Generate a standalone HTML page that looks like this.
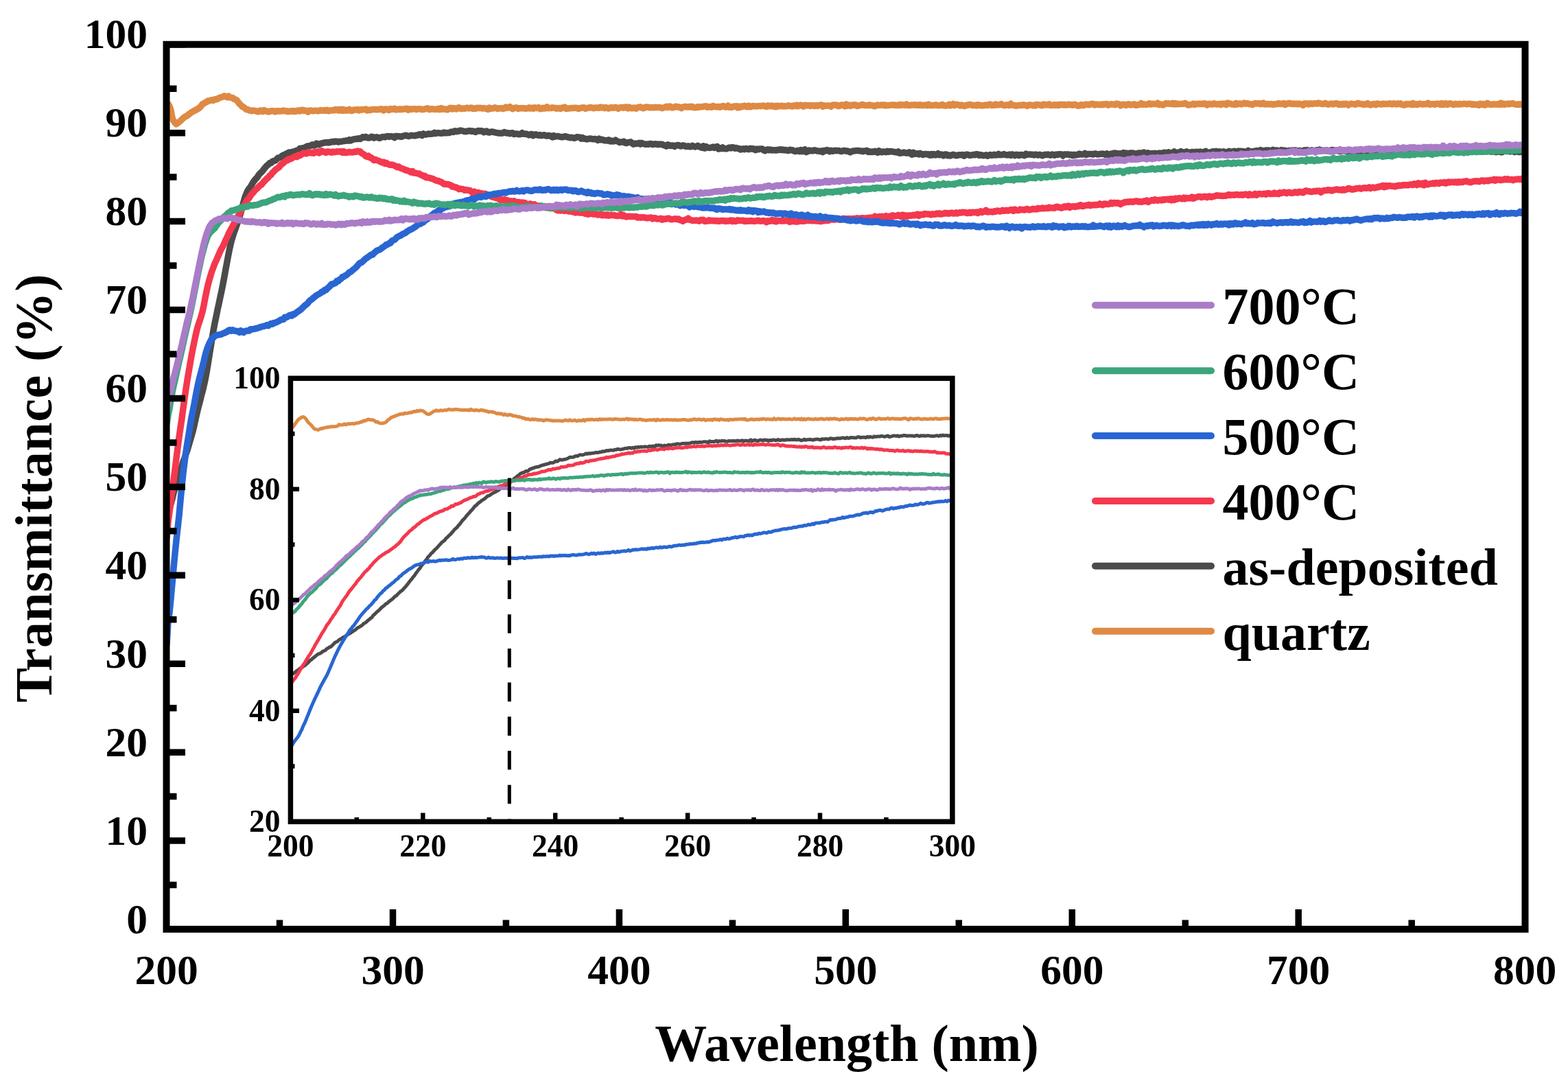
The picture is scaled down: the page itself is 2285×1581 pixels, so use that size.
<!DOCTYPE html>
<html><head><meta charset="utf-8"><title>Transmittance</title><style>html,body{margin:0;padding:0;background:#fff;}svg{display:block;}</style></head><body>
<svg width="2285" height="1581" viewBox="0 0 2285 1581">
<rect x="0" y="0" width="2285" height="1581" fill="#ffffff"/>
<defs><clipPath id="cm"><rect x="242.5" y="64.75" width="1980" height="1289.25"/></clipPath><clipPath id="ci"><rect x="423.4" y="551.3" width="964.5" height="646"/></clipPath></defs>
<g clip-path="url(#cm)" fill="none" stroke-width="9.5" stroke-linejoin="round" stroke-linecap="round">
<path d="M243.0 150.0 L245.0 151.5 L247.0 154.8 L249.0 160.5 L251.0 171.6 L253.0 176.1 L255.0 178.8 L257.0 180.8 L259.0 179.3 L261.0 177.7 L263.0 176.2 L265.0 174.0 L267.0 172.3 L269.0 170.4 L271.0 169.6 L273.0 168.6 L275.0 166.3 L277.0 165.5 L279.0 163.5 L281.0 162.7 L283.0 161.2 L285.0 160.9 L287.0 159.0 L289.0 158.4 L291.0 156.6 L293.0 154.6 L295.0 151.6 L297.0 150.8 L299.0 149.5 L301.0 148.6 L303.0 146.9 L305.0 146.9 L307.0 146.1 L309.0 145.7 L311.0 146.4 L313.0 144.8 L315.0 144.7 L317.0 144.4 L319.0 142.7 L321.0 142.1 L323.0 141.5 L325.0 140.9 L327.0 139.8 L329.0 140.7 L331.0 141.7 L333.0 140.2 L335.0 142.1 L337.0 142.2 L339.0 142.4 L341.0 144.5 L343.0 145.0 L345.0 145.9 L347.0 148.7 L349.0 151.2 L351.0 153.1 L353.0 155.3 L355.0 156.2 L357.0 157.9 L359.0 159.5 L361.0 159.4 L363.0 160.8 L365.0 161.0 L367.0 161.7 L369.0 160.9 L371.0 161.3 L373.0 161.7 L375.0 162.5 L377.0 162.7 L379.0 161.0 L381.0 161.4 L383.0 162.4 L385.0 160.6 L387.0 161.7 L389.0 161.9 L391.0 162.9 L393.0 162.5 L395.0 161.8 L397.0 161.7 L399.0 161.8 L401.0 163.0 L403.0 161.7 L405.0 161.7 L407.0 162.2 L409.0 161.8 L411.0 161.8 L413.0 161.1 L415.0 161.9 L417.0 161.5 L419.0 162.6 L421.0 162.3 L423.0 161.8 L425.0 162.2 L427.0 161.5 L429.0 162.5 L431.0 161.7 L433.0 162.1 L435.0 160.8 L437.0 161.9 L439.0 160.4 L441.0 160.2 L443.0 161.4 L445.0 160.9 L447.0 161.6 L449.0 163.1 L451.0 160.9 L453.0 161.0 L455.0 161.6 L457.0 161.7 L459.0 161.2 L461.0 161.2 L463.0 161.8 L465.0 161.6 L467.0 160.5 L469.0 161.1 L471.0 161.2 L473.0 160.4 L475.0 161.3 L477.0 160.4 L479.0 161.7 L481.0 161.1 L483.0 161.0 L485.0 160.5 L487.0 160.8 L489.0 159.4 L491.0 160.0 L493.0 161.0 L495.0 159.2 L497.0 161.3 L499.0 159.4 L501.0 161.1 L503.0 160.0 L505.0 161.1 L507.0 160.6 L509.0 159.4 L511.0 161.3 L513.0 161.4 L515.0 160.3 L517.0 160.1 L519.0 160.1 L521.0 159.5 L523.0 161.0 L525.0 159.8 L527.0 160.1 L529.0 159.5 L531.0 159.6 L533.0 159.1 L535.0 160.9 L537.0 159.9 L539.0 160.6 L541.0 159.9 L543.0 159.4 L545.0 159.6 L547.0 159.4 L549.0 159.8 L551.0 159.5 L553.0 159.5 L555.0 158.8 L557.0 159.1 L559.0 160.8 L561.0 159.2 L563.0 158.9 L565.0 159.8 L567.0 160.5 L569.0 158.5 L571.0 159.3 L573.0 159.0 L575.0 158.2 L577.0 159.9 L579.0 159.4 L581.0 159.4 L583.0 158.8 L585.0 159.6 L587.0 158.9 L589.0 159.1 L591.0 158.4 L593.0 158.3 L595.0 160.1 L597.0 158.8 L599.0 159.3 L601.0 159.0 L603.0 158.7 L605.0 158.7 L607.0 159.4 L609.0 158.8 L611.0 158.8 L613.0 158.9 L615.0 159.7 L617.0 159.3 L619.0 159.1 L621.0 158.4 L623.0 157.8 L625.0 159.4 L627.0 159.4 L629.0 158.6 L631.0 159.1 L633.0 159.2 L635.0 159.2 L637.0 159.3 L639.0 158.3 L641.0 159.6 L643.0 157.7 L645.0 159.1 L647.0 158.8 L649.0 159.1 L651.0 159.8 L653.0 159.5 L655.0 157.6 L657.0 157.2 L659.0 158.9 L661.0 157.6 L663.0 158.3 L665.0 158.9 L667.0 157.1 L669.0 156.8 L671.0 158.4 L673.0 158.3 L675.0 158.0 L677.0 158.2 L679.0 157.6 L681.0 157.1 L683.0 158.0 L685.0 157.4 L687.0 157.0 L689.0 158.4 L691.0 158.0 L693.0 158.3 L695.0 157.3 L697.0 157.6 L699.0 157.3 L701.0 157.4 L703.0 158.1 L705.0 157.4 L707.0 158.2 L709.0 158.2 L711.0 159.3 L713.0 156.9 L715.0 158.5 L717.0 157.8 L719.0 157.9 L721.0 156.8 L723.0 157.5 L725.0 158.4 L727.0 157.8 L729.0 157.9 L731.0 157.6 L733.0 158.6 L735.0 157.8 L737.0 156.2 L739.0 157.3 L741.0 156.4 L743.0 155.5 L745.0 157.4 L747.0 158.7 L749.0 157.7 L751.0 156.9 L753.0 157.0 L755.0 158.5 L757.0 157.8 L759.0 157.7 L761.0 157.6 L763.0 157.7 L765.0 158.2 L767.0 158.0 L769.0 157.8 L771.0 156.9 L773.0 158.0 L775.0 157.1 L777.0 158.3 L779.0 156.7 L781.0 157.5 L783.0 157.6 L785.0 156.6 L787.0 158.7 L789.0 158.6 L791.0 157.2 L793.0 158.1 L795.0 157.8 L797.0 155.7 L799.0 157.7 L801.0 157.4 L803.0 157.5 L805.0 156.7 L807.0 157.3 L809.0 157.3 L811.0 158.3 L813.0 157.7 L815.0 157.4 L817.0 158.5 L819.0 157.0 L821.0 157.1 L823.0 156.1 L825.0 158.5 L827.0 158.1 L829.0 158.0 L831.0 157.8 L833.0 157.4 L835.0 157.5 L837.0 157.2 L839.0 157.2 L841.0 157.4 L843.0 158.4 L845.0 157.7 L847.0 157.2 L849.0 156.9 L851.0 156.8 L853.0 158.4 L855.0 157.6 L857.0 157.3 L859.0 157.0 L861.0 156.4 L863.0 157.2 L865.0 157.8 L867.0 156.9 L869.0 157.0 L871.0 157.0 L873.0 157.2 L875.0 156.0 L877.0 157.0 L879.0 156.5 L881.0 157.7 L883.0 156.6 L885.0 157.5 L887.0 158.1 L889.0 156.9 L891.0 156.6 L893.0 157.2 L895.0 157.0 L897.0 156.3 L899.0 157.3 L901.0 158.4 L903.0 156.8 L905.0 156.8 L907.0 156.2 L909.0 157.2 L911.0 156.1 L913.0 156.1 L915.0 157.8 L917.0 156.2 L919.0 157.6 L921.0 157.9 L923.0 157.0 L925.0 157.2 L927.0 158.2 L929.0 156.6 L931.0 156.3 L933.0 155.8 L935.0 156.8 L937.0 157.7 L939.0 157.4 L941.0 156.0 L943.0 156.1 L945.0 156.3 L947.0 156.8 L949.0 156.5 L951.0 156.7 L953.0 156.8 L955.0 156.3 L957.0 156.5 L959.0 156.6 L961.0 156.4 L963.0 156.8 L965.0 157.7 L967.0 156.8 L969.0 156.4 L971.0 155.2 L973.0 156.6 L975.0 155.0 L977.0 155.3 L979.0 156.9 L981.0 156.8 L983.0 156.1 L985.0 155.0 L987.0 155.9 L989.0 155.7 L991.0 156.6 L993.0 157.7 L995.0 156.3 L997.0 155.6 L999.0 155.3 L1001.0 156.0 L1003.0 155.9 L1005.0 155.2 L1007.0 156.1 L1009.0 155.2 L1011.0 156.7 L1013.0 156.7 L1015.0 156.6 L1017.0 155.5 L1019.0 156.2 L1021.0 155.7 L1023.0 155.5 L1025.0 155.5 L1027.0 154.9 L1029.0 154.7 L1031.0 156.3 L1033.0 155.6 L1035.0 155.8 L1037.0 156.3 L1039.0 154.4 L1041.0 155.1 L1043.0 155.7 L1045.0 155.8 L1047.0 155.3 L1049.0 156.2 L1051.0 155.6 L1053.0 154.6 L1055.0 154.8 L1057.0 156.0 L1059.0 155.7 L1061.0 154.1 L1063.0 156.3 L1065.0 155.8 L1067.0 156.3 L1069.0 155.0 L1071.0 155.1 L1073.0 154.5 L1075.0 157.0 L1077.0 155.1 L1079.0 156.3 L1081.0 154.7 L1083.0 155.3 L1085.0 154.0 L1087.0 154.9 L1089.0 155.8 L1091.0 154.2 L1093.0 155.8 L1095.0 155.3 L1097.0 154.3 L1099.0 154.7 L1101.0 154.7 L1103.0 154.9 L1105.0 154.6 L1107.0 154.4 L1109.0 154.7 L1111.0 154.2 L1113.0 154.0 L1115.0 154.8 L1117.0 155.5 L1119.0 153.8 L1121.0 154.8 L1123.0 154.3 L1125.0 154.1 L1127.0 155.3 L1129.0 154.4 L1131.0 155.7 L1133.0 154.1 L1135.0 154.9 L1137.0 154.5 L1139.0 154.1 L1141.0 155.0 L1143.0 154.5 L1145.0 155.0 L1147.0 154.5 L1149.0 153.8 L1151.0 154.4 L1153.0 154.5 L1155.0 155.1 L1157.0 153.8 L1159.0 154.4 L1161.0 153.2 L1163.0 154.8 L1165.0 153.6 L1167.0 153.1 L1169.0 154.3 L1171.0 155.1 L1173.0 153.2 L1175.0 153.5 L1177.0 153.7 L1179.0 153.4 L1181.0 154.5 L1183.0 153.6 L1185.0 153.7 L1187.0 154.6 L1189.0 153.6 L1191.0 154.4 L1193.0 153.4 L1195.0 153.2 L1197.0 152.8 L1199.0 155.3 L1201.0 153.8 L1203.0 154.2 L1205.0 154.0 L1207.0 154.1 L1209.0 154.0 L1211.0 155.3 L1213.0 153.2 L1215.0 152.8 L1217.0 153.2 L1219.0 152.9 L1221.0 154.4 L1223.0 154.4 L1225.0 153.2 L1227.0 152.8 L1229.0 153.5 L1231.0 154.7 L1233.0 151.8 L1235.0 154.1 L1237.0 153.0 L1239.0 154.4 L1241.0 153.0 L1243.0 153.5 L1245.0 152.6 L1247.0 153.0 L1249.0 154.6 L1251.0 154.2 L1253.0 153.4 L1255.0 153.0 L1257.0 152.3 L1259.0 153.3 L1261.0 153.6 L1263.0 153.5 L1265.0 153.5 L1267.0 152.8 L1269.0 153.5 L1271.0 153.5 L1273.0 154.4 L1275.0 154.8 L1277.0 153.4 L1279.0 153.0 L1281.0 153.5 L1283.0 153.1 L1285.0 153.0 L1287.0 153.4 L1289.0 152.7 L1291.0 153.9 L1293.0 153.4 L1295.0 153.6 L1297.0 153.3 L1299.0 152.9 L1301.0 152.8 L1303.0 153.3 L1305.0 153.0 L1307.0 153.6 L1309.0 153.4 L1311.0 152.4 L1313.0 153.4 L1315.0 152.5 L1317.0 153.0 L1319.0 153.2 L1321.0 151.9 L1323.0 153.4 L1325.0 153.5 L1327.0 153.3 L1329.0 153.1 L1331.0 153.1 L1333.0 152.7 L1335.0 153.2 L1337.0 153.0 L1339.0 153.4 L1341.0 152.5 L1343.0 153.5 L1345.0 153.4 L1347.0 153.2 L1349.0 153.0 L1351.0 153.7 L1353.0 152.1 L1355.0 153.6 L1357.0 153.5 L1359.0 153.5 L1361.0 153.6 L1363.0 152.8 L1365.0 153.1 L1367.0 153.7 L1369.0 153.6 L1371.0 153.4 L1373.0 152.2 L1375.0 153.6 L1377.0 154.1 L1379.0 154.0 L1381.0 153.4 L1383.0 152.2 L1385.0 153.9 L1387.0 153.1 L1389.0 151.5 L1391.0 153.5 L1393.0 152.2 L1395.0 152.3 L1397.0 152.8 L1399.0 154.1 L1401.0 153.0 L1403.0 153.4 L1405.0 154.4 L1407.0 154.3 L1409.0 153.1 L1411.0 153.0 L1413.0 152.3 L1415.0 152.7 L1417.0 153.5 L1419.0 153.5 L1421.0 153.3 L1423.0 153.9 L1425.0 152.6 L1427.0 153.1 L1429.0 153.7 L1431.0 153.6 L1433.0 153.9 L1435.0 153.4 L1437.0 152.9 L1439.0 153.4 L1441.0 152.4 L1443.0 152.0 L1445.0 153.5 L1447.0 153.1 L1449.0 153.3 L1451.0 151.9 L1453.0 152.9 L1455.0 152.7 L1457.0 152.5 L1459.0 151.5 L1461.0 152.9 L1463.0 153.7 L1465.0 153.4 L1467.0 152.7 L1469.0 153.1 L1471.0 153.6 L1473.0 151.1 L1475.0 153.0 L1477.0 153.4 L1479.0 153.5 L1481.0 154.2 L1483.0 153.8 L1485.0 153.3 L1487.0 153.3 L1489.0 153.6 L1491.0 152.7 L1493.0 153.0 L1495.0 153.6 L1497.0 154.4 L1499.0 152.9 L1501.0 153.0 L1503.0 153.1 L1505.0 153.9 L1507.0 153.0 L1509.0 154.0 L1511.0 152.3 L1513.0 152.8 L1515.0 152.8 L1517.0 153.5 L1519.0 153.7 L1521.0 151.9 L1523.0 152.3 L1525.0 153.1 L1527.0 152.4 L1529.0 151.8 L1531.0 153.6 L1533.0 153.2 L1535.0 153.2 L1537.0 152.5 L1539.0 153.5 L1541.0 152.6 L1543.0 153.6 L1545.0 152.2 L1547.0 152.2 L1549.0 152.9 L1551.0 152.3 L1553.0 153.2 L1555.0 152.9 L1557.0 152.1 L1559.0 152.8 L1561.0 152.4 L1563.0 153.3 L1565.0 152.2 L1567.0 152.3 L1569.0 153.5 L1571.0 154.2 L1573.0 154.0 L1575.0 152.6 L1577.0 152.7 L1579.0 153.6 L1581.0 152.5 L1583.0 151.9 L1585.0 152.6 L1587.0 152.8 L1589.0 151.9 L1591.0 151.3 L1593.0 151.5 L1595.0 152.9 L1597.0 151.9 L1599.0 152.3 L1601.0 152.5 L1603.0 152.8 L1605.0 152.1 L1607.0 152.7 L1609.0 151.7 L1611.0 152.1 L1613.0 151.6 L1615.0 153.1 L1617.0 152.3 L1619.0 151.7 L1621.0 152.0 L1623.0 152.1 L1625.0 152.7 L1627.0 151.1 L1629.0 151.5 L1631.0 151.9 L1633.0 153.9 L1635.0 152.8 L1637.0 152.0 L1639.0 152.6 L1641.0 153.5 L1643.0 151.9 L1645.0 151.8 L1647.0 152.9 L1649.0 152.4 L1651.0 152.5 L1653.0 151.7 L1655.0 153.3 L1657.0 153.2 L1659.0 152.4 L1661.0 152.4 L1663.0 150.5 L1665.0 152.4 L1667.0 151.8 L1669.0 152.2 L1671.0 152.4 L1673.0 151.6 L1675.0 150.7 L1677.0 152.1 L1679.0 151.3 L1681.0 151.6 L1683.0 151.4 L1685.0 151.6 L1687.0 150.2 L1689.0 152.6 L1691.0 151.9 L1693.0 152.5 L1695.0 153.1 L1697.0 151.7 L1699.0 150.5 L1701.0 151.1 L1703.0 150.8 L1705.0 151.3 L1707.0 151.7 L1709.0 150.3 L1711.0 151.9 L1713.0 150.6 L1715.0 151.8 L1717.0 151.5 L1719.0 151.4 L1721.0 151.6 L1723.0 151.2 L1725.0 151.2 L1727.0 150.4 L1729.0 151.6 L1731.0 152.9 L1733.0 152.9 L1735.0 152.5 L1737.0 152.0 L1739.0 151.1 L1741.0 152.5 L1743.0 151.5 L1745.0 151.5 L1747.0 151.3 L1749.0 151.6 L1751.0 151.2 L1753.0 151.5 L1755.0 150.8 L1757.0 151.2 L1759.0 153.1 L1761.0 151.5 L1763.0 151.3 L1765.0 151.9 L1767.0 152.0 L1769.0 150.7 L1771.0 151.4 L1773.0 152.1 L1775.0 151.7 L1777.0 151.6 L1779.0 152.6 L1781.0 151.0 L1783.0 151.6 L1785.0 151.1 L1787.0 152.5 L1789.0 150.1 L1791.0 151.0 L1793.0 151.1 L1795.0 152.0 L1797.0 151.9 L1799.0 152.5 L1801.0 150.4 L1803.0 152.0 L1805.0 151.3 L1807.0 151.0 L1809.0 151.9 L1811.0 150.9 L1813.0 150.0 L1815.0 151.2 L1817.0 150.5 L1819.0 151.0 L1821.0 151.8 L1823.0 151.7 L1825.0 152.6 L1827.0 151.4 L1829.0 150.4 L1831.0 151.0 L1833.0 150.9 L1835.0 150.6 L1837.0 151.8 L1839.0 151.0 L1841.0 150.1 L1843.0 152.0 L1845.0 151.4 L1847.0 151.7 L1849.0 151.6 L1851.0 151.9 L1853.0 151.5 L1855.0 152.4 L1857.0 151.8 L1859.0 151.8 L1861.0 151.8 L1863.0 150.5 L1865.0 151.4 L1867.0 151.3 L1869.0 151.6 L1871.0 150.5 L1873.0 152.6 L1875.0 151.6 L1877.0 150.7 L1879.0 150.3 L1881.0 151.3 L1883.0 151.4 L1885.0 151.0 L1887.0 151.6 L1889.0 151.1 L1891.0 151.9 L1893.0 151.0 L1895.0 151.5 L1897.0 152.2 L1899.0 153.3 L1901.0 150.8 L1903.0 151.2 L1905.0 150.9 L1907.0 152.0 L1909.0 150.7 L1911.0 151.2 L1913.0 151.5 L1915.0 150.8 L1917.0 150.8 L1919.0 151.2 L1921.0 150.0 L1923.0 150.5 L1925.0 151.2 L1927.0 151.6 L1929.0 151.4 L1931.0 150.3 L1933.0 151.2 L1935.0 152.1 L1937.0 151.9 L1939.0 151.4 L1941.0 150.9 L1943.0 151.9 L1945.0 151.1 L1947.0 150.7 L1949.0 150.9 L1951.0 152.5 L1953.0 151.7 L1955.0 152.3 L1957.0 151.2 L1959.0 152.2 L1961.0 151.1 L1963.0 151.4 L1965.0 153.2 L1967.0 152.0 L1969.0 151.1 L1971.0 151.4 L1973.0 151.7 L1975.0 152.3 L1977.0 151.2 L1979.0 150.3 L1981.0 151.3 L1983.0 151.5 L1985.0 151.6 L1987.0 152.4 L1989.0 151.7 L1991.0 152.1 L1993.0 150.7 L1995.0 152.1 L1997.0 153.0 L1999.0 152.0 L2001.0 151.7 L2003.0 151.6 L2005.0 152.8 L2007.0 150.9 L2009.0 151.4 L2011.0 151.8 L2013.0 152.0 L2015.0 151.2 L2017.0 151.7 L2019.0 151.3 L2021.0 151.6 L2023.0 151.4 L2025.0 150.7 L2027.0 151.5 L2029.0 152.1 L2031.0 150.8 L2033.0 151.3 L2035.0 152.0 L2037.0 150.8 L2039.0 151.6 L2041.0 150.8 L2043.0 152.3 L2045.0 153.1 L2047.0 152.9 L2049.0 151.4 L2051.0 152.0 L2053.0 151.6 L2055.0 151.6 L2057.0 152.6 L2059.0 150.6 L2061.0 152.3 L2063.0 151.5 L2065.0 152.5 L2067.0 151.7 L2069.0 151.1 L2071.0 151.7 L2073.0 152.1 L2075.0 151.6 L2077.0 151.9 L2079.0 151.2 L2081.0 150.1 L2083.0 152.2 L2085.0 152.0 L2087.0 151.7 L2089.0 151.6 L2091.0 152.3 L2093.0 151.2 L2095.0 151.1 L2097.0 151.4 L2099.0 152.4 L2101.0 150.6 L2103.0 152.4 L2105.0 151.1 L2107.0 150.8 L2109.0 152.5 L2111.0 151.5 L2113.0 150.7 L2115.0 151.3 L2117.0 152.3 L2119.0 152.4 L2121.0 151.3 L2123.0 151.9 L2125.0 152.1 L2127.0 151.2 L2129.0 151.9 L2131.0 151.6 L2133.0 151.3 L2135.0 151.3 L2137.0 151.7 L2139.0 151.7 L2141.0 151.2 L2143.0 151.3 L2145.0 152.4 L2147.0 151.8 L2149.0 152.3 L2151.0 152.5 L2153.0 152.1 L2155.0 153.3 L2157.0 151.1 L2159.0 152.2 L2161.0 151.5 L2163.0 153.0 L2165.0 152.9 L2167.0 150.3 L2169.0 151.0 L2171.0 152.2 L2173.0 152.3 L2175.0 152.2 L2177.0 151.7 L2179.0 152.0 L2181.0 152.2 L2183.0 151.7 L2185.0 152.4 L2187.0 150.1 L2189.0 152.2 L2191.0 151.0 L2193.0 152.4 L2195.0 151.6 L2197.0 151.1 L2199.0 152.0 L2201.0 151.1 L2203.0 151.1 L2205.0 150.7 L2207.0 151.8 L2209.0 152.1 L2211.0 152.5 L2213.0 151.7 L2215.0 152.5 L2217.0 151.8 L2219.0 151.7 L2221.0 152.2" stroke="#de8a44"/>
<path d="M243.0 760.0 L245.0 747.2 L247.0 740.6 L249.0 734.0 L251.0 726.8 L253.0 718.2 L255.0 711.2 L257.0 704.7 L259.0 699.2 L261.0 693.3 L263.0 687.1 L265.0 679.3 L267.0 672.5 L269.0 667.6 L271.0 661.4 L273.0 655.8 L275.0 649.2 L277.0 642.3 L279.0 635.5 L281.0 628.5 L283.0 620.1 L285.0 610.8 L287.0 601.9 L289.0 593.6 L291.0 586.4 L293.0 578.1 L295.0 570.8 L297.0 562.5 L299.0 553.4 L301.0 542.9 L303.0 531.0 L305.0 518.4 L307.0 505.9 L309.0 493.4 L311.0 481.3 L313.0 470.9 L315.0 461.4 L317.0 451.3 L319.0 442.4 L321.0 432.7 L323.0 423.5 L325.0 413.5 L327.0 402.8 L329.0 391.9 L331.0 381.1 L333.0 370.3 L335.0 360.6 L337.0 351.9 L339.0 345.3 L341.0 338.9 L343.0 333.5 L345.0 327.8 L347.0 322.8 L349.0 315.8 L351.0 309.5 L353.0 302.1 L355.0 294.2 L357.0 287.3 L359.0 282.3 L361.0 277.8 L363.0 274.7 L365.0 272.3 L367.0 268.9 L369.0 265.2 L371.0 262.7 L373.0 260.3 L375.0 258.3 L377.0 255.0 L379.0 252.6 L381.0 250.9 L383.0 248.6 L385.0 245.9 L387.0 243.5 L389.0 241.3 L391.0 239.9 L393.0 237.5 L395.0 237.5 L397.0 235.3 L399.0 234.6 L401.0 234.0 L403.0 232.4 L405.0 230.0 L407.0 230.0 L409.0 229.1 L411.0 227.1 L413.0 226.0 L415.0 225.7 L417.0 224.0 L419.0 225.0 L421.0 222.0 L423.0 222.0 L425.0 221.8 L427.0 221.1 L429.0 220.6 L431.0 220.0 L433.0 219.0 L435.0 219.0 L437.0 216.3 L439.0 216.8 L441.0 215.7 L443.0 215.4 L445.0 214.7 L447.0 213.3 L449.0 212.8 L451.0 213.0 L453.0 212.1 L455.0 210.9 L457.0 212.1 L459.0 211.8 L461.0 209.0 L463.0 209.7 L465.0 210.9 L467.0 209.5 L469.0 208.8 L471.0 208.3 L473.0 207.8 L475.0 207.8 L477.0 207.4 L479.0 208.0 L481.0 207.1 L483.0 206.9 L485.0 206.2 L487.0 206.8 L489.0 206.0 L491.0 206.3 L493.0 207.0 L495.0 206.3 L497.0 206.2 L499.0 205.9 L501.0 205.5 L503.0 205.2 L505.0 204.8 L507.0 205.2 L509.0 203.7 L511.0 205.0 L513.0 203.8 L515.0 202.9 L517.0 202.7 L519.0 202.3 L521.0 202.5 L523.0 201.5 L525.0 202.4 L527.0 200.9 L529.0 199.6 L531.0 200.4 L533.0 199.3 L535.0 200.5 L537.0 201.1 L539.0 200.7 L541.0 199.2 L543.0 199.5 L545.0 201.1 L547.0 200.1 L549.0 199.8 L551.0 200.4 L553.0 201.3 L555.0 200.4 L557.0 199.6 L559.0 199.6 L561.0 199.8 L563.0 198.9 L565.0 198.5 L567.0 199.2 L569.0 198.5 L571.0 199.0 L573.0 199.1 L575.0 200.5 L577.0 198.3 L579.0 198.7 L581.0 198.6 L583.0 199.0 L585.0 199.3 L587.0 198.2 L589.0 197.9 L591.0 197.2 L593.0 197.6 L595.0 198.5 L597.0 198.1 L599.0 197.3 L601.0 197.6 L603.0 197.7 L605.0 197.8 L607.0 196.9 L609.0 197.0 L611.0 195.7 L613.0 196.0 L615.0 197.6 L617.0 194.9 L619.0 195.9 L621.0 196.0 L623.0 195.4 L625.0 194.9 L627.0 195.2 L629.0 195.1 L631.0 194.8 L633.0 193.4 L635.0 194.4 L637.0 193.7 L639.0 193.8 L641.0 194.1 L643.0 194.2 L645.0 194.1 L647.0 193.0 L649.0 193.7 L651.0 193.7 L653.0 193.4 L655.0 193.4 L657.0 192.2 L659.0 192.0 L661.0 192.5 L663.0 190.8 L665.0 191.7 L667.0 191.1 L669.0 191.1 L671.0 190.0 L673.0 190.5 L675.0 191.0 L677.0 191.6 L679.0 191.7 L681.0 191.0 L683.0 190.9 L685.0 190.5 L687.0 191.4 L689.0 191.0 L691.0 191.6 L693.0 192.5 L695.0 191.3 L697.0 190.4 L699.0 191.0 L701.0 190.6 L703.0 190.9 L705.0 192.7 L707.0 192.1 L709.0 191.0 L711.0 192.6 L713.0 193.1 L715.0 192.2 L717.0 192.0 L719.0 192.4 L721.0 192.9 L723.0 193.3 L725.0 193.7 L727.0 193.9 L729.0 194.0 L731.0 194.2 L733.0 193.8 L735.0 192.5 L737.0 193.6 L739.0 194.0 L741.0 193.7 L743.0 194.7 L745.0 194.0 L747.0 193.7 L749.0 195.5 L751.0 195.1 L753.0 194.9 L755.0 195.5 L757.0 195.8 L759.0 195.4 L761.0 193.7 L763.0 195.0 L765.0 195.3 L767.0 195.1 L769.0 196.0 L771.0 196.9 L773.0 195.8 L775.0 195.5 L777.0 197.8 L779.0 196.2 L781.0 195.8 L783.0 196.9 L785.0 197.2 L787.0 196.5 L789.0 197.7 L791.0 196.9 L793.0 196.7 L795.0 197.6 L797.0 198.1 L799.0 197.3 L801.0 198.0 L803.0 197.9 L805.0 200.0 L807.0 197.7 L809.0 199.2 L811.0 198.4 L813.0 198.4 L815.0 199.1 L817.0 199.4 L819.0 199.8 L821.0 199.3 L823.0 198.8 L825.0 199.0 L827.0 199.8 L829.0 200.0 L831.0 200.7 L833.0 200.2 L835.0 200.8 L837.0 201.3 L839.0 200.5 L841.0 199.6 L843.0 199.9 L845.0 199.9 L847.0 202.1 L849.0 200.7 L851.0 202.2 L853.0 202.0 L855.0 202.9 L857.0 202.6 L859.0 202.0 L861.0 202.1 L863.0 202.5 L865.0 202.7 L867.0 202.4 L869.0 203.0 L871.0 204.3 L873.0 202.2 L875.0 203.8 L877.0 203.2 L879.0 204.1 L881.0 204.8 L883.0 204.4 L885.0 205.1 L887.0 203.8 L889.0 205.8 L891.0 204.9 L893.0 205.9 L895.0 205.8 L897.0 204.2 L899.0 205.6 L901.0 206.4 L903.0 207.5 L905.0 206.9 L907.0 207.0 L909.0 206.1 L911.0 208.2 L913.0 208.6 L915.0 207.6 L917.0 207.6 L919.0 206.9 L921.0 208.7 L923.0 210.1 L925.0 208.9 L927.0 209.5 L929.0 209.1 L931.0 208.3 L933.0 210.0 L935.0 208.4 L937.0 209.3 L939.0 209.8 L941.0 210.3 L943.0 210.1 L945.0 210.3 L947.0 209.6 L949.0 209.4 L951.0 210.5 L953.0 210.1 L955.0 209.8 L957.0 210.0 L959.0 210.7 L961.0 209.9 L963.0 210.3 L965.0 210.2 L967.0 211.6 L969.0 211.9 L971.0 213.1 L973.0 210.8 L975.0 211.4 L977.0 212.6 L979.0 211.9 L981.0 211.9 L983.0 213.4 L985.0 212.1 L987.0 211.6 L989.0 211.6 L991.0 212.8 L993.0 212.9 L995.0 211.8 L997.0 212.2 L999.0 213.3 L1001.0 213.4 L1003.0 212.7 L1005.0 213.7 L1007.0 213.7 L1009.0 212.2 L1011.0 213.3 L1013.0 213.9 L1015.0 213.3 L1017.0 212.3 L1019.0 213.7 L1021.0 214.5 L1023.0 215.2 L1025.0 212.7 L1027.0 216.1 L1029.0 213.6 L1031.0 215.1 L1033.0 215.4 L1035.0 215.3 L1037.0 214.9 L1039.0 214.0 L1041.0 215.4 L1043.0 214.5 L1045.0 213.4 L1047.0 217.1 L1049.0 215.8 L1051.0 216.6 L1053.0 214.9 L1055.0 216.6 L1057.0 216.7 L1059.0 216.8 L1061.0 215.8 L1063.0 215.1 L1065.0 215.9 L1067.0 214.6 L1069.0 215.0 L1071.0 216.3 L1073.0 215.6 L1075.0 216.3 L1077.0 216.4 L1079.0 217.9 L1081.0 217.5 L1083.0 216.7 L1085.0 217.6 L1087.0 216.4 L1089.0 216.8 L1091.0 217.7 L1093.0 216.3 L1095.0 217.0 L1097.0 216.4 L1099.0 217.5 L1101.0 218.6 L1103.0 217.1 L1105.0 217.8 L1107.0 217.1 L1109.0 217.0 L1111.0 217.0 L1113.0 219.0 L1115.0 219.7 L1117.0 218.5 L1119.0 217.7 L1121.0 218.8 L1123.0 218.1 L1125.0 219.0 L1127.0 218.7 L1129.0 218.8 L1131.0 219.1 L1133.0 218.3 L1135.0 218.5 L1137.0 217.7 L1139.0 218.6 L1141.0 218.0 L1143.0 218.9 L1145.0 218.4 L1147.0 219.2 L1149.0 219.5 L1151.0 218.2 L1153.0 218.7 L1155.0 218.7 L1157.0 219.9 L1159.0 220.6 L1161.0 220.0 L1163.0 219.2 L1165.0 220.5 L1167.0 218.5 L1169.0 220.6 L1171.0 219.1 L1173.0 217.7 L1175.0 221.5 L1177.0 220.7 L1179.0 219.0 L1181.0 219.8 L1183.0 219.6 L1185.0 219.8 L1187.0 218.7 L1189.0 219.3 L1191.0 220.1 L1193.0 220.0 L1195.0 220.6 L1197.0 219.9 L1199.0 221.5 L1201.0 219.4 L1203.0 220.0 L1205.0 218.5 L1207.0 219.0 L1209.0 220.8 L1211.0 219.3 L1213.0 220.3 L1215.0 219.9 L1217.0 219.2 L1219.0 219.7 L1221.0 219.6 L1223.0 219.6 L1225.0 220.5 L1227.0 220.5 L1229.0 219.6 L1231.0 219.4 L1233.0 220.2 L1235.0 220.0 L1237.0 220.8 L1239.0 221.9 L1241.0 220.7 L1243.0 220.1 L1245.0 220.0 L1247.0 219.5 L1249.0 219.5 L1251.0 219.5 L1253.0 219.9 L1255.0 219.9 L1257.0 220.7 L1259.0 220.0 L1261.0 220.1 L1263.0 219.4 L1265.0 221.4 L1267.0 220.7 L1269.0 221.6 L1271.0 220.9 L1273.0 221.4 L1275.0 220.3 L1277.0 221.0 L1279.0 222.4 L1281.0 219.7 L1283.0 221.4 L1285.0 221.8 L1287.0 221.0 L1289.0 221.3 L1291.0 221.7 L1293.0 220.4 L1295.0 221.3 L1297.0 220.5 L1299.0 220.7 L1301.0 220.9 L1303.0 221.3 L1305.0 221.7 L1307.0 222.0 L1309.0 220.8 L1311.0 223.3 L1313.0 222.9 L1315.0 222.7 L1317.0 222.1 L1319.0 222.5 L1321.0 223.1 L1323.0 223.1 L1325.0 221.8 L1327.0 223.7 L1329.0 225.3 L1331.0 222.2 L1333.0 224.3 L1335.0 224.0 L1337.0 223.8 L1339.0 225.0 L1341.0 223.4 L1343.0 224.4 L1345.0 225.5 L1347.0 224.5 L1349.0 224.4 L1351.0 224.9 L1353.0 224.7 L1355.0 226.2 L1357.0 224.6 L1359.0 225.9 L1361.0 224.5 L1363.0 225.9 L1365.0 225.5 L1367.0 223.8 L1369.0 225.7 L1371.0 225.0 L1373.0 225.4 L1375.0 226.9 L1377.0 225.0 L1379.0 225.0 L1381.0 226.8 L1383.0 225.9 L1385.0 226.9 L1387.0 226.0 L1389.0 225.2 L1391.0 225.8 L1393.0 226.7 L1395.0 226.5 L1397.0 225.8 L1399.0 225.8 L1401.0 225.7 L1403.0 225.4 L1405.0 227.2 L1407.0 225.8 L1409.0 225.0 L1411.0 225.5 L1413.0 226.3 L1415.0 226.3 L1417.0 225.7 L1419.0 225.3 L1421.0 225.8 L1423.0 224.6 L1425.0 224.9 L1427.0 226.4 L1429.0 225.5 L1431.0 226.1 L1433.0 226.7 L1435.0 226.3 L1437.0 225.8 L1439.0 227.3 L1441.0 226.3 L1443.0 225.5 L1445.0 226.3 L1447.0 226.1 L1449.0 225.2 L1451.0 225.9 L1453.0 225.7 L1455.0 224.4 L1457.0 225.7 L1459.0 225.6 L1461.0 225.5 L1463.0 224.6 L1465.0 225.5 L1467.0 225.8 L1469.0 225.9 L1471.0 225.0 L1473.0 226.3 L1475.0 224.9 L1477.0 225.6 L1479.0 226.7 L1481.0 225.3 L1483.0 225.4 L1485.0 226.6 L1487.0 225.5 L1489.0 225.6 L1491.0 226.0 L1493.0 226.6 L1495.0 224.2 L1497.0 225.2 L1499.0 225.1 L1501.0 225.0 L1503.0 225.2 L1505.0 225.2 L1507.0 226.0 L1509.0 225.1 L1511.0 225.8 L1513.0 226.0 L1515.0 225.2 L1517.0 225.8 L1519.0 226.8 L1521.0 225.9 L1523.0 225.2 L1525.0 225.6 L1527.0 225.0 L1529.0 225.8 L1531.0 226.2 L1533.0 225.0 L1535.0 225.4 L1537.0 226.3 L1539.0 225.1 L1541.0 225.6 L1543.0 224.7 L1545.0 224.8 L1547.0 225.0 L1549.0 226.9 L1551.0 225.0 L1553.0 224.9 L1555.0 224.9 L1557.0 225.1 L1559.0 225.7 L1561.0 225.3 L1563.0 226.6 L1565.0 225.3 L1567.0 226.1 L1569.0 225.3 L1571.0 225.5 L1573.0 224.0 L1575.0 224.9 L1577.0 224.9 L1579.0 224.8 L1581.0 223.4 L1583.0 225.5 L1585.0 224.6 L1587.0 224.5 L1589.0 224.6 L1591.0 224.6 L1593.0 225.0 L1595.0 223.9 L1597.0 224.1 L1599.0 224.9 L1601.0 224.8 L1603.0 224.4 L1605.0 224.2 L1607.0 224.0 L1609.0 224.5 L1611.0 225.3 L1613.0 223.8 L1615.0 225.5 L1617.0 225.0 L1619.0 224.1 L1621.0 224.9 L1623.0 223.3 L1625.0 223.1 L1627.0 223.4 L1629.0 223.9 L1631.0 224.0 L1633.0 223.8 L1635.0 224.2 L1637.0 222.6 L1639.0 224.4 L1641.0 223.0 L1643.0 223.5 L1645.0 223.6 L1647.0 223.1 L1649.0 222.9 L1651.0 223.1 L1653.0 223.8 L1655.0 224.1 L1657.0 224.1 L1659.0 223.0 L1661.0 223.1 L1663.0 222.9 L1665.0 223.8 L1667.0 222.1 L1669.0 224.3 L1671.0 223.1 L1673.0 222.8 L1675.0 223.6 L1677.0 224.0 L1679.0 223.5 L1681.0 223.9 L1683.0 223.2 L1685.0 224.0 L1687.0 223.9 L1689.0 223.0 L1691.0 224.0 L1693.0 223.0 L1695.0 223.0 L1697.0 222.2 L1699.0 222.6 L1701.0 223.3 L1703.0 221.8 L1705.0 223.1 L1707.0 222.9 L1709.0 222.8 L1711.0 221.0 L1713.0 222.4 L1715.0 222.9 L1717.0 221.9 L1719.0 222.4 L1721.0 220.7 L1723.0 222.8 L1725.0 221.8 L1727.0 222.8 L1729.0 220.9 L1731.0 222.6 L1733.0 221.9 L1735.0 222.6 L1737.0 221.4 L1739.0 221.5 L1741.0 223.5 L1743.0 221.3 L1745.0 221.4 L1747.0 221.6 L1749.0 221.1 L1751.0 222.6 L1753.0 222.9 L1755.0 221.2 L1757.0 220.4 L1759.0 222.4 L1761.0 222.3 L1763.0 222.1 L1765.0 222.3 L1767.0 220.8 L1769.0 221.3 L1771.0 220.4 L1773.0 220.4 L1775.0 222.0 L1777.0 220.8 L1779.0 222.8 L1781.0 221.3 L1783.0 220.7 L1785.0 221.7 L1787.0 222.3 L1789.0 221.4 L1791.0 220.2 L1793.0 221.2 L1795.0 221.9 L1797.0 220.6 L1799.0 220.3 L1801.0 221.5 L1803.0 220.9 L1805.0 220.0 L1807.0 220.5 L1809.0 220.2 L1811.0 220.8 L1813.0 220.7 L1815.0 221.4 L1817.0 221.0 L1819.0 219.4 L1821.0 220.7 L1823.0 221.0 L1825.0 220.7 L1827.0 221.0 L1829.0 219.9 L1831.0 219.6 L1833.0 220.9 L1835.0 219.4 L1837.0 218.6 L1839.0 220.8 L1841.0 219.6 L1843.0 219.8 L1845.0 219.0 L1847.0 219.1 L1849.0 219.1 L1851.0 219.7 L1853.0 220.1 L1855.0 218.3 L1857.0 220.4 L1859.0 219.0 L1861.0 219.0 L1863.0 220.2 L1865.0 219.7 L1867.0 218.6 L1869.0 221.0 L1871.0 219.1 L1873.0 219.8 L1875.0 219.8 L1877.0 220.6 L1879.0 219.3 L1881.0 220.3 L1883.0 219.0 L1885.0 220.3 L1887.0 219.0 L1889.0 219.3 L1891.0 220.8 L1893.0 219.7 L1895.0 219.6 L1897.0 221.1 L1899.0 219.8 L1901.0 218.9 L1903.0 220.0 L1905.0 218.7 L1907.0 220.3 L1909.0 220.3 L1911.0 219.1 L1913.0 219.1 L1915.0 219.6 L1917.0 219.5 L1919.0 218.8 L1921.0 219.9 L1923.0 218.1 L1925.0 219.2 L1927.0 219.2 L1929.0 219.3 L1931.0 219.7 L1933.0 218.7 L1935.0 220.0 L1937.0 219.4 L1939.0 219.1 L1941.0 218.6 L1943.0 218.7 L1945.0 219.8 L1947.0 218.9 L1949.0 219.6 L1951.0 220.3 L1953.0 220.3 L1955.0 220.7 L1957.0 219.4 L1959.0 218.9 L1961.0 220.3 L1963.0 219.8 L1965.0 220.4 L1967.0 219.6 L1969.0 220.5 L1971.0 220.2 L1973.0 220.2 L1975.0 220.0 L1977.0 220.0 L1979.0 219.8 L1981.0 219.9 L1983.0 220.4 L1985.0 219.4 L1987.0 220.9 L1989.0 219.7 L1991.0 220.4 L1993.0 219.7 L1995.0 219.6 L1997.0 221.2 L1999.0 219.6 L2001.0 218.9 L2003.0 219.3 L2005.0 219.6 L2007.0 221.3 L2009.0 220.0 L2011.0 220.5 L2013.0 219.1 L2015.0 220.1 L2017.0 220.3 L2019.0 221.1 L2021.0 219.4 L2023.0 220.3 L2025.0 220.1 L2027.0 219.2 L2029.0 219.9 L2031.0 219.7 L2033.0 218.3 L2035.0 220.4 L2037.0 220.3 L2039.0 219.6 L2041.0 219.0 L2043.0 221.0 L2045.0 220.2 L2047.0 220.7 L2049.0 221.0 L2051.0 219.6 L2053.0 220.6 L2055.0 219.9 L2057.0 220.0 L2059.0 220.0 L2061.0 220.0 L2063.0 220.8 L2065.0 220.2 L2067.0 220.0 L2069.0 219.9 L2071.0 220.3 L2073.0 219.5 L2075.0 219.8 L2077.0 220.1 L2079.0 219.7 L2081.0 220.1 L2083.0 219.7 L2085.0 221.6 L2087.0 221.1 L2089.0 220.5 L2091.0 220.2 L2093.0 221.7 L2095.0 220.4 L2097.0 220.2 L2099.0 220.4 L2101.0 220.5 L2103.0 221.2 L2105.0 220.2 L2107.0 221.7 L2109.0 219.7 L2111.0 220.8 L2113.0 219.6 L2115.0 221.6 L2117.0 220.1 L2119.0 220.3 L2121.0 221.0 L2123.0 221.2 L2125.0 219.6 L2127.0 220.1 L2129.0 219.4 L2131.0 220.5 L2133.0 220.3 L2135.0 220.2 L2137.0 220.0 L2139.0 220.2 L2141.0 219.9 L2143.0 220.8 L2145.0 221.5 L2147.0 219.2 L2149.0 220.4 L2151.0 220.2 L2153.0 220.9 L2155.0 219.9 L2157.0 220.5 L2159.0 219.9 L2161.0 221.1 L2163.0 220.7 L2165.0 220.5 L2167.0 220.9 L2169.0 220.5 L2171.0 219.6 L2173.0 221.1 L2175.0 220.9 L2177.0 220.6 L2179.0 221.4 L2181.0 221.6 L2183.0 220.0 L2185.0 220.2 L2187.0 221.8 L2189.0 221.8 L2191.0 220.3 L2193.0 220.0 L2195.0 220.4 L2197.0 220.5 L2199.0 219.7 L2201.0 220.9 L2203.0 220.0 L2205.0 220.0 L2207.0 221.5 L2209.0 220.4 L2211.0 220.9 L2213.0 221.4 L2215.0 221.5 L2217.0 220.7 L2219.0 221.0 L2221.0 220.4" stroke="#4b4b4b"/>
<path d="M243.0 784.2 L245.0 760.3 L247.0 745.8 L249.0 730.1 L251.0 715.4 L253.0 699.8 L255.0 683.9 L257.0 668.0 L259.0 651.9 L261.0 636.9 L263.0 623.0 L265.0 609.9 L267.0 594.8 L269.0 580.2 L271.0 566.4 L273.0 553.5 L275.0 541.7 L277.0 530.2 L279.0 518.8 L281.0 508.4 L283.0 498.3 L285.0 488.9 L287.0 480.4 L289.0 473.3 L291.0 467.7 L293.0 461.3 L295.0 454.3 L297.0 444.9 L299.0 434.3 L301.0 424.5 L303.0 415.4 L305.0 408.0 L307.0 401.2 L309.0 394.7 L311.0 389.3 L313.0 383.8 L315.0 379.8 L317.0 375.2 L319.0 370.7 L321.0 365.9 L323.0 362.0 L325.0 358.5 L327.0 354.4 L329.0 349.6 L331.0 345.7 L333.0 340.8 L335.0 336.9 L337.0 333.2 L339.0 329.8 L341.0 325.8 L343.0 323.4 L345.0 319.9 L347.0 315.2 L349.0 311.2 L351.0 308.0 L353.0 304.0 L355.0 299.7 L357.0 297.2 L359.0 293.6 L361.0 290.2 L363.0 288.6 L365.0 285.2 L367.0 282.5 L369.0 280.6 L371.0 278.0 L373.0 276.0 L375.0 274.5 L377.0 272.1 L379.0 270.1 L381.0 269.0 L383.0 266.5 L385.0 264.4 L387.0 262.2 L389.0 260.1 L391.0 258.6 L393.0 255.9 L395.0 254.8 L397.0 251.6 L399.0 250.0 L401.0 247.6 L403.0 246.2 L405.0 244.7 L407.0 243.3 L409.0 240.4 L411.0 239.0 L413.0 237.3 L415.0 235.6 L417.0 234.2 L419.0 233.7 L421.0 231.7 L423.0 231.7 L425.0 230.8 L427.0 229.5 L429.0 228.5 L431.0 227.5 L433.0 228.5 L435.0 225.8 L437.0 226.7 L439.0 225.3 L441.0 224.0 L443.0 222.9 L445.0 223.7 L447.0 223.8 L449.0 221.8 L451.0 222.1 L453.0 222.9 L455.0 222.3 L457.0 223.3 L459.0 221.5 L461.0 222.1 L463.0 220.8 L465.0 223.0 L467.0 221.0 L469.0 219.9 L471.0 221.2 L473.0 221.2 L475.0 222.5 L477.0 220.9 L479.0 221.1 L481.0 221.5 L483.0 222.2 L485.0 221.0 L487.0 221.7 L489.0 221.4 L491.0 220.8 L493.0 221.1 L495.0 221.1 L497.0 220.6 L499.0 222.2 L501.0 220.6 L503.0 222.5 L505.0 222.5 L507.0 221.9 L509.0 221.5 L511.0 221.8 L513.0 222.0 L515.0 221.8 L517.0 221.1 L519.0 221.3 L521.0 220.1 L523.0 221.0 L525.0 220.8 L527.0 223.2 L529.0 224.3 L531.0 225.4 L533.0 227.6 L535.0 228.4 L537.0 227.2 L539.0 229.7 L541.0 229.6 L543.0 231.9 L545.0 233.5 L547.0 232.4 L549.0 233.5 L551.0 234.0 L553.0 235.0 L555.0 235.8 L557.0 236.9 L559.0 236.1 L561.0 238.3 L563.0 237.4 L565.0 238.8 L567.0 239.9 L569.0 240.3 L571.0 239.9 L573.0 240.6 L575.0 241.4 L577.0 242.3 L579.0 243.7 L581.0 242.9 L583.0 244.6 L585.0 245.4 L587.0 246.0 L589.0 246.7 L591.0 248.0 L593.0 248.1 L595.0 249.0 L597.0 249.6 L599.0 251.0 L601.0 249.5 L603.0 252.1 L605.0 251.9 L607.0 252.6 L609.0 252.9 L611.0 253.1 L613.0 254.7 L615.0 255.3 L617.0 256.7 L619.0 256.2 L621.0 258.7 L623.0 258.7 L625.0 259.1 L627.0 259.5 L629.0 260.2 L631.0 260.7 L633.0 261.8 L635.0 262.8 L637.0 263.4 L639.0 263.4 L641.0 264.8 L643.0 265.2 L645.0 266.5 L647.0 268.3 L649.0 268.3 L651.0 268.5 L653.0 268.5 L655.0 269.3 L657.0 269.8 L659.0 272.0 L661.0 271.8 L663.0 272.9 L665.0 273.1 L667.0 274.2 L669.0 275.6 L671.0 274.9 L673.0 275.6 L675.0 275.8 L677.0 277.3 L679.0 276.6 L681.0 277.0 L683.0 277.3 L685.0 277.7 L687.0 279.3 L689.0 281.1 L691.0 279.2 L693.0 280.9 L695.0 280.9 L697.0 280.4 L699.0 281.4 L701.0 281.9 L703.0 282.1 L705.0 284.2 L707.0 282.3 L709.0 284.3 L711.0 284.8 L713.0 284.8 L715.0 285.8 L717.0 286.9 L719.0 287.0 L721.0 287.8 L723.0 288.6 L725.0 287.5 L727.0 290.2 L729.0 291.3 L731.0 291.0 L733.0 291.5 L735.0 290.5 L737.0 291.8 L739.0 291.8 L741.0 292.3 L743.0 293.7 L745.0 292.9 L747.0 293.6 L749.0 292.8 L751.0 294.2 L753.0 294.7 L755.0 294.4 L757.0 294.7 L759.0 296.7 L761.0 294.9 L763.0 295.3 L765.0 295.7 L767.0 297.3 L769.0 298.2 L771.0 297.4 L773.0 297.0 L775.0 297.5 L777.0 298.8 L779.0 297.9 L781.0 299.8 L783.0 300.2 L785.0 299.8 L787.0 300.5 L789.0 301.0 L791.0 302.0 L793.0 300.7 L795.0 302.6 L797.0 302.0 L799.0 302.2 L801.0 303.2 L803.0 303.4 L805.0 303.4 L807.0 303.4 L809.0 304.2 L811.0 306.1 L813.0 306.8 L815.0 306.3 L817.0 307.0 L819.0 306.2 L821.0 306.8 L823.0 307.3 L825.0 306.7 L827.0 307.0 L829.0 308.0 L831.0 308.0 L833.0 307.8 L835.0 309.0 L837.0 308.9 L839.0 310.0 L841.0 309.5 L843.0 309.6 L845.0 310.1 L847.0 310.1 L849.0 310.0 L851.0 310.4 L853.0 311.4 L855.0 311.5 L857.0 312.1 L859.0 310.3 L861.0 311.4 L863.0 311.6 L865.0 312.1 L867.0 311.9 L869.0 312.0 L871.0 313.0 L873.0 312.7 L875.0 312.0 L877.0 313.8 L879.0 313.7 L881.0 312.8 L883.0 313.9 L885.0 312.9 L887.0 314.3 L889.0 313.5 L891.0 313.3 L893.0 313.7 L895.0 313.5 L897.0 314.3 L899.0 314.4 L901.0 314.4 L903.0 314.2 L905.0 312.2 L907.0 314.9 L909.0 313.6 L911.0 315.2 L913.0 315.9 L915.0 315.5 L917.0 315.2 L919.0 315.4 L921.0 315.6 L923.0 315.5 L925.0 315.6 L927.0 315.5 L929.0 317.1 L931.0 316.4 L933.0 317.2 L935.0 316.5 L937.0 316.9 L939.0 316.8 L941.0 317.4 L943.0 317.8 L945.0 317.5 L947.0 317.0 L949.0 317.1 L951.0 318.9 L953.0 317.7 L955.0 317.8 L957.0 319.1 L959.0 319.0 L961.0 318.8 L963.0 318.3 L965.0 320.2 L967.0 319.0 L969.0 319.3 L971.0 318.9 L973.0 318.2 L975.0 318.3 L977.0 319.6 L979.0 319.7 L981.0 319.4 L983.0 318.9 L985.0 318.8 L987.0 319.7 L989.0 319.0 L991.0 320.7 L993.0 321.0 L995.0 322.3 L997.0 321.0 L999.0 320.1 L1001.0 319.9 L1003.0 318.2 L1005.0 320.3 L1007.0 320.6 L1009.0 321.5 L1011.0 321.3 L1013.0 321.3 L1015.0 321.1 L1017.0 321.5 L1019.0 322.1 L1021.0 320.4 L1023.0 320.9 L1025.0 320.3 L1027.0 322.4 L1029.0 322.3 L1031.0 322.0 L1033.0 320.7 L1035.0 321.7 L1037.0 321.4 L1039.0 321.7 L1041.0 321.5 L1043.0 322.1 L1045.0 321.5 L1047.0 322.4 L1049.0 322.0 L1051.0 321.6 L1053.0 321.8 L1055.0 321.6 L1057.0 322.5 L1059.0 321.8 L1061.0 322.2 L1063.0 321.7 L1065.0 321.0 L1067.0 322.6 L1069.0 321.3 L1071.0 322.5 L1073.0 322.3 L1075.0 320.8 L1077.0 321.3 L1079.0 321.6 L1081.0 321.4 L1083.0 321.2 L1085.0 322.5 L1087.0 321.8 L1089.0 322.3 L1091.0 321.7 L1093.0 322.2 L1095.0 321.5 L1097.0 322.0 L1099.0 322.4 L1101.0 322.0 L1103.0 321.7 L1105.0 321.2 L1107.0 322.1 L1109.0 322.2 L1111.0 321.8 L1113.0 321.5 L1115.0 322.4 L1117.0 323.7 L1119.0 321.8 L1121.0 322.2 L1123.0 322.3 L1125.0 320.2 L1127.0 322.1 L1129.0 321.5 L1131.0 323.0 L1133.0 321.8 L1135.0 321.5 L1137.0 321.8 L1139.0 322.1 L1141.0 321.6 L1143.0 322.0 L1145.0 321.1 L1147.0 321.8 L1149.0 322.5 L1151.0 323.4 L1153.0 322.5 L1155.0 322.2 L1157.0 322.8 L1159.0 322.7 L1161.0 323.2 L1163.0 322.8 L1165.0 321.9 L1167.0 322.2 L1169.0 322.1 L1171.0 322.2 L1173.0 322.1 L1175.0 321.4 L1177.0 320.4 L1179.0 321.4 L1181.0 320.4 L1183.0 321.8 L1185.0 321.7 L1187.0 320.5 L1189.0 322.0 L1191.0 322.1 L1193.0 321.5 L1195.0 322.5 L1197.0 322.5 L1199.0 320.3 L1201.0 321.8 L1203.0 321.3 L1205.0 321.2 L1207.0 321.4 L1209.0 320.2 L1211.0 320.1 L1213.0 319.9 L1215.0 319.8 L1217.0 320.1 L1219.0 319.1 L1221.0 319.3 L1223.0 320.2 L1225.0 319.7 L1227.0 319.9 L1229.0 318.2 L1231.0 318.8 L1233.0 318.8 L1235.0 319.1 L1237.0 318.6 L1239.0 319.5 L1241.0 318.7 L1243.0 318.6 L1245.0 318.4 L1247.0 318.8 L1249.0 317.8 L1251.0 318.8 L1253.0 318.2 L1255.0 317.9 L1257.0 317.7 L1259.0 317.9 L1261.0 318.1 L1263.0 317.9 L1265.0 317.4 L1267.0 317.6 L1269.0 317.0 L1271.0 317.6 L1273.0 316.7 L1275.0 315.2 L1277.0 317.4 L1279.0 316.4 L1281.0 315.4 L1283.0 316.0 L1285.0 315.4 L1287.0 317.4 L1289.0 316.2 L1291.0 314.7 L1293.0 316.0 L1295.0 315.2 L1297.0 316.7 L1299.0 314.6 L1301.0 313.7 L1303.0 315.1 L1305.0 314.7 L1307.0 314.6 L1309.0 313.3 L1311.0 314.9 L1313.0 315.7 L1315.0 313.1 L1317.0 315.1 L1319.0 313.8 L1321.0 315.7 L1323.0 314.3 L1325.0 313.8 L1327.0 314.5 L1329.0 314.0 L1331.0 313.2 L1333.0 313.9 L1335.0 313.0 L1337.0 312.0 L1339.0 314.5 L1341.0 312.8 L1343.0 312.5 L1345.0 313.0 L1347.0 311.6 L1349.0 311.7 L1351.0 312.1 L1353.0 312.0 L1355.0 312.3 L1357.0 312.9 L1359.0 311.7 L1361.0 312.3 L1363.0 312.2 L1365.0 311.0 L1367.0 311.8 L1369.0 310.9 L1371.0 312.1 L1373.0 311.6 L1375.0 311.2 L1377.0 310.2 L1379.0 311.1 L1381.0 310.4 L1383.0 311.3 L1385.0 310.6 L1387.0 310.0 L1389.0 311.1 L1391.0 310.9 L1393.0 309.9 L1395.0 311.0 L1397.0 309.9 L1399.0 309.8 L1401.0 310.0 L1403.0 309.3 L1405.0 309.4 L1407.0 309.5 L1409.0 310.6 L1411.0 310.5 L1413.0 309.2 L1415.0 310.4 L1417.0 309.2 L1419.0 309.4 L1421.0 309.6 L1423.0 309.1 L1425.0 310.5 L1427.0 308.9 L1429.0 307.8 L1431.0 309.5 L1433.0 308.2 L1435.0 308.2 L1437.0 306.3 L1439.0 308.9 L1441.0 308.7 L1443.0 308.6 L1445.0 308.6 L1447.0 309.0 L1449.0 307.7 L1451.0 308.3 L1453.0 307.1 L1455.0 307.2 L1457.0 308.1 L1459.0 307.5 L1461.0 306.3 L1463.0 307.3 L1465.0 306.9 L1467.0 306.3 L1469.0 307.1 L1471.0 306.4 L1473.0 305.5 L1475.0 305.7 L1477.0 307.6 L1479.0 305.2 L1481.0 306.3 L1483.0 306.5 L1485.0 306.4 L1487.0 305.0 L1489.0 305.5 L1491.0 305.7 L1493.0 306.0 L1495.0 304.9 L1497.0 304.4 L1499.0 305.8 L1501.0 305.7 L1503.0 305.1 L1505.0 304.3 L1507.0 304.9 L1509.0 304.5 L1511.0 304.9 L1513.0 303.4 L1515.0 304.1 L1517.0 303.8 L1519.0 303.0 L1521.0 303.8 L1523.0 303.5 L1525.0 303.1 L1527.0 303.5 L1529.0 302.1 L1531.0 302.9 L1533.0 303.1 L1535.0 302.8 L1537.0 303.2 L1539.0 301.5 L1541.0 301.2 L1543.0 302.2 L1545.0 302.2 L1547.0 303.2 L1549.0 302.0 L1551.0 300.9 L1553.0 301.9 L1555.0 300.6 L1557.0 300.0 L1559.0 302.6 L1561.0 300.9 L1563.0 301.0 L1565.0 300.8 L1567.0 301.5 L1569.0 300.3 L1571.0 300.8 L1573.0 299.1 L1575.0 298.7 L1577.0 300.5 L1579.0 300.4 L1581.0 299.6 L1583.0 299.2 L1585.0 299.0 L1587.0 298.3 L1589.0 299.7 L1591.0 298.9 L1593.0 298.7 L1595.0 298.5 L1597.0 298.8 L1599.0 298.3 L1601.0 298.3 L1603.0 296.9 L1605.0 297.9 L1607.0 298.8 L1609.0 296.9 L1611.0 297.0 L1613.0 297.6 L1615.0 297.5 L1617.0 297.1 L1619.0 295.4 L1621.0 296.7 L1623.0 295.4 L1625.0 295.6 L1627.0 296.3 L1629.0 295.6 L1631.0 296.2 L1633.0 297.7 L1635.0 295.9 L1637.0 295.8 L1639.0 294.5 L1641.0 294.6 L1643.0 294.1 L1645.0 294.4 L1647.0 293.8 L1649.0 294.0 L1651.0 294.2 L1653.0 293.5 L1655.0 293.1 L1657.0 293.0 L1659.0 294.0 L1661.0 293.6 L1663.0 294.2 L1665.0 294.0 L1667.0 293.0 L1669.0 293.5 L1671.0 291.9 L1673.0 294.3 L1675.0 293.4 L1677.0 292.3 L1679.0 291.6 L1681.0 292.5 L1683.0 290.8 L1685.0 291.4 L1687.0 292.3 L1689.0 291.7 L1691.0 291.2 L1693.0 292.0 L1695.0 290.5 L1697.0 291.3 L1699.0 290.6 L1701.0 290.2 L1703.0 291.0 L1705.0 289.9 L1707.0 291.7 L1709.0 289.9 L1711.0 291.5 L1713.0 289.2 L1715.0 290.2 L1717.0 288.9 L1719.0 288.6 L1721.0 289.5 L1723.0 289.7 L1725.0 288.2 L1727.0 289.8 L1729.0 288.3 L1731.0 288.8 L1733.0 288.8 L1735.0 288.8 L1737.0 287.0 L1739.0 289.2 L1741.0 288.3 L1743.0 287.5 L1745.0 287.0 L1747.0 286.4 L1749.0 286.4 L1751.0 287.6 L1753.0 286.9 L1755.0 286.2 L1757.0 286.5 L1759.0 287.7 L1761.0 286.3 L1763.0 286.0 L1765.0 287.2 L1767.0 286.5 L1769.0 286.1 L1771.0 285.5 L1773.0 284.8 L1775.0 284.9 L1777.0 285.3 L1779.0 285.3 L1781.0 285.6 L1783.0 285.6 L1785.0 285.3 L1787.0 285.2 L1789.0 284.3 L1791.0 283.4 L1793.0 284.4 L1795.0 284.0 L1797.0 284.1 L1799.0 284.2 L1801.0 283.5 L1803.0 283.5 L1805.0 284.1 L1807.0 284.1 L1809.0 283.5 L1811.0 284.2 L1813.0 283.6 L1815.0 282.9 L1817.0 283.6 L1819.0 284.7 L1821.0 282.9 L1823.0 284.1 L1825.0 284.1 L1827.0 284.1 L1829.0 282.4 L1831.0 284.3 L1833.0 282.9 L1835.0 282.5 L1837.0 282.5 L1839.0 283.0 L1841.0 282.5 L1843.0 282.2 L1845.0 283.2 L1847.0 281.7 L1849.0 281.4 L1851.0 282.6 L1853.0 282.4 L1855.0 282.6 L1857.0 281.0 L1859.0 282.4 L1861.0 281.9 L1863.0 282.7 L1865.0 280.5 L1867.0 281.4 L1869.0 281.0 L1871.0 280.0 L1873.0 280.5 L1875.0 281.7 L1877.0 280.5 L1879.0 280.3 L1881.0 281.2 L1883.0 281.2 L1885.0 281.1 L1887.0 279.8 L1889.0 280.2 L1891.0 280.9 L1893.0 279.6 L1895.0 279.5 L1897.0 280.4 L1899.0 280.8 L1901.0 278.9 L1903.0 277.8 L1905.0 278.5 L1907.0 278.7 L1909.0 279.2 L1911.0 279.6 L1913.0 279.0 L1915.0 278.5 L1917.0 278.9 L1919.0 278.1 L1921.0 278.6 L1923.0 278.1 L1925.0 280.2 L1927.0 278.8 L1929.0 277.6 L1931.0 277.4 L1933.0 277.6 L1935.0 276.7 L1937.0 277.2 L1939.0 277.0 L1941.0 278.0 L1943.0 277.0 L1945.0 276.6 L1947.0 276.1 L1949.0 276.1 L1951.0 276.7 L1953.0 276.4 L1955.0 277.2 L1957.0 275.9 L1959.0 276.9 L1961.0 276.2 L1963.0 275.9 L1965.0 274.4 L1967.0 274.7 L1969.0 275.9 L1971.0 276.2 L1973.0 275.3 L1975.0 275.5 L1977.0 274.6 L1979.0 274.4 L1981.0 274.1 L1983.0 275.1 L1985.0 274.5 L1987.0 273.9 L1989.0 273.7 L1991.0 274.2 L1993.0 273.9 L1995.0 272.9 L1997.0 274.5 L1999.0 273.4 L2001.0 273.0 L2003.0 273.9 L2005.0 273.4 L2007.0 272.5 L2009.0 272.8 L2011.0 271.6 L2013.0 271.7 L2015.0 270.5 L2017.0 272.7 L2019.0 270.4 L2021.0 272.0 L2023.0 270.8 L2025.0 270.6 L2027.0 271.0 L2029.0 271.2 L2031.0 271.2 L2033.0 271.9 L2035.0 270.8 L2037.0 271.0 L2039.0 269.9 L2041.0 270.6 L2043.0 270.1 L2045.0 269.6 L2047.0 269.7 L2049.0 269.6 L2051.0 269.7 L2053.0 269.7 L2055.0 268.9 L2057.0 268.7 L2059.0 269.5 L2061.0 267.8 L2063.0 268.4 L2065.0 269.7 L2067.0 266.7 L2069.0 268.0 L2071.0 268.8 L2073.0 267.1 L2075.0 269.9 L2077.0 266.2 L2079.0 268.8 L2081.0 268.8 L2083.0 268.2 L2085.0 267.4 L2087.0 267.6 L2089.0 266.7 L2091.0 267.7 L2093.0 266.3 L2095.0 266.7 L2097.0 267.5 L2099.0 266.0 L2101.0 266.3 L2103.0 266.6 L2105.0 265.5 L2107.0 267.1 L2109.0 266.4 L2111.0 265.0 L2113.0 265.9 L2115.0 265.3 L2117.0 265.3 L2119.0 265.7 L2121.0 265.0 L2123.0 266.0 L2125.0 264.8 L2127.0 265.8 L2129.0 265.0 L2131.0 265.5 L2133.0 264.5 L2135.0 264.4 L2137.0 263.8 L2139.0 264.9 L2141.0 265.1 L2143.0 265.8 L2145.0 265.1 L2147.0 264.3 L2149.0 263.9 L2151.0 264.2 L2153.0 263.8 L2155.0 264.7 L2157.0 264.2 L2159.0 262.9 L2161.0 262.9 L2163.0 264.2 L2165.0 263.4 L2167.0 262.9 L2169.0 263.8 L2171.0 262.6 L2173.0 262.6 L2175.0 262.4 L2177.0 261.3 L2179.0 263.1 L2181.0 261.6 L2183.0 261.9 L2185.0 261.7 L2187.0 262.6 L2189.0 262.0 L2191.0 262.0 L2193.0 260.7 L2195.0 261.7 L2197.0 260.7 L2199.0 261.8 L2201.0 261.8 L2203.0 261.4 L2205.0 262.7 L2207.0 261.6 L2209.0 261.6 L2211.0 261.2 L2213.0 260.8 L2215.0 261.6 L2217.0 261.6 L2219.0 259.8 L2221.0 261.4" stroke="#f4384e"/>
<path d="M243.0 939.0 L245.0 905.6 L247.0 892.8 L249.0 872.3 L251.0 850.1 L253.0 827.7 L255.0 806.6 L257.0 786.8 L259.0 769.1 L261.0 751.0 L263.0 729.1 L265.0 707.8 L267.0 689.4 L269.0 673.0 L271.0 658.0 L273.0 645.3 L275.0 633.3 L277.0 620.2 L279.0 608.3 L281.0 598.9 L283.0 588.8 L285.0 577.8 L287.0 567.3 L289.0 557.9 L291.0 549.6 L293.0 541.9 L295.0 534.5 L297.0 526.6 L299.0 517.8 L301.0 510.6 L303.0 505.0 L305.0 500.3 L307.0 496.6 L309.0 493.0 L311.0 491.9 L313.0 489.8 L315.0 488.6 L317.0 488.1 L319.0 487.7 L321.0 487.6 L323.0 486.9 L325.0 485.7 L327.0 485.4 L329.0 483.9 L331.0 483.5 L333.0 481.4 L335.0 480.7 L337.0 482.1 L339.0 480.7 L341.0 481.8 L343.0 482.3 L345.0 482.5 L347.0 482.9 L349.0 484.4 L351.0 481.7 L353.0 483.8 L355.0 484.4 L357.0 482.6 L359.0 482.1 L361.0 482.0 L363.0 482.1 L365.0 479.7 L367.0 480.0 L369.0 479.4 L371.0 479.3 L373.0 478.6 L375.0 478.4 L377.0 477.3 L379.0 477.1 L381.0 476.1 L383.0 475.6 L385.0 475.3 L387.0 474.7 L389.0 473.5 L391.0 474.6 L393.0 472.9 L395.0 471.5 L397.0 472.3 L399.0 470.5 L401.0 470.5 L403.0 469.3 L405.0 468.5 L407.0 467.5 L409.0 466.1 L411.0 465.4 L413.0 465.6 L415.0 462.2 L417.0 462.5 L419.0 461.8 L421.0 460.0 L423.0 459.0 L425.0 460.1 L427.0 457.7 L429.0 458.2 L431.0 456.2 L433.0 454.6 L435.0 453.4 L437.0 451.9 L439.0 450.5 L441.0 448.4 L443.0 446.4 L445.0 444.6 L447.0 443.3 L449.0 441.2 L451.0 438.5 L453.0 437.0 L455.0 435.7 L457.0 433.7 L459.0 432.3 L461.0 430.5 L463.0 429.4 L465.0 428.3 L467.0 427.2 L469.0 425.3 L471.0 425.0 L473.0 422.5 L475.0 422.8 L477.0 420.3 L479.0 418.6 L481.0 416.7 L483.0 414.1 L485.0 414.1 L487.0 412.9 L489.0 412.5 L491.0 409.4 L493.0 409.8 L495.0 407.3 L497.0 406.4 L499.0 403.4 L501.0 403.4 L503.0 401.7 L505.0 400.8 L507.0 399.0 L509.0 396.8 L511.0 396.2 L513.0 394.4 L515.0 392.7 L517.0 391.1 L519.0 389.4 L521.0 387.1 L523.0 384.6 L525.0 382.9 L527.0 382.5 L529.0 380.5 L531.0 378.6 L533.0 376.8 L535.0 375.5 L537.0 374.1 L539.0 372.5 L541.0 371.0 L543.0 371.2 L545.0 368.8 L547.0 367.1 L549.0 365.4 L551.0 364.5 L553.0 363.9 L555.0 362.7 L557.0 360.9 L559.0 359.7 L561.0 358.2 L563.0 356.4 L565.0 356.3 L567.0 354.5 L569.0 354.2 L571.0 351.1 L573.0 350.1 L575.0 349.3 L577.0 347.3 L579.0 345.4 L581.0 344.3 L583.0 343.6 L585.0 342.4 L587.0 341.0 L589.0 340.3 L591.0 339.1 L593.0 337.6 L595.0 336.3 L597.0 335.0 L599.0 334.3 L601.0 333.3 L603.0 331.7 L605.0 330.7 L607.0 329.1 L609.0 327.4 L611.0 326.4 L613.0 326.0 L615.0 324.6 L617.0 323.8 L619.0 321.5 L621.0 320.4 L623.0 319.1 L625.0 317.4 L627.0 315.0 L629.0 313.7 L631.0 312.3 L633.0 310.2 L635.0 309.6 L637.0 308.6 L639.0 306.5 L641.0 306.8 L643.0 304.6 L645.0 303.7 L647.0 302.8 L649.0 301.7 L651.0 301.5 L653.0 300.5 L655.0 300.7 L657.0 299.4 L659.0 298.6 L661.0 297.5 L663.0 296.1 L665.0 296.2 L667.0 295.2 L669.0 295.6 L671.0 294.5 L673.0 294.9 L675.0 293.8 L677.0 293.3 L679.0 292.4 L681.0 291.9 L683.0 291.6 L685.0 291.3 L687.0 289.8 L689.0 290.0 L691.0 290.8 L693.0 288.6 L695.0 288.0 L697.0 287.2 L699.0 286.3 L701.0 287.4 L703.0 286.2 L705.0 285.9 L707.0 286.4 L709.0 286.3 L711.0 283.7 L713.0 284.5 L715.0 283.8 L717.0 283.3 L719.0 282.9 L721.0 282.2 L723.0 282.9 L725.0 281.9 L727.0 281.4 L729.0 281.7 L731.0 281.2 L733.0 280.6 L735.0 280.3 L737.0 281.0 L739.0 280.0 L741.0 279.4 L743.0 278.8 L745.0 279.0 L747.0 278.3 L749.0 279.0 L751.0 279.0 L753.0 277.3 L755.0 278.6 L757.0 278.9 L759.0 278.4 L761.0 277.5 L763.0 278.9 L765.0 277.5 L767.0 277.0 L769.0 277.0 L771.0 277.6 L773.0 278.2 L775.0 278.2 L777.0 277.5 L779.0 276.5 L781.0 276.7 L783.0 276.5 L785.0 276.9 L787.0 275.7 L789.0 277.0 L791.0 277.3 L793.0 276.7 L795.0 277.0 L797.0 276.0 L799.0 275.6 L801.0 276.2 L803.0 277.4 L805.0 277.3 L807.0 276.2 L809.0 277.4 L811.0 276.3 L813.0 277.6 L815.0 276.8 L817.0 276.2 L819.0 277.2 L821.0 276.2 L823.0 276.2 L825.0 276.0 L827.0 277.3 L829.0 277.2 L831.0 277.4 L833.0 277.3 L835.0 278.8 L837.0 277.7 L839.0 277.8 L841.0 279.3 L843.0 279.7 L845.0 279.2 L847.0 278.1 L849.0 279.1 L851.0 280.1 L853.0 280.0 L855.0 281.3 L857.0 279.6 L859.0 281.2 L861.0 280.6 L863.0 282.1 L865.0 281.4 L867.0 282.4 L869.0 281.5 L871.0 281.2 L873.0 281.6 L875.0 282.1 L877.0 282.0 L879.0 283.7 L881.0 284.0 L883.0 283.4 L885.0 282.7 L887.0 283.6 L889.0 283.4 L891.0 285.0 L893.0 284.4 L895.0 284.8 L897.0 284.4 L899.0 283.6 L901.0 284.6 L903.0 284.6 L905.0 285.8 L907.0 285.9 L909.0 285.6 L911.0 286.1 L913.0 287.7 L915.0 286.3 L917.0 286.6 L919.0 287.3 L921.0 287.3 L923.0 287.7 L925.0 288.6 L927.0 289.7 L929.0 287.7 L931.0 289.1 L933.0 289.5 L935.0 289.7 L937.0 289.9 L939.0 290.1 L941.0 291.2 L943.0 290.6 L945.0 291.1 L947.0 291.5 L949.0 291.8 L951.0 292.0 L953.0 293.0 L955.0 292.7 L957.0 293.1 L959.0 293.3 L961.0 293.0 L963.0 293.4 L965.0 293.6 L967.0 294.7 L969.0 294.4 L971.0 294.5 L973.0 295.7 L975.0 296.2 L977.0 295.0 L979.0 297.6 L981.0 296.8 L983.0 297.0 L985.0 298.1 L987.0 297.7 L989.0 297.6 L991.0 299.7 L993.0 297.8 L995.0 298.8 L997.0 299.6 L999.0 298.7 L1001.0 299.5 L1003.0 300.1 L1005.0 301.7 L1007.0 299.8 L1009.0 300.6 L1011.0 301.2 L1013.0 301.1 L1015.0 300.4 L1017.0 301.7 L1019.0 301.7 L1021.0 302.1 L1023.0 302.8 L1025.0 302.9 L1027.0 302.7 L1029.0 302.8 L1031.0 302.0 L1033.0 302.8 L1035.0 303.3 L1037.0 303.0 L1039.0 303.5 L1041.0 303.1 L1043.0 304.8 L1045.0 305.4 L1047.0 303.8 L1049.0 304.5 L1051.0 304.2 L1053.0 305.4 L1055.0 305.0 L1057.0 304.9 L1059.0 304.9 L1061.0 305.2 L1063.0 304.6 L1065.0 305.9 L1067.0 305.1 L1069.0 306.1 L1071.0 306.0 L1073.0 306.8 L1075.0 306.2 L1077.0 307.0 L1079.0 305.9 L1081.0 307.0 L1083.0 306.6 L1085.0 307.0 L1087.0 307.1 L1089.0 307.8 L1091.0 306.0 L1093.0 307.7 L1095.0 306.7 L1097.0 308.6 L1099.0 306.7 L1101.0 307.5 L1103.0 307.2 L1105.0 309.6 L1107.0 307.8 L1109.0 308.9 L1111.0 308.6 L1113.0 307.9 L1115.0 309.1 L1117.0 309.9 L1119.0 309.5 L1121.0 310.5 L1123.0 309.8 L1125.0 310.2 L1127.0 310.1 L1129.0 310.7 L1131.0 312.0 L1133.0 311.1 L1135.0 311.2 L1137.0 310.8 L1139.0 310.9 L1141.0 312.5 L1143.0 311.0 L1145.0 311.3 L1147.0 312.0 L1149.0 312.0 L1151.0 313.7 L1153.0 311.0 L1155.0 313.0 L1157.0 313.4 L1159.0 312.4 L1161.0 312.9 L1163.0 313.8 L1165.0 314.8 L1167.0 313.2 L1169.0 313.0 L1171.0 314.8 L1173.0 315.4 L1175.0 314.3 L1177.0 313.2 L1179.0 315.9 L1181.0 314.9 L1183.0 316.0 L1185.0 315.4 L1187.0 315.4 L1189.0 315.5 L1191.0 317.0 L1193.0 317.1 L1195.0 314.9 L1197.0 315.9 L1199.0 317.9 L1201.0 316.6 L1203.0 316.1 L1205.0 317.2 L1207.0 317.3 L1209.0 317.5 L1211.0 317.5 L1213.0 317.8 L1215.0 317.8 L1217.0 318.6 L1219.0 318.0 L1221.0 318.5 L1223.0 318.8 L1225.0 320.0 L1227.0 319.6 L1229.0 319.5 L1231.0 320.1 L1233.0 320.2 L1235.0 320.9 L1237.0 320.7 L1239.0 321.7 L1241.0 321.6 L1243.0 320.9 L1245.0 320.8 L1247.0 321.9 L1249.0 321.8 L1251.0 321.6 L1253.0 320.9 L1255.0 320.8 L1257.0 322.5 L1259.0 322.9 L1261.0 323.1 L1263.0 321.9 L1265.0 323.6 L1267.0 322.7 L1269.0 323.5 L1271.0 323.7 L1273.0 323.0 L1275.0 323.3 L1277.0 322.4 L1279.0 323.3 L1281.0 322.8 L1283.0 324.5 L1285.0 324.4 L1287.0 325.1 L1289.0 324.8 L1291.0 324.2 L1293.0 325.0 L1295.0 324.7 L1297.0 325.5 L1299.0 325.4 L1301.0 324.6 L1303.0 325.4 L1305.0 325.5 L1307.0 325.4 L1309.0 326.3 L1311.0 327.0 L1313.0 325.7 L1315.0 325.8 L1317.0 324.6 L1319.0 326.2 L1321.0 326.1 L1323.0 325.0 L1325.0 326.8 L1327.0 327.1 L1329.0 326.3 L1331.0 326.6 L1333.0 326.3 L1335.0 327.6 L1337.0 326.1 L1339.0 327.0 L1341.0 328.7 L1343.0 327.4 L1345.0 327.8 L1347.0 327.5 L1349.0 326.9 L1351.0 327.7 L1353.0 328.1 L1355.0 327.2 L1357.0 328.2 L1359.0 328.9 L1361.0 328.9 L1363.0 327.1 L1365.0 327.6 L1367.0 327.2 L1369.0 329.1 L1371.0 328.9 L1373.0 329.0 L1375.0 328.0 L1377.0 327.8 L1379.0 328.8 L1381.0 328.8 L1383.0 328.2 L1385.0 329.0 L1387.0 329.4 L1389.0 329.1 L1391.0 328.3 L1393.0 327.6 L1395.0 329.0 L1397.0 329.3 L1399.0 329.1 L1401.0 329.0 L1403.0 328.9 L1405.0 329.9 L1407.0 329.4 L1409.0 329.6 L1411.0 328.9 L1413.0 329.2 L1415.0 329.8 L1417.0 329.0 L1419.0 328.9 L1421.0 329.6 L1423.0 330.7 L1425.0 330.1 L1427.0 331.0 L1429.0 329.9 L1431.0 329.8 L1433.0 329.1 L1435.0 329.7 L1437.0 331.2 L1439.0 330.5 L1441.0 330.8 L1443.0 330.8 L1445.0 330.3 L1447.0 330.2 L1449.0 330.5 L1451.0 330.9 L1453.0 330.8 L1455.0 330.9 L1457.0 330.7 L1459.0 330.0 L1461.0 330.4 L1463.0 330.0 L1465.0 331.4 L1467.0 329.2 L1469.0 330.5 L1471.0 332.4 L1473.0 330.5 L1475.0 330.0 L1477.0 330.7 L1479.0 331.7 L1481.0 330.7 L1483.0 331.2 L1485.0 330.9 L1487.0 330.5 L1489.0 333.0 L1491.0 330.8 L1493.0 330.4 L1495.0 330.5 L1497.0 331.1 L1499.0 331.1 L1501.0 331.3 L1503.0 330.9 L1505.0 329.8 L1507.0 331.1 L1509.0 330.5 L1511.0 330.5 L1513.0 329.7 L1515.0 330.3 L1517.0 330.2 L1519.0 330.6 L1521.0 329.6 L1523.0 330.7 L1525.0 330.7 L1527.0 329.8 L1529.0 330.1 L1531.0 330.0 L1533.0 331.2 L1535.0 328.8 L1537.0 330.3 L1539.0 329.3 L1541.0 330.2 L1543.0 331.0 L1545.0 330.0 L1547.0 330.5 L1549.0 329.8 L1551.0 331.7 L1553.0 331.0 L1555.0 331.1 L1557.0 329.3 L1559.0 329.5 L1561.0 331.0 L1563.0 330.1 L1565.0 330.0 L1567.0 330.4 L1569.0 329.3 L1571.0 330.6 L1573.0 330.1 L1575.0 330.4 L1577.0 329.6 L1579.0 330.4 L1581.0 329.5 L1583.0 330.6 L1585.0 330.7 L1587.0 330.5 L1589.0 330.3 L1591.0 330.3 L1593.0 328.0 L1595.0 330.4 L1597.0 329.6 L1599.0 329.9 L1601.0 329.6 L1603.0 328.8 L1605.0 329.4 L1607.0 330.2 L1609.0 330.7 L1611.0 329.2 L1613.0 329.0 L1615.0 330.7 L1617.0 329.0 L1619.0 331.1 L1621.0 329.6 L1623.0 329.0 L1625.0 330.2 L1627.0 330.7 L1629.0 328.5 L1631.0 330.6 L1633.0 329.3 L1635.0 330.5 L1637.0 329.2 L1639.0 328.3 L1641.0 329.8 L1643.0 330.0 L1645.0 330.8 L1647.0 330.6 L1649.0 329.8 L1651.0 329.2 L1653.0 329.0 L1655.0 329.1 L1657.0 328.7 L1659.0 329.1 L1661.0 327.5 L1663.0 329.3 L1665.0 329.2 L1667.0 331.0 L1669.0 329.7 L1671.0 328.8 L1673.0 329.5 L1675.0 328.2 L1677.0 328.7 L1679.0 327.8 L1681.0 330.0 L1683.0 329.4 L1685.0 328.2 L1687.0 328.9 L1689.0 329.6 L1691.0 329.3 L1693.0 329.2 L1695.0 328.3 L1697.0 328.4 L1699.0 328.9 L1701.0 329.4 L1703.0 328.2 L1705.0 327.9 L1707.0 329.5 L1709.0 328.0 L1711.0 329.4 L1713.0 328.8 L1715.0 329.2 L1717.0 329.7 L1719.0 329.0 L1721.0 329.0 L1723.0 327.8 L1725.0 327.9 L1727.0 328.8 L1729.0 329.3 L1731.0 329.2 L1733.0 329.8 L1735.0 328.4 L1737.0 328.2 L1739.0 328.7 L1741.0 328.0 L1743.0 327.9 L1745.0 327.2 L1747.0 328.5 L1749.0 327.0 L1751.0 328.1 L1753.0 326.7 L1755.0 328.4 L1757.0 326.8 L1759.0 328.1 L1761.0 326.3 L1763.0 327.1 L1765.0 328.1 L1767.0 326.7 L1769.0 327.2 L1771.0 326.8 L1773.0 325.5 L1775.0 327.2 L1777.0 327.3 L1779.0 326.1 L1781.0 327.2 L1783.0 326.2 L1785.0 326.0 L1787.0 326.7 L1789.0 326.1 L1791.0 328.1 L1793.0 325.4 L1795.0 326.9 L1797.0 327.1 L1799.0 325.0 L1801.0 325.1 L1803.0 326.6 L1805.0 325.8 L1807.0 326.4 L1809.0 326.8 L1811.0 325.7 L1813.0 325.2 L1815.0 324.0 L1817.0 326.0 L1819.0 325.1 L1821.0 325.9 L1823.0 325.8 L1825.0 324.7 L1827.0 326.8 L1829.0 326.3 L1831.0 326.0 L1833.0 324.6 L1835.0 325.1 L1837.0 324.9 L1839.0 324.9 L1841.0 324.4 L1843.0 325.4 L1845.0 325.2 L1847.0 325.3 L1849.0 324.6 L1851.0 325.8 L1853.0 325.0 L1855.0 322.9 L1857.0 324.3 L1859.0 324.6 L1861.0 325.3 L1863.0 324.4 L1865.0 324.3 L1867.0 324.0 L1869.0 324.8 L1871.0 324.0 L1873.0 323.9 L1875.0 323.7 L1877.0 324.5 L1879.0 323.7 L1881.0 322.9 L1883.0 324.4 L1885.0 323.4 L1887.0 324.1 L1889.0 324.0 L1891.0 324.5 L1893.0 324.4 L1895.0 323.2 L1897.0 323.4 L1899.0 322.6 L1901.0 324.6 L1903.0 323.6 L1905.0 324.2 L1907.0 323.0 L1909.0 321.7 L1911.0 324.1 L1913.0 323.1 L1915.0 323.0 L1917.0 322.9 L1919.0 323.2 L1921.0 323.1 L1923.0 321.5 L1925.0 323.3 L1927.0 322.1 L1929.0 322.1 L1931.0 323.5 L1933.0 322.9 L1935.0 321.9 L1937.0 320.8 L1939.0 322.1 L1941.0 322.3 L1943.0 321.8 L1945.0 320.9 L1947.0 321.1 L1949.0 320.7 L1951.0 321.6 L1953.0 321.9 L1955.0 322.0 L1957.0 320.7 L1959.0 321.2 L1961.0 321.3 L1963.0 320.5 L1965.0 320.7 L1967.0 322.1 L1969.0 320.7 L1971.0 321.0 L1973.0 320.0 L1975.0 320.3 L1977.0 319.0 L1979.0 320.0 L1981.0 320.7 L1983.0 321.2 L1985.0 320.5 L1987.0 320.0 L1989.0 319.5 L1991.0 319.0 L1993.0 319.1 L1995.0 319.6 L1997.0 318.5 L1999.0 319.6 L2001.0 318.1 L2003.0 317.5 L2005.0 317.9 L2007.0 317.4 L2009.0 317.4 L2011.0 319.0 L2013.0 318.0 L2015.0 318.2 L2017.0 318.7 L2019.0 318.7 L2021.0 317.4 L2023.0 318.5 L2025.0 317.8 L2027.0 317.4 L2029.0 317.6 L2031.0 316.3 L2033.0 316.6 L2035.0 317.0 L2037.0 317.3 L2039.0 316.6 L2041.0 316.7 L2043.0 317.3 L2045.0 317.5 L2047.0 317.0 L2049.0 317.2 L2051.0 316.0 L2053.0 316.0 L2055.0 316.3 L2057.0 315.8 L2059.0 315.6 L2061.0 317.0 L2063.0 315.6 L2065.0 315.0 L2067.0 315.9 L2069.0 316.8 L2071.0 315.5 L2073.0 316.2 L2075.0 315.0 L2077.0 314.9 L2079.0 314.6 L2081.0 314.9 L2083.0 316.2 L2085.0 314.1 L2087.0 315.9 L2089.0 314.0 L2091.0 314.5 L2093.0 315.1 L2095.0 314.9 L2097.0 314.6 L2099.0 313.2 L2101.0 314.5 L2103.0 313.4 L2105.0 315.8 L2107.0 313.8 L2109.0 314.0 L2111.0 313.0 L2113.0 313.4 L2115.0 312.8 L2117.0 314.3 L2119.0 313.3 L2121.0 313.8 L2123.0 312.9 L2125.0 312.9 L2127.0 314.1 L2129.0 312.5 L2131.0 311.8 L2133.0 313.3 L2135.0 312.1 L2137.0 312.5 L2139.0 313.4 L2141.0 312.1 L2143.0 313.2 L2145.0 312.1 L2147.0 313.5 L2149.0 313.3 L2151.0 312.0 L2153.0 312.1 L2155.0 311.6 L2157.0 312.2 L2159.0 312.8 L2161.0 311.0 L2163.0 312.5 L2165.0 310.9 L2167.0 311.2 L2169.0 310.5 L2171.0 313.1 L2173.0 311.6 L2175.0 311.7 L2177.0 311.0 L2179.0 312.1 L2181.0 309.8 L2183.0 311.2 L2185.0 312.7 L2187.0 310.8 L2189.0 311.0 L2191.0 311.4 L2193.0 310.3 L2195.0 310.8 L2197.0 311.4 L2199.0 310.8 L2201.0 310.9 L2203.0 310.3 L2205.0 310.7 L2207.0 310.5 L2209.0 311.4 L2211.0 310.8 L2213.0 310.1 L2215.0 308.5 L2217.0 310.6 L2219.0 310.6 L2221.0 309.4" stroke="#2966d2"/>
<path d="M243.0 617.4 L245.0 604.7 L247.0 595.4 L249.0 583.1 L251.0 571.8 L253.0 562.6 L255.0 554.2 L257.0 545.0 L259.0 536.0 L261.0 527.0 L263.0 518.6 L265.0 509.6 L267.0 500.6 L269.0 491.5 L271.0 482.8 L273.0 474.3 L275.0 465.3 L277.0 456.8 L279.0 447.4 L281.0 437.6 L283.0 427.4 L285.0 417.1 L287.0 406.8 L289.0 396.9 L291.0 387.6 L293.0 377.7 L295.0 369.4 L297.0 362.0 L299.0 354.8 L301.0 348.7 L303.0 343.6 L305.0 340.4 L307.0 337.8 L309.0 336.1 L311.0 334.0 L313.0 332.6 L315.0 329.2 L317.0 326.9 L319.0 323.9 L321.0 322.0 L323.0 320.1 L325.0 318.2 L327.0 315.2 L329.0 314.5 L331.0 311.9 L333.0 310.0 L335.0 309.0 L337.0 307.1 L339.0 307.0 L341.0 306.4 L343.0 305.4 L345.0 305.2 L347.0 304.1 L349.0 303.8 L351.0 302.3 L353.0 302.7 L355.0 301.7 L357.0 301.5 L359.0 301.2 L361.0 301.0 L363.0 299.4 L365.0 299.0 L367.0 299.3 L369.0 299.4 L371.0 298.8 L373.0 298.8 L375.0 298.6 L377.0 297.6 L379.0 296.9 L381.0 295.8 L383.0 295.3 L385.0 295.1 L387.0 294.9 L389.0 294.2 L391.0 293.3 L393.0 292.3 L395.0 291.9 L397.0 290.8 L399.0 289.9 L401.0 289.2 L403.0 288.0 L405.0 287.1 L407.0 287.6 L409.0 287.0 L411.0 286.1 L413.0 285.5 L415.0 286.8 L417.0 284.4 L419.0 284.4 L421.0 284.4 L423.0 283.2 L425.0 283.8 L427.0 284.8 L429.0 284.2 L431.0 283.9 L433.0 283.8 L435.0 283.4 L437.0 283.9 L439.0 283.0 L441.0 282.8 L443.0 283.1 L445.0 283.6 L447.0 283.2 L449.0 283.5 L451.0 281.6 L453.0 283.9 L455.0 284.7 L457.0 284.1 L459.0 283.0 L461.0 282.7 L463.0 283.5 L465.0 282.7 L467.0 284.0 L469.0 283.2 L471.0 284.3 L473.0 284.6 L475.0 282.4 L477.0 284.1 L479.0 283.5 L481.0 283.1 L483.0 283.7 L485.0 284.1 L487.0 285.1 L489.0 283.4 L491.0 285.3 L493.0 286.0 L495.0 285.2 L497.0 285.2 L499.0 284.9 L501.0 284.2 L503.0 285.5 L505.0 285.5 L507.0 285.9 L509.0 287.2 L511.0 286.1 L513.0 286.0 L515.0 286.9 L517.0 285.0 L519.0 285.3 L521.0 285.9 L523.0 285.9 L525.0 286.9 L527.0 286.4 L529.0 287.9 L531.0 287.9 L533.0 287.5 L535.0 286.9 L537.0 287.7 L539.0 288.0 L541.0 286.9 L543.0 288.0 L545.0 288.4 L547.0 288.3 L549.0 289.3 L551.0 289.3 L553.0 288.1 L555.0 288.9 L557.0 288.4 L559.0 289.6 L561.0 288.8 L563.0 290.2 L565.0 290.1 L567.0 290.8 L569.0 290.3 L571.0 289.7 L573.0 292.1 L575.0 291.1 L577.0 292.4 L579.0 292.1 L581.0 292.6 L583.0 293.7 L585.0 293.0 L587.0 294.0 L589.0 292.4 L591.0 294.3 L593.0 293.8 L595.0 294.2 L597.0 294.6 L599.0 295.1 L601.0 296.2 L603.0 294.1 L605.0 295.6 L607.0 295.3 L609.0 296.8 L611.0 295.9 L613.0 296.6 L615.0 296.2 L617.0 297.1 L619.0 297.4 L621.0 296.6 L623.0 297.0 L625.0 296.1 L627.0 297.4 L629.0 297.9 L631.0 297.0 L633.0 298.3 L635.0 296.2 L637.0 296.4 L639.0 296.8 L641.0 297.5 L643.0 298.0 L645.0 298.0 L647.0 298.1 L649.0 298.7 L651.0 297.9 L653.0 297.5 L655.0 297.6 L657.0 300.0 L659.0 297.0 L661.0 298.5 L663.0 299.7 L665.0 299.1 L667.0 298.3 L669.0 298.9 L671.0 299.6 L673.0 299.9 L675.0 298.5 L677.0 299.7 L679.0 299.5 L681.0 300.1 L683.0 300.4 L685.0 299.2 L687.0 298.5 L689.0 299.9 L691.0 300.9 L693.0 300.2 L695.0 300.0 L697.0 301.5 L699.0 299.2 L701.0 300.6 L703.0 299.6 L705.0 300.1 L707.0 300.2 L709.0 301.2 L711.0 299.6 L713.0 299.9 L715.0 299.3 L717.0 300.8 L719.0 300.2 L721.0 300.8 L723.0 299.8 L725.0 300.4 L727.0 301.4 L729.0 300.6 L731.0 301.2 L733.0 301.2 L735.0 300.6 L737.0 299.9 L739.0 301.7 L741.0 301.2 L743.0 301.8 L745.0 299.8 L747.0 300.1 L749.0 299.8 L751.0 300.7 L753.0 302.1 L755.0 301.8 L757.0 301.4 L759.0 301.6 L761.0 302.1 L763.0 301.4 L765.0 301.9 L767.0 301.8 L769.0 300.2 L771.0 301.5 L773.0 302.8 L775.0 301.6 L777.0 301.8 L779.0 301.5 L781.0 301.6 L783.0 302.8 L785.0 301.8 L787.0 301.3 L789.0 299.9 L791.0 301.7 L793.0 300.7 L795.0 300.8 L797.0 302.7 L799.0 302.7 L801.0 300.8 L803.0 302.8 L805.0 302.5 L807.0 301.7 L809.0 302.8 L811.0 301.1 L813.0 301.4 L815.0 301.3 L817.0 301.5 L819.0 302.9 L821.0 301.4 L823.0 301.6 L825.0 301.7 L827.0 302.5 L829.0 302.2 L831.0 303.0 L833.0 301.9 L835.0 301.5 L837.0 302.1 L839.0 302.5 L841.0 301.8 L843.0 302.7 L845.0 303.8 L847.0 302.1 L849.0 302.6 L851.0 303.5 L853.0 302.2 L855.0 302.0 L857.0 301.9 L859.0 302.9 L861.0 303.1 L863.0 302.6 L865.0 302.8 L867.0 303.6 L869.0 303.4 L871.0 301.8 L873.0 302.8 L875.0 302.9 L877.0 303.4 L879.0 302.7 L881.0 302.4 L883.0 302.6 L885.0 301.7 L887.0 302.9 L889.0 302.5 L891.0 303.3 L893.0 302.2 L895.0 302.7 L897.0 302.3 L899.0 302.2 L901.0 303.5 L903.0 302.6 L905.0 303.2 L907.0 302.1 L909.0 302.9 L911.0 301.6 L913.0 302.3 L915.0 302.2 L917.0 302.8 L919.0 302.4 L921.0 302.0 L923.0 302.6 L925.0 302.0 L927.0 302.0 L929.0 302.0 L931.0 301.3 L933.0 300.9 L935.0 301.2 L937.0 300.5 L939.0 300.8 L941.0 301.1 L943.0 300.7 L945.0 299.7 L947.0 298.9 L949.0 299.5 L951.0 299.2 L953.0 299.8 L955.0 298.6 L957.0 298.5 L959.0 298.9 L961.0 297.9 L963.0 297.9 L965.0 299.0 L967.0 298.7 L969.0 297.9 L971.0 297.5 L973.0 296.5 L975.0 297.3 L977.0 296.9 L979.0 296.8 L981.0 296.2 L983.0 296.3 L985.0 296.1 L987.0 296.2 L989.0 296.8 L991.0 296.0 L993.0 294.5 L995.0 294.8 L997.0 294.2 L999.0 294.6 L1001.0 295.3 L1003.0 295.1 L1005.0 294.2 L1007.0 294.7 L1009.0 293.8 L1011.0 293.2 L1013.0 293.1 L1015.0 293.3 L1017.0 294.7 L1019.0 292.7 L1021.0 294.3 L1023.0 294.2 L1025.0 293.0 L1027.0 292.9 L1029.0 292.4 L1031.0 292.7 L1033.0 293.0 L1035.0 292.4 L1037.0 292.9 L1039.0 292.9 L1041.0 292.2 L1043.0 292.0 L1045.0 291.6 L1047.0 291.7 L1049.0 290.6 L1051.0 291.4 L1053.0 291.2 L1055.0 290.3 L1057.0 292.2 L1059.0 289.9 L1061.0 289.8 L1063.0 290.5 L1065.0 288.8 L1067.0 289.5 L1069.0 288.8 L1071.0 289.0 L1073.0 289.5 L1075.0 289.6 L1077.0 290.0 L1079.0 289.6 L1081.0 289.8 L1083.0 289.2 L1085.0 288.4 L1087.0 289.3 L1089.0 288.1 L1091.0 287.8 L1093.0 289.1 L1095.0 288.5 L1097.0 288.0 L1099.0 288.2 L1101.0 288.1 L1103.0 286.5 L1105.0 287.2 L1107.0 286.3 L1109.0 287.0 L1111.0 286.4 L1113.0 287.6 L1115.0 286.9 L1117.0 285.8 L1119.0 286.2 L1121.0 285.3 L1123.0 286.0 L1125.0 286.2 L1127.0 285.9 L1129.0 284.2 L1131.0 285.2 L1133.0 285.6 L1135.0 285.3 L1137.0 285.7 L1139.0 284.0 L1141.0 285.0 L1143.0 284.1 L1145.0 284.5 L1147.0 284.5 L1149.0 284.6 L1151.0 283.6 L1153.0 283.9 L1155.0 282.9 L1157.0 282.6 L1159.0 283.7 L1161.0 283.2 L1163.0 282.0 L1165.0 282.4 L1167.0 282.8 L1169.0 283.7 L1171.0 283.2 L1173.0 282.9 L1175.0 281.0 L1177.0 282.0 L1179.0 282.2 L1181.0 282.0 L1183.0 281.8 L1185.0 281.3 L1187.0 282.4 L1189.0 282.1 L1191.0 280.9 L1193.0 280.1 L1195.0 282.0 L1197.0 280.1 L1199.0 281.1 L1201.0 281.4 L1203.0 279.4 L1205.0 280.0 L1207.0 279.4 L1209.0 279.9 L1211.0 279.6 L1213.0 280.5 L1215.0 279.4 L1217.0 278.9 L1219.0 279.5 L1221.0 278.4 L1223.0 278.2 L1225.0 279.8 L1227.0 277.6 L1229.0 277.6 L1231.0 277.8 L1233.0 276.9 L1235.0 276.1 L1237.0 278.0 L1239.0 276.7 L1241.0 276.7 L1243.0 276.6 L1245.0 276.1 L1247.0 275.9 L1249.0 276.5 L1251.0 277.9 L1253.0 276.6 L1255.0 276.5 L1257.0 274.8 L1259.0 275.7 L1261.0 274.8 L1263.0 276.0 L1265.0 275.1 L1267.0 275.2 L1269.0 275.0 L1271.0 274.5 L1273.0 273.7 L1275.0 275.0 L1277.0 273.6 L1279.0 273.6 L1281.0 274.0 L1283.0 273.6 L1285.0 274.2 L1287.0 274.6 L1289.0 273.9 L1291.0 273.8 L1293.0 273.5 L1295.0 274.0 L1297.0 272.0 L1299.0 273.4 L1301.0 272.4 L1303.0 272.1 L1305.0 272.8 L1307.0 272.4 L1309.0 273.0 L1311.0 273.2 L1313.0 270.8 L1315.0 272.2 L1317.0 273.4 L1319.0 272.6 L1321.0 272.9 L1323.0 271.8 L1325.0 270.7 L1327.0 270.8 L1329.0 271.9 L1331.0 272.0 L1333.0 270.7 L1335.0 270.9 L1337.0 271.2 L1339.0 269.7 L1341.0 270.5 L1343.0 271.7 L1345.0 272.0 L1347.0 270.3 L1349.0 271.5 L1351.0 269.8 L1353.0 269.5 L1355.0 268.4 L1357.0 270.5 L1359.0 269.5 L1361.0 271.2 L1363.0 269.7 L1365.0 269.5 L1367.0 268.0 L1369.0 270.1 L1371.0 268.7 L1373.0 268.8 L1375.0 267.2 L1377.0 269.2 L1379.0 269.2 L1381.0 267.9 L1383.0 268.3 L1385.0 268.4 L1387.0 268.6 L1389.0 267.9 L1391.0 268.9 L1393.0 267.4 L1395.0 267.0 L1397.0 267.0 L1399.0 265.5 L1401.0 266.5 L1403.0 267.6 L1405.0 267.0 L1407.0 266.1 L1409.0 266.7 L1411.0 265.0 L1413.0 266.0 L1415.0 266.4 L1417.0 266.4 L1419.0 265.3 L1421.0 266.3 L1423.0 266.8 L1425.0 265.1 L1427.0 265.8 L1429.0 264.1 L1431.0 263.7 L1433.0 265.3 L1435.0 264.7 L1437.0 264.7 L1439.0 264.0 L1441.0 264.1 L1443.0 264.7 L1445.0 265.1 L1447.0 263.7 L1449.0 262.6 L1451.0 264.4 L1453.0 263.8 L1455.0 263.7 L1457.0 263.2 L1459.0 264.5 L1461.0 262.9 L1463.0 263.0 L1465.0 261.3 L1467.0 262.0 L1469.0 261.8 L1471.0 262.1 L1473.0 262.2 L1475.0 261.3 L1477.0 262.8 L1479.0 260.8 L1481.0 261.0 L1483.0 261.4 L1485.0 260.2 L1487.0 261.3 L1489.0 261.2 L1491.0 260.4 L1493.0 261.7 L1495.0 260.3 L1497.0 260.3 L1499.0 259.3 L1501.0 258.7 L1503.0 259.2 L1505.0 259.3 L1507.0 259.0 L1509.0 259.7 L1511.0 257.4 L1513.0 258.1 L1515.0 257.5 L1517.0 259.4 L1519.0 258.0 L1521.0 257.9 L1523.0 257.3 L1525.0 258.5 L1527.0 257.4 L1529.0 257.7 L1531.0 256.0 L1533.0 258.0 L1535.0 257.3 L1537.0 257.3 L1539.0 257.6 L1541.0 256.4 L1543.0 256.3 L1545.0 256.7 L1547.0 256.3 L1549.0 255.7 L1551.0 255.8 L1553.0 255.2 L1555.0 255.9 L1557.0 255.9 L1559.0 255.1 L1561.0 256.2 L1563.0 253.7 L1565.0 254.4 L1567.0 255.6 L1569.0 254.0 L1571.0 253.0 L1573.0 254.9 L1575.0 254.1 L1577.0 252.8 L1579.0 254.0 L1581.0 252.6 L1583.0 252.2 L1585.0 252.9 L1587.0 252.5 L1589.0 251.9 L1591.0 252.3 L1593.0 251.7 L1595.0 252.2 L1597.0 252.0 L1599.0 252.4 L1601.0 251.4 L1603.0 250.7 L1605.0 250.6 L1607.0 251.1 L1609.0 252.2 L1611.0 251.6 L1613.0 250.4 L1615.0 251.4 L1617.0 249.8 L1619.0 251.1 L1621.0 250.0 L1623.0 250.7 L1625.0 250.4 L1627.0 249.7 L1629.0 250.0 L1631.0 248.9 L1633.0 249.4 L1635.0 250.1 L1637.0 252.0 L1639.0 249.5 L1641.0 249.0 L1643.0 248.1 L1645.0 249.4 L1647.0 247.4 L1649.0 247.8 L1651.0 248.5 L1653.0 247.3 L1655.0 249.0 L1657.0 248.6 L1659.0 247.3 L1661.0 247.2 L1663.0 246.5 L1665.0 246.3 L1667.0 247.5 L1669.0 247.4 L1671.0 247.1 L1673.0 246.9 L1675.0 246.2 L1677.0 246.7 L1679.0 245.3 L1681.0 246.2 L1683.0 247.1 L1685.0 246.8 L1687.0 245.5 L1689.0 245.4 L1691.0 246.5 L1693.0 246.6 L1695.0 244.2 L1697.0 244.8 L1699.0 245.1 L1701.0 245.7 L1703.0 244.1 L1705.0 245.0 L1707.0 244.2 L1709.0 245.9 L1711.0 244.4 L1713.0 243.9 L1715.0 243.6 L1717.0 244.4 L1719.0 244.0 L1721.0 242.7 L1723.0 243.4 L1725.0 242.2 L1727.0 242.4 L1729.0 241.9 L1731.0 241.7 L1733.0 242.0 L1735.0 241.7 L1737.0 242.5 L1739.0 242.5 L1741.0 241.7 L1743.0 240.9 L1745.0 242.1 L1747.0 240.0 L1749.0 239.9 L1751.0 241.6 L1753.0 241.4 L1755.0 241.4 L1757.0 240.5 L1759.0 239.6 L1761.0 240.0 L1763.0 240.6 L1765.0 239.5 L1767.0 239.4 L1769.0 238.8 L1771.0 238.8 L1773.0 240.0 L1775.0 239.6 L1777.0 238.4 L1779.0 238.3 L1781.0 238.5 L1783.0 239.1 L1785.0 237.8 L1787.0 238.4 L1789.0 236.9 L1791.0 237.4 L1793.0 238.4 L1795.0 238.7 L1797.0 237.1 L1799.0 237.3 L1801.0 238.3 L1803.0 237.3 L1805.0 237.1 L1807.0 237.8 L1809.0 237.5 L1811.0 238.0 L1813.0 237.7 L1815.0 236.6 L1817.0 236.9 L1819.0 236.8 L1821.0 235.8 L1823.0 236.0 L1825.0 237.3 L1827.0 235.4 L1829.0 237.1 L1831.0 236.6 L1833.0 236.2 L1835.0 236.6 L1837.0 236.4 L1839.0 236.9 L1841.0 235.7 L1843.0 235.7 L1845.0 235.6 L1847.0 237.0 L1849.0 236.3 L1851.0 235.0 L1853.0 235.3 L1855.0 235.0 L1857.0 235.4 L1859.0 235.5 L1861.0 236.8 L1863.0 233.9 L1865.0 235.8 L1867.0 235.3 L1869.0 234.5 L1871.0 234.8 L1873.0 234.5 L1875.0 234.8 L1877.0 235.4 L1879.0 233.6 L1881.0 235.4 L1883.0 234.2 L1885.0 235.4 L1887.0 234.6 L1889.0 235.1 L1891.0 234.6 L1893.0 234.8 L1895.0 234.1 L1897.0 233.4 L1899.0 234.3 L1901.0 234.3 L1903.0 235.2 L1905.0 232.2 L1907.0 233.4 L1909.0 234.2 L1911.0 232.5 L1913.0 233.1 L1915.0 234.7 L1917.0 234.1 L1919.0 232.4 L1921.0 233.9 L1923.0 233.7 L1925.0 233.3 L1927.0 232.9 L1929.0 232.7 L1931.0 231.9 L1933.0 232.0 L1935.0 232.7 L1937.0 232.2 L1939.0 233.3 L1941.0 231.7 L1943.0 230.2 L1945.0 231.5 L1947.0 231.8 L1949.0 231.7 L1951.0 231.4 L1953.0 230.6 L1955.0 232.1 L1957.0 230.5 L1959.0 231.3 L1961.0 230.5 L1963.0 229.8 L1965.0 231.4 L1967.0 228.6 L1969.0 229.6 L1971.0 230.4 L1973.0 229.7 L1975.0 230.3 L1977.0 229.6 L1979.0 229.2 L1981.0 230.9 L1983.0 229.1 L1985.0 229.0 L1987.0 228.3 L1989.0 228.3 L1991.0 229.2 L1993.0 229.0 L1995.0 228.4 L1997.0 227.8 L1999.0 228.6 L2001.0 226.9 L2003.0 227.7 L2005.0 227.6 L2007.0 227.1 L2009.0 227.6 L2011.0 226.9 L2013.0 226.7 L2015.0 228.4 L2017.0 227.5 L2019.0 227.7 L2021.0 226.8 L2023.0 227.3 L2025.0 227.0 L2027.0 227.2 L2029.0 227.9 L2031.0 226.0 L2033.0 226.2 L2035.0 225.9 L2037.0 223.4 L2039.0 224.7 L2041.0 225.6 L2043.0 225.9 L2045.0 225.0 L2047.0 226.1 L2049.0 226.1 L2051.0 224.8 L2053.0 226.0 L2055.0 226.1 L2057.0 225.1 L2059.0 224.0 L2061.0 225.6 L2063.0 224.4 L2065.0 224.2 L2067.0 224.4 L2069.0 223.9 L2071.0 224.9 L2073.0 224.6 L2075.0 224.8 L2077.0 224.3 L2079.0 223.3 L2081.0 223.6 L2083.0 224.2 L2085.0 223.3 L2087.0 225.5 L2089.0 223.2 L2091.0 222.9 L2093.0 224.0 L2095.0 223.6 L2097.0 223.0 L2099.0 222.8 L2101.0 223.2 L2103.0 223.4 L2105.0 223.2 L2107.0 222.4 L2109.0 222.8 L2111.0 223.0 L2113.0 222.9 L2115.0 220.2 L2117.0 221.6 L2119.0 221.6 L2121.0 221.9 L2123.0 222.1 L2125.0 222.5 L2127.0 222.2 L2129.0 221.6 L2131.0 221.7 L2133.0 222.8 L2135.0 221.1 L2137.0 221.6 L2139.0 222.4 L2141.0 221.5 L2143.0 219.8 L2145.0 221.4 L2147.0 220.8 L2149.0 220.9 L2151.0 221.6 L2153.0 221.2 L2155.0 220.6 L2157.0 221.3 L2159.0 220.9 L2161.0 220.6 L2163.0 220.7 L2165.0 220.6 L2167.0 220.1 L2169.0 220.0 L2171.0 220.2 L2173.0 219.5 L2175.0 219.2 L2177.0 220.9 L2179.0 219.8 L2181.0 219.9 L2183.0 219.8 L2185.0 219.8 L2187.0 219.7 L2189.0 219.7 L2191.0 219.1 L2193.0 220.2 L2195.0 219.0 L2197.0 220.2 L2199.0 218.1 L2201.0 218.6 L2203.0 220.0 L2205.0 219.1 L2207.0 218.7 L2209.0 219.4 L2211.0 218.3 L2213.0 219.1 L2215.0 217.4 L2217.0 218.6 L2219.0 218.4 L2221.0 219.2" stroke="#3ca57b"/>
<path d="M243.0 599.1 L245.0 585.3 L247.0 577.8 L249.0 568.6 L251.0 559.3 L253.0 550.4 L255.0 543.4 L257.0 535.3 L259.0 527.2 L261.0 519.0 L263.0 510.5 L265.0 502.3 L267.0 493.2 L269.0 484.9 L271.0 476.0 L273.0 467.4 L275.0 460.1 L277.0 451.5 L279.0 442.6 L281.0 433.2 L283.0 422.7 L285.0 413.0 L287.0 402.8 L289.0 392.6 L291.0 383.0 L293.0 373.2 L295.0 364.2 L297.0 355.4 L299.0 347.6 L301.0 341.2 L303.0 335.7 L305.0 330.7 L307.0 327.5 L309.0 324.8 L311.0 323.8 L313.0 321.8 L315.0 321.0 L317.0 320.2 L319.0 318.9 L321.0 318.8 L323.0 318.3 L325.0 318.8 L327.0 317.6 L329.0 318.1 L331.0 318.7 L333.0 317.7 L335.0 316.3 L337.0 317.5 L339.0 318.2 L341.0 317.9 L343.0 319.4 L345.0 319.9 L347.0 320.5 L349.0 320.7 L351.0 320.9 L353.0 321.5 L355.0 322.0 L357.0 322.7 L359.0 322.9 L361.0 322.7 L363.0 323.2 L365.0 323.6 L367.0 322.5 L369.0 323.2 L371.0 323.3 L373.0 323.9 L375.0 323.9 L377.0 324.1 L379.0 323.8 L381.0 325.0 L383.0 324.8 L385.0 323.6 L387.0 324.8 L389.0 324.1 L391.0 326.1 L393.0 324.7 L395.0 324.8 L397.0 325.1 L399.0 324.9 L401.0 325.0 L403.0 326.1 L405.0 325.2 L407.0 325.6 L409.0 325.8 L411.0 324.4 L413.0 326.2 L415.0 325.5 L417.0 325.7 L419.0 324.5 L421.0 325.6 L423.0 325.3 L425.0 324.7 L427.0 326.7 L429.0 325.5 L431.0 324.9 L433.0 325.2 L435.0 325.8 L437.0 326.0 L439.0 325.6 L441.0 326.2 L443.0 326.4 L445.0 324.7 L447.0 325.3 L449.0 325.1 L451.0 325.9 L453.0 326.9 L455.0 326.5 L457.0 325.5 L459.0 326.1 L461.0 327.1 L463.0 326.1 L465.0 326.5 L467.0 326.9 L469.0 325.5 L471.0 327.4 L473.0 327.1 L475.0 327.4 L477.0 326.3 L479.0 326.5 L481.0 326.6 L483.0 327.2 L485.0 327.0 L487.0 327.0 L489.0 328.1 L491.0 327.7 L493.0 326.2 L495.0 326.2 L497.0 327.7 L499.0 326.2 L501.0 327.2 L503.0 327.2 L505.0 325.6 L507.0 325.7 L509.0 325.8 L511.0 325.0 L513.0 324.8 L515.0 325.1 L517.0 325.8 L519.0 324.8 L521.0 324.8 L523.0 324.5 L525.0 323.8 L527.0 325.5 L529.0 322.8 L531.0 323.8 L533.0 324.4 L535.0 322.9 L537.0 324.1 L539.0 324.4 L541.0 322.8 L543.0 323.3 L545.0 322.3 L547.0 323.2 L549.0 322.7 L551.0 322.6 L553.0 323.2 L555.0 322.5 L557.0 322.9 L559.0 322.3 L561.0 320.9 L563.0 321.8 L565.0 321.8 L567.0 320.3 L569.0 322.1 L571.0 321.1 L573.0 321.2 L575.0 320.2 L577.0 320.7 L579.0 320.8 L581.0 320.2 L583.0 320.4 L585.0 318.8 L587.0 321.0 L589.0 319.2 L591.0 318.3 L593.0 319.0 L595.0 319.0 L597.0 319.8 L599.0 318.7 L601.0 319.4 L603.0 318.4 L605.0 320.4 L607.0 319.1 L609.0 319.9 L611.0 317.8 L613.0 318.7 L615.0 317.5 L617.0 318.4 L619.0 318.3 L621.0 316.6 L623.0 316.7 L625.0 316.5 L627.0 316.1 L629.0 316.4 L631.0 316.0 L633.0 315.5 L635.0 316.3 L637.0 316.4 L639.0 315.0 L641.0 315.3 L643.0 315.5 L645.0 315.1 L647.0 314.6 L649.0 315.4 L651.0 315.2 L653.0 314.8 L655.0 314.0 L657.0 315.3 L659.0 314.9 L661.0 313.3 L663.0 313.2 L665.0 313.9 L667.0 312.4 L669.0 313.0 L671.0 312.5 L673.0 311.8 L675.0 311.9 L677.0 310.8 L679.0 311.3 L681.0 310.1 L683.0 312.7 L685.0 312.0 L687.0 311.6 L689.0 310.8 L691.0 311.0 L693.0 311.0 L695.0 310.6 L697.0 310.3 L699.0 308.8 L701.0 309.5 L703.0 308.7 L705.0 308.0 L707.0 307.8 L709.0 308.7 L711.0 308.9 L713.0 307.0 L715.0 308.9 L717.0 308.5 L719.0 307.1 L721.0 306.8 L723.0 306.9 L725.0 307.4 L727.0 306.3 L729.0 305.7 L731.0 306.4 L733.0 304.7 L735.0 306.0 L737.0 306.5 L739.0 305.7 L741.0 305.9 L743.0 305.5 L745.0 305.5 L747.0 304.9 L749.0 304.1 L751.0 304.4 L753.0 304.3 L755.0 305.0 L757.0 305.1 L759.0 304.2 L761.0 303.2 L763.0 303.1 L765.0 303.3 L767.0 304.2 L769.0 303.4 L771.0 302.9 L773.0 302.3 L775.0 303.3 L777.0 302.7 L779.0 302.4 L781.0 302.3 L783.0 303.3 L785.0 301.9 L787.0 303.0 L789.0 302.6 L791.0 301.6 L793.0 302.0 L795.0 301.2 L797.0 300.6 L799.0 300.9 L801.0 300.3 L803.0 301.2 L805.0 300.7 L807.0 301.0 L809.0 301.0 L811.0 298.2 L813.0 300.5 L815.0 298.9 L817.0 300.1 L819.0 299.3 L821.0 299.9 L823.0 300.6 L825.0 298.4 L827.0 299.6 L829.0 299.3 L831.0 297.9 L833.0 299.5 L835.0 299.0 L837.0 298.5 L839.0 298.2 L841.0 300.7 L843.0 298.1 L845.0 297.0 L847.0 297.5 L849.0 297.7 L851.0 297.6 L853.0 297.6 L855.0 296.8 L857.0 297.8 L859.0 296.9 L861.0 296.2 L863.0 296.4 L865.0 296.6 L867.0 297.2 L869.0 296.8 L871.0 296.1 L873.0 296.2 L875.0 296.2 L877.0 297.3 L879.0 295.3 L881.0 295.9 L883.0 295.9 L885.0 294.6 L887.0 295.2 L889.0 295.0 L891.0 294.4 L893.0 295.0 L895.0 295.1 L897.0 295.0 L899.0 294.0 L901.0 294.0 L903.0 295.3 L905.0 292.8 L907.0 293.5 L909.0 293.8 L911.0 293.1 L913.0 293.3 L915.0 292.8 L917.0 293.0 L919.0 293.2 L921.0 292.0 L923.0 292.1 L925.0 291.7 L927.0 291.3 L929.0 291.4 L931.0 290.4 L933.0 291.5 L935.0 291.9 L937.0 291.7 L939.0 291.3 L941.0 289.6 L943.0 291.0 L945.0 289.3 L947.0 289.6 L949.0 290.7 L951.0 288.5 L953.0 289.6 L955.0 289.0 L957.0 288.5 L959.0 287.8 L961.0 288.5 L963.0 287.7 L965.0 288.5 L967.0 288.4 L969.0 286.5 L971.0 286.9 L973.0 286.8 L975.0 286.0 L977.0 285.9 L979.0 286.4 L981.0 286.0 L983.0 284.9 L985.0 285.4 L987.0 285.9 L989.0 284.5 L991.0 284.5 L993.0 286.0 L995.0 285.6 L997.0 283.4 L999.0 283.3 L1001.0 284.3 L1003.0 283.0 L1005.0 283.4 L1007.0 283.1 L1009.0 283.5 L1011.0 281.2 L1013.0 281.2 L1015.0 281.6 L1017.0 282.9 L1019.0 281.9 L1021.0 280.6 L1023.0 281.9 L1025.0 281.8 L1027.0 280.9 L1029.0 280.7 L1031.0 280.9 L1033.0 281.2 L1035.0 280.3 L1037.0 280.3 L1039.0 279.7 L1041.0 279.3 L1043.0 278.7 L1045.0 279.3 L1047.0 278.7 L1049.0 278.5 L1051.0 279.1 L1053.0 278.6 L1055.0 278.6 L1057.0 276.8 L1059.0 278.0 L1061.0 277.0 L1063.0 276.7 L1065.0 276.4 L1067.0 277.6 L1069.0 277.2 L1071.0 275.9 L1073.0 275.4 L1075.0 276.0 L1077.0 275.5 L1079.0 276.7 L1081.0 274.5 L1083.0 274.0 L1085.0 274.9 L1087.0 274.9 L1089.0 274.7 L1091.0 275.0 L1093.0 275.7 L1095.0 273.9 L1097.0 273.5 L1099.0 272.5 L1101.0 273.7 L1103.0 273.9 L1105.0 273.0 L1107.0 273.8 L1109.0 272.8 L1111.0 273.6 L1113.0 272.6 L1115.0 271.5 L1117.0 271.6 L1119.0 270.8 L1121.0 270.5 L1123.0 271.7 L1125.0 271.9 L1127.0 272.5 L1129.0 270.9 L1131.0 270.6 L1133.0 269.9 L1135.0 271.1 L1137.0 270.5 L1139.0 269.7 L1141.0 270.4 L1143.0 270.1 L1145.0 268.3 L1147.0 269.9 L1149.0 269.4 L1151.0 268.8 L1153.0 268.7 L1155.0 269.9 L1157.0 269.6 L1159.0 269.7 L1161.0 267.5 L1163.0 267.7 L1165.0 268.6 L1167.0 267.0 L1169.0 267.2 L1171.0 266.3 L1173.0 268.6 L1175.0 267.9 L1177.0 267.4 L1179.0 267.1 L1181.0 266.5 L1183.0 266.4 L1185.0 266.9 L1187.0 265.9 L1189.0 267.0 L1191.0 265.7 L1193.0 265.3 L1195.0 266.7 L1197.0 265.6 L1199.0 265.9 L1201.0 265.1 L1203.0 263.7 L1205.0 265.5 L1207.0 264.1 L1209.0 265.6 L1211.0 263.7 L1213.0 263.3 L1215.0 264.7 L1217.0 264.6 L1219.0 264.3 L1221.0 263.3 L1223.0 264.6 L1225.0 262.8 L1227.0 263.4 L1229.0 263.0 L1231.0 263.2 L1233.0 263.9 L1235.0 262.7 L1237.0 263.4 L1239.0 263.4 L1241.0 261.6 L1243.0 261.9 L1245.0 262.3 L1247.0 262.0 L1249.0 262.5 L1251.0 260.8 L1253.0 262.5 L1255.0 262.3 L1257.0 261.6 L1259.0 260.6 L1261.0 261.4 L1263.0 260.9 L1265.0 261.5 L1267.0 260.9 L1269.0 261.3 L1271.0 260.4 L1273.0 261.5 L1275.0 258.8 L1277.0 259.5 L1279.0 260.4 L1281.0 258.9 L1283.0 260.3 L1285.0 258.8 L1287.0 259.5 L1289.0 258.7 L1291.0 258.8 L1293.0 259.0 L1295.0 258.7 L1297.0 258.3 L1299.0 259.9 L1301.0 258.2 L1303.0 257.4 L1305.0 258.5 L1307.0 258.2 L1309.0 258.3 L1311.0 258.5 L1313.0 256.5 L1315.0 257.7 L1317.0 257.5 L1319.0 256.6 L1321.0 256.6 L1323.0 254.2 L1325.0 255.6 L1327.0 257.0 L1329.0 254.5 L1331.0 255.1 L1333.0 255.5 L1335.0 255.5 L1337.0 256.0 L1339.0 253.5 L1341.0 254.5 L1343.0 254.9 L1345.0 253.3 L1347.0 253.9 L1349.0 255.0 L1351.0 254.4 L1353.0 253.7 L1355.0 251.4 L1357.0 252.9 L1359.0 253.1 L1361.0 252.4 L1363.0 252.4 L1365.0 254.3 L1367.0 251.9 L1369.0 251.3 L1371.0 251.9 L1373.0 251.3 L1375.0 251.2 L1377.0 251.1 L1379.0 251.6 L1381.0 251.0 L1383.0 249.9 L1385.0 250.4 L1387.0 250.7 L1389.0 249.9 L1391.0 250.8 L1393.0 250.4 L1395.0 249.0 L1397.0 249.7 L1399.0 250.7 L1401.0 250.2 L1403.0 248.9 L1405.0 249.4 L1407.0 248.2 L1409.0 247.5 L1411.0 248.7 L1413.0 248.3 L1415.0 248.3 L1417.0 247.8 L1419.0 247.8 L1421.0 247.1 L1423.0 247.6 L1425.0 247.7 L1427.0 246.9 L1429.0 247.3 L1431.0 245.4 L1433.0 245.9 L1435.0 247.3 L1437.0 247.3 L1439.0 246.1 L1441.0 245.7 L1443.0 244.8 L1445.0 245.7 L1447.0 245.8 L1449.0 244.2 L1451.0 245.4 L1453.0 245.2 L1455.0 245.0 L1457.0 243.8 L1459.0 244.7 L1461.0 243.2 L1463.0 245.1 L1465.0 244.0 L1467.0 243.0 L1469.0 244.5 L1471.0 244.2 L1473.0 242.9 L1475.0 244.7 L1477.0 242.4 L1479.0 243.1 L1481.0 243.5 L1483.0 241.1 L1485.0 243.1 L1487.0 242.3 L1489.0 242.2 L1491.0 241.3 L1493.0 242.1 L1495.0 241.0 L1497.0 241.0 L1499.0 241.2 L1501.0 240.6 L1503.0 242.3 L1505.0 240.2 L1507.0 240.5 L1509.0 240.7 L1511.0 240.8 L1513.0 241.2 L1515.0 241.1 L1517.0 240.2 L1519.0 240.0 L1521.0 240.2 L1523.0 240.6 L1525.0 240.4 L1527.0 239.4 L1529.0 238.3 L1531.0 241.0 L1533.0 240.1 L1535.0 239.5 L1537.0 239.4 L1539.0 238.7 L1541.0 238.3 L1543.0 238.6 L1545.0 238.6 L1547.0 238.2 L1549.0 237.5 L1551.0 238.2 L1553.0 238.7 L1555.0 237.8 L1557.0 238.1 L1559.0 236.5 L1561.0 237.7 L1563.0 237.6 L1565.0 236.8 L1567.0 236.3 L1569.0 237.7 L1571.0 236.7 L1573.0 237.5 L1575.0 236.8 L1577.0 237.4 L1579.0 236.6 L1581.0 235.7 L1583.0 236.5 L1585.0 236.2 L1587.0 236.8 L1589.0 235.9 L1591.0 235.9 L1593.0 236.6 L1595.0 236.7 L1597.0 236.3 L1599.0 236.3 L1601.0 235.8 L1603.0 235.9 L1605.0 235.9 L1607.0 235.4 L1609.0 235.1 L1611.0 235.0 L1613.0 236.4 L1615.0 234.7 L1617.0 234.4 L1619.0 234.1 L1621.0 234.2 L1623.0 234.3 L1625.0 233.2 L1627.0 232.5 L1629.0 234.0 L1631.0 232.5 L1633.0 233.7 L1635.0 233.5 L1637.0 234.0 L1639.0 234.2 L1641.0 233.2 L1643.0 232.5 L1645.0 231.9 L1647.0 232.1 L1649.0 232.5 L1651.0 230.9 L1653.0 232.3 L1655.0 232.1 L1657.0 232.4 L1659.0 231.6 L1661.0 231.8 L1663.0 231.1 L1665.0 231.1 L1667.0 230.1 L1669.0 231.3 L1671.0 232.1 L1673.0 231.1 L1675.0 231.1 L1677.0 230.0 L1679.0 231.6 L1681.0 229.9 L1683.0 230.9 L1685.0 230.3 L1687.0 229.5 L1689.0 230.7 L1691.0 229.9 L1693.0 229.9 L1695.0 230.0 L1697.0 229.5 L1699.0 229.2 L1701.0 229.7 L1703.0 229.0 L1705.0 229.2 L1707.0 228.6 L1709.0 227.9 L1711.0 228.4 L1713.0 228.4 L1715.0 228.6 L1717.0 229.3 L1719.0 227.3 L1721.0 228.4 L1723.0 226.7 L1725.0 227.4 L1727.0 227.7 L1729.0 226.4 L1731.0 226.6 L1733.0 227.9 L1735.0 227.8 L1737.0 227.5 L1739.0 227.0 L1741.0 228.9 L1743.0 227.2 L1745.0 226.7 L1747.0 228.3 L1749.0 227.5 L1751.0 226.7 L1753.0 227.7 L1755.0 226.9 L1757.0 227.2 L1759.0 226.8 L1761.0 225.9 L1763.0 227.2 L1765.0 226.5 L1767.0 225.6 L1769.0 225.7 L1771.0 226.8 L1773.0 225.8 L1775.0 226.0 L1777.0 226.4 L1779.0 225.9 L1781.0 224.7 L1783.0 226.1 L1785.0 226.2 L1787.0 226.1 L1789.0 226.6 L1791.0 225.6 L1793.0 225.8 L1795.0 226.3 L1797.0 224.9 L1799.0 226.2 L1801.0 226.1 L1803.0 225.4 L1805.0 226.1 L1807.0 225.3 L1809.0 224.0 L1811.0 225.3 L1813.0 224.7 L1815.0 224.7 L1817.0 224.4 L1819.0 225.2 L1821.0 224.5 L1823.0 223.6 L1825.0 224.3 L1827.0 224.4 L1829.0 223.3 L1831.0 223.5 L1833.0 223.4 L1835.0 223.2 L1837.0 223.8 L1839.0 224.1 L1841.0 224.7 L1843.0 224.1 L1845.0 223.9 L1847.0 223.9 L1849.0 224.0 L1851.0 222.7 L1853.0 223.4 L1855.0 223.0 L1857.0 222.7 L1859.0 222.4 L1861.0 222.2 L1863.0 222.3 L1865.0 221.6 L1867.0 222.7 L1869.0 222.3 L1871.0 222.3 L1873.0 222.4 L1875.0 222.5 L1877.0 221.6 L1879.0 221.8 L1881.0 220.7 L1883.0 220.2 L1885.0 220.3 L1887.0 222.6 L1889.0 220.3 L1891.0 221.8 L1893.0 222.4 L1895.0 221.0 L1897.0 222.3 L1899.0 222.4 L1901.0 221.7 L1903.0 222.6 L1905.0 221.3 L1907.0 220.3 L1909.0 221.1 L1911.0 220.4 L1913.0 219.7 L1915.0 219.7 L1917.0 222.1 L1919.0 220.0 L1921.0 220.3 L1923.0 219.8 L1925.0 220.3 L1927.0 219.9 L1929.0 219.8 L1931.0 219.1 L1933.0 218.9 L1935.0 219.3 L1937.0 220.0 L1939.0 221.1 L1941.0 220.3 L1943.0 220.8 L1945.0 219.8 L1947.0 219.3 L1949.0 218.4 L1951.0 219.3 L1953.0 217.7 L1955.0 218.9 L1957.0 220.2 L1959.0 219.2 L1961.0 219.7 L1963.0 218.6 L1965.0 217.8 L1967.0 218.4 L1969.0 218.4 L1971.0 219.4 L1973.0 219.9 L1975.0 217.9 L1977.0 218.1 L1979.0 218.2 L1981.0 218.0 L1983.0 217.3 L1985.0 218.1 L1987.0 218.3 L1989.0 218.2 L1991.0 217.1 L1993.0 217.7 L1995.0 216.6 L1997.0 218.3 L1999.0 216.9 L2001.0 217.4 L2003.0 217.2 L2005.0 217.0 L2007.0 216.6 L2009.0 216.1 L2011.0 218.4 L2013.0 217.3 L2015.0 217.3 L2017.0 218.5 L2019.0 216.9 L2021.0 217.3 L2023.0 216.8 L2025.0 217.6 L2027.0 217.1 L2029.0 216.9 L2031.0 216.4 L2033.0 216.7 L2035.0 217.3 L2037.0 215.0 L2039.0 216.2 L2041.0 216.0 L2043.0 216.0 L2045.0 214.8 L2047.0 216.6 L2049.0 215.4 L2051.0 215.8 L2053.0 215.5 L2055.0 214.7 L2057.0 215.4 L2059.0 214.4 L2061.0 215.0 L2063.0 215.3 L2065.0 215.5 L2067.0 215.5 L2069.0 215.3 L2071.0 216.8 L2073.0 215.6 L2075.0 214.3 L2077.0 214.7 L2079.0 214.6 L2081.0 214.9 L2083.0 214.5 L2085.0 214.3 L2087.0 216.0 L2089.0 214.8 L2091.0 214.5 L2093.0 214.5 L2095.0 214.4 L2097.0 215.5 L2099.0 214.8 L2101.0 215.2 L2103.0 212.2 L2105.0 214.5 L2107.0 215.0 L2109.0 215.5 L2111.0 214.1 L2113.0 212.9 L2115.0 214.4 L2117.0 213.5 L2119.0 212.6 L2121.0 213.4 L2123.0 214.5 L2125.0 214.5 L2127.0 214.1 L2129.0 212.8 L2131.0 215.3 L2133.0 212.6 L2135.0 213.3 L2137.0 212.3 L2139.0 214.2 L2141.0 213.5 L2143.0 213.8 L2145.0 213.2 L2147.0 213.0 L2149.0 213.1 L2151.0 211.6 L2153.0 213.6 L2155.0 213.5 L2157.0 212.5 L2159.0 212.7 L2161.0 212.9 L2163.0 213.7 L2165.0 212.8 L2167.0 212.5 L2169.0 212.1 L2171.0 211.3 L2173.0 211.9 L2175.0 212.3 L2177.0 212.0 L2179.0 212.2 L2181.0 212.6 L2183.0 212.4 L2185.0 212.2 L2187.0 212.4 L2189.0 212.0 L2191.0 211.8 L2193.0 212.1 L2195.0 210.5 L2197.0 212.5 L2199.0 210.7 L2201.0 212.2 L2203.0 211.5 L2205.0 212.2 L2207.0 211.4 L2209.0 210.7 L2211.0 212.1 L2213.0 211.4 L2215.0 211.3 L2217.0 211.2 L2219.0 211.8 L2221.0 211.6" stroke="#aa7cc8"/>
</g>
<rect x="242.5" y="64.75" width="1980" height="1289.25" fill="none" stroke="#000" stroke-width="10"/>
<path d="M242.5 1354.0 H270 M242.5 1289.5 H257.5 M242.5 1225.1 H270 M242.5 1160.6 H257.5 M242.5 1096.2 H270 M242.5 1031.7 H257.5 M242.5 967.2 H270 M242.5 902.8 H257.5 M242.5 838.3 H270 M242.5 773.8 H257.5 M242.5 709.4 H270 M242.5 644.9 H257.5 M242.5 580.5 H270 M242.5 516.0 H257.5 M242.5 451.5 H270 M242.5 387.1 H257.5 M242.5 322.6 H270 M242.5 258.1 H257.5 M242.5 193.7 H270 M242.5 129.2 H257.5 M242.5 64.8 H270 M407.5 1354 V1340.5 M572.5 1354 V1325 M737.4 1354 V1340.5 M902.4 1354 V1325 M1067.4 1354 V1340.5 M1232.3 1354 V1325 M1397.3 1354 V1340.5 M1562.3 1354 V1325 M1727.3 1354 V1340.5 M1892.2 1354 V1325 M2057.2 1354 V1340.5" stroke="#000" stroke-width="9.5" fill="none"/>
<text x="215" y="1359.6" font-family="'Liberation Serif', serif" font-weight="bold" font-size="61.5" text-anchor="end">0</text>
<text x="215" y="1230.7" font-family="'Liberation Serif', serif" font-weight="bold" font-size="61.5" text-anchor="end">10</text>
<text x="215" y="1101.8" font-family="'Liberation Serif', serif" font-weight="bold" font-size="61.5" text-anchor="end">20</text>
<text x="215" y="972.9" font-family="'Liberation Serif', serif" font-weight="bold" font-size="61.5" text-anchor="end">30</text>
<text x="215" y="843.9" font-family="'Liberation Serif', serif" font-weight="bold" font-size="61.5" text-anchor="end">40</text>
<text x="215" y="715.0" font-family="'Liberation Serif', serif" font-weight="bold" font-size="61.5" text-anchor="end">50</text>
<text x="215" y="586.1" font-family="'Liberation Serif', serif" font-weight="bold" font-size="61.5" text-anchor="end">60</text>
<text x="215" y="457.2" font-family="'Liberation Serif', serif" font-weight="bold" font-size="61.5" text-anchor="end">70</text>
<text x="215" y="328.2" font-family="'Liberation Serif', serif" font-weight="bold" font-size="61.5" text-anchor="end">80</text>
<text x="215" y="199.3" font-family="'Liberation Serif', serif" font-weight="bold" font-size="61.5" text-anchor="end">90</text>
<text x="215" y="70.4" font-family="'Liberation Serif', serif" font-weight="bold" font-size="61.5" text-anchor="end">100</text>
<text x="242.5" y="1433.7" font-family="'Liberation Serif', serif" font-weight="bold" font-size="61.5" text-anchor="middle">200</text>
<text x="572.5" y="1433.7" font-family="'Liberation Serif', serif" font-weight="bold" font-size="61.5" text-anchor="middle">300</text>
<text x="902.4" y="1433.7" font-family="'Liberation Serif', serif" font-weight="bold" font-size="61.5" text-anchor="middle">400</text>
<text x="1232.3" y="1433.7" font-family="'Liberation Serif', serif" font-weight="bold" font-size="61.5" text-anchor="middle">500</text>
<text x="1562.3" y="1433.7" font-family="'Liberation Serif', serif" font-weight="bold" font-size="61.5" text-anchor="middle">600</text>
<text x="1892.2" y="1433.7" font-family="'Liberation Serif', serif" font-weight="bold" font-size="61.5" text-anchor="middle">700</text>
<text x="2222.2" y="1433.7" font-family="'Liberation Serif', serif" font-weight="bold" font-size="61.5" text-anchor="middle">800</text>
<text x="1234" y="1545.5" font-family="'Liberation Serif', serif" font-weight="bold" font-size="76" text-anchor="middle">Wavelength (nm)</text>
<text transform="translate(75.3 711.3) rotate(-90)" x="0" y="0" font-family="'Liberation Serif', serif" font-weight="bold" font-size="76" letter-spacing="0.45" text-anchor="middle">Transmittance (%)</text>
<rect x="423.4" y="551.3" width="964.5" height="646" fill="#ffffff"/>
<g clip-path="url(#ci)" fill="none" stroke-width="5" stroke-linejoin="round" stroke-linecap="round">
<path d="M424.0 625.1 L426.0 622.9 L428.0 621.0 L430.0 617.9 L432.0 615.0 L434.0 612.1 L436.0 610.3 L438.0 609.2 L440.0 607.7 L442.0 607.5 L444.0 608.7 L446.0 610.5 L448.0 614.0 L450.0 616.2 L452.0 618.0 L454.0 619.9 L456.0 622.5 L458.0 624.9 L460.0 625.5 L462.0 625.9 L464.0 626.5 L466.0 625.2 L468.0 624.3 L470.0 624.4 L472.0 623.5 L474.0 623.1 L476.0 622.6 L478.0 622.7 L480.0 622.1 L482.0 621.7 L484.0 621.5 L486.0 621.7 L488.0 621.6 L490.0 621.3 L492.0 620.9 L494.0 618.6 L496.0 619.2 L498.0 619.1 L500.0 618.9 L502.0 617.7 L504.0 618.8 L506.0 618.1 L508.0 617.5 L510.0 617.7 L512.0 617.4 L514.0 617.1 L516.0 617.6 L518.0 616.9 L520.0 616.3 L522.0 616.2 L524.0 615.8 L526.0 614.6 L528.0 614.7 L530.0 612.9 L532.0 613.3 L534.0 612.3 L536.0 611.0 L538.0 611.3 L540.0 611.9 L542.0 611.7 L544.0 612.0 L546.0 613.4 L548.0 615.0 L550.0 614.5 L552.0 616.2 L554.0 616.6 L556.0 616.9 L558.0 616.8 L560.0 616.2 L562.0 615.5 L564.0 613.7 L566.0 611.3 L568.0 610.5 L570.0 608.1 L572.0 607.8 L574.0 606.7 L576.0 606.3 L578.0 605.1 L580.0 604.7 L582.0 603.6 L584.0 603.5 L586.0 602.8 L588.0 603.4 L590.0 601.8 L592.0 602.5 L594.0 601.9 L596.0 601.6 L598.0 601.0 L600.0 601.2 L602.0 600.0 L604.0 599.5 L606.0 599.9 L608.0 598.3 L610.0 599.2 L612.0 598.1 L614.0 598.2 L616.0 598.6 L618.0 600.1 L620.0 601.6 L622.0 603.0 L624.0 603.6 L626.0 603.4 L628.0 602.2 L630.0 600.8 L632.0 599.4 L634.0 598.8 L636.0 597.8 L638.0 598.7 L640.0 598.6 L642.0 597.8 L644.0 598.2 L646.0 598.3 L648.0 597.5 L650.0 597.9 L652.0 597.4 L654.0 596.3 L656.0 596.9 L658.0 596.9 L660.0 597.3 L662.0 596.6 L664.0 596.8 L666.0 596.6 L668.0 597.1 L670.0 597.1 L672.0 597.6 L674.0 597.6 L676.0 597.3 L678.0 597.4 L680.0 597.4 L682.0 597.4 L684.0 598.2 L686.0 596.3 L688.0 597.5 L690.0 597.8 L692.0 598.3 L694.0 597.3 L696.0 598.0 L698.0 598.4 L700.0 597.8 L702.0 597.3 L704.0 598.2 L706.0 598.1 L708.0 599.2 L710.0 598.9 L712.0 600.4 L714.0 600.1 L716.0 600.0 L718.0 600.6 L720.0 600.7 L722.0 601.8 L724.0 602.7 L726.0 602.3 L728.0 603.2 L730.0 602.6 L732.0 603.5 L734.0 604.7 L736.0 603.3 L738.0 604.8 L740.0 605.1 L742.0 604.0 L744.0 604.5 L746.0 605.0 L748.0 606.2 L750.0 605.9 L752.0 606.4 L754.0 607.2 L756.0 607.3 L758.0 607.8 L760.0 608.1 L762.0 609.4 L764.0 609.1 L766.0 610.7 L768.0 610.3 L770.0 610.5 L772.0 611.4 L774.0 611.4 L776.0 610.4 L778.0 611.6 L780.0 610.9 L782.0 611.3 L784.0 612.2 L786.0 611.5 L788.0 612.2 L790.0 612.0 L792.0 613.2 L794.0 612.3 L796.0 611.8 L798.0 612.0 L800.0 612.1 L802.0 612.7 L804.0 612.7 L806.0 613.2 L808.0 612.9 L810.0 612.9 L812.0 613.1 L814.0 612.9 L816.0 613.1 L818.0 613.4 L820.0 613.4 L822.0 612.8 L824.0 612.1 L826.0 612.6 L828.0 613.2 L830.0 611.8 L832.0 612.7 L834.0 613.1 L836.0 612.6 L838.0 612.2 L840.0 613.5 L842.0 613.3 L844.0 612.4 L846.0 613.0 L848.0 612.9 L850.0 611.6 L852.0 613.4 L854.0 611.5 L856.0 611.7 L858.0 611.2 L860.0 611.7 L862.0 610.9 L864.0 611.4 L866.0 611.9 L868.0 611.4 L870.0 611.1 L872.0 611.9 L874.0 610.6 L876.0 611.5 L878.0 610.9 L880.0 611.1 L882.0 611.0 L884.0 611.1 L886.0 611.0 L888.0 610.7 L890.0 610.8 L892.0 611.3 L894.0 611.0 L896.0 610.5 L898.0 610.8 L900.0 610.8 L902.0 611.2 L904.0 611.3 L906.0 611.3 L908.0 610.9 L910.0 611.3 L912.0 610.6 L914.0 609.9 L916.0 611.4 L918.0 610.6 L920.0 611.0 L922.0 610.9 L924.0 611.8 L926.0 610.9 L928.0 611.7 L930.0 611.4 L932.0 611.0 L934.0 610.9 L936.0 611.9 L938.0 611.9 L940.0 612.2 L942.0 612.7 L944.0 612.0 L946.0 612.0 L948.0 611.8 L950.0 611.9 L952.0 611.7 L954.0 611.5 L956.0 612.9 L958.0 611.0 L960.0 612.1 L962.0 612.2 L964.0 612.1 L966.0 611.5 L968.0 611.9 L970.0 611.8 L972.0 611.5 L974.0 612.0 L976.0 611.8 L978.0 611.7 L980.0 612.3 L982.0 611.5 L984.0 612.2 L986.0 611.7 L988.0 612.2 L990.0 612.0 L992.0 612.1 L994.0 611.4 L996.0 611.5 L998.0 611.5 L1000.0 612.0 L1002.0 612.3 L1004.0 612.4 L1006.0 611.6 L1008.0 611.9 L1010.0 611.0 L1012.0 610.7 L1014.0 611.4 L1016.0 611.5 L1018.0 611.0 L1020.0 610.9 L1022.0 612.0 L1024.0 611.3 L1026.0 610.9 L1028.0 612.8 L1030.0 611.8 L1032.0 611.5 L1034.0 612.0 L1036.0 611.2 L1038.0 612.4 L1040.0 610.8 L1042.0 610.9 L1044.0 611.5 L1046.0 611.1 L1048.0 612.2 L1050.0 610.7 L1052.0 611.1 L1054.0 611.6 L1056.0 611.7 L1058.0 611.9 L1060.0 611.5 L1062.0 612.4 L1064.0 611.1 L1066.0 611.4 L1068.0 611.7 L1070.0 611.1 L1072.0 611.1 L1074.0 611.0 L1076.0 610.9 L1078.0 610.6 L1080.0 610.9 L1082.0 610.4 L1084.0 611.3 L1086.0 610.3 L1088.0 612.1 L1090.0 611.9 L1092.0 611.6 L1094.0 611.0 L1096.0 610.8 L1098.0 611.7 L1100.0 611.1 L1102.0 611.3 L1104.0 610.7 L1106.0 611.5 L1108.0 610.6 L1110.0 611.0 L1112.0 610.1 L1114.0 610.6 L1116.0 611.2 L1118.0 610.7 L1120.0 610.7 L1122.0 611.3 L1124.0 610.9 L1126.0 611.5 L1128.0 609.7 L1130.0 611.2 L1132.0 611.1 L1134.0 610.1 L1136.0 610.2 L1138.0 611.3 L1140.0 610.3 L1142.0 610.5 L1144.0 611.1 L1146.0 610.6 L1148.0 611.0 L1150.0 610.4 L1152.0 610.9 L1154.0 611.3 L1156.0 610.9 L1158.0 609.7 L1160.0 611.1 L1162.0 610.8 L1164.0 610.3 L1166.0 611.4 L1168.0 609.9 L1170.0 611.6 L1172.0 610.4 L1174.0 611.5 L1176.0 610.7 L1178.0 610.0 L1180.0 610.7 L1182.0 610.8 L1184.0 610.9 L1186.0 611.2 L1188.0 610.2 L1190.0 610.9 L1192.0 611.0 L1194.0 610.5 L1196.0 610.2 L1198.0 610.1 L1200.0 611.0 L1202.0 611.0 L1204.0 610.2 L1206.0 609.9 L1208.0 611.2 L1210.0 609.8 L1212.0 610.6 L1214.0 610.2 L1216.0 609.7 L1218.0 610.6 L1220.0 610.5 L1222.0 611.3 L1224.0 611.7 L1226.0 610.4 L1228.0 611.0 L1230.0 611.0 L1232.0 610.3 L1234.0 610.1 L1236.0 611.3 L1238.0 610.3 L1240.0 610.5 L1242.0 610.3 L1244.0 610.4 L1246.0 610.2 L1248.0 610.8 L1250.0 611.1 L1252.0 610.3 L1254.0 609.8 L1256.0 610.5 L1258.0 609.7 L1260.0 610.1 L1262.0 611.1 L1264.0 611.6 L1266.0 610.6 L1268.0 609.9 L1270.0 610.8 L1272.0 609.3 L1274.0 610.1 L1276.0 611.2 L1278.0 610.8 L1280.0 609.7 L1282.0 609.6 L1284.0 610.8 L1286.0 610.4 L1288.0 610.1 L1290.0 610.6 L1292.0 610.1 L1294.0 609.4 L1296.0 610.8 L1298.0 610.1 L1300.0 609.9 L1302.0 609.7 L1304.0 610.5 L1306.0 610.0 L1308.0 610.7 L1310.0 610.2 L1312.0 610.9 L1314.0 610.2 L1316.0 610.0 L1318.0 609.4 L1320.0 609.8 L1322.0 610.7 L1324.0 611.9 L1326.0 609.7 L1328.0 609.8 L1330.0 610.5 L1332.0 610.6 L1334.0 610.0 L1336.0 610.4 L1338.0 609.5 L1340.0 610.2 L1342.0 610.8 L1344.0 611.1 L1346.0 610.2 L1348.0 610.2 L1350.0 610.5 L1352.0 610.9 L1354.0 610.5 L1356.0 609.9 L1358.0 610.5 L1360.0 610.8 L1362.0 609.9 L1364.0 609.6 L1366.0 610.5 L1368.0 610.5 L1370.0 610.8 L1372.0 610.3 L1374.0 610.0 L1376.0 610.1 L1378.0 609.8 L1380.0 609.8 L1382.0 610.0 L1384.0 610.0 L1386.0 610.8 L1388.0 609.7" stroke="#de8a44"/>
<path d="M424.0 983.0 L426.0 981.8 L428.0 981.3 L430.0 979.5 L432.0 977.8 L434.0 976.7 L436.0 975.0 L438.0 973.4 L440.0 972.7 L442.0 971.0 L444.0 969.9 L446.0 968.2 L448.0 966.4 L450.0 964.4 L452.0 962.2 L454.0 961.0 L456.0 959.0 L458.0 957.6 L460.0 955.9 L462.0 954.3 L464.0 952.9 L466.0 952.3 L468.0 951.3 L470.0 949.4 L472.0 948.5 L474.0 947.7 L476.0 945.6 L478.0 944.6 L480.0 943.0 L482.0 942.5 L484.0 940.6 L486.0 938.6 L488.0 936.5 L490.0 935.4 L492.0 934.4 L494.0 932.5 L496.0 931.2 L498.0 930.4 L500.0 928.5 L502.0 927.8 L504.0 926.8 L506.0 925.1 L508.0 923.8 L510.0 922.9 L512.0 921.5 L514.0 920.1 L516.0 918.9 L518.0 917.6 L520.0 915.7 L522.0 914.4 L524.0 913.4 L526.0 912.2 L528.0 910.9 L530.0 908.6 L532.0 907.8 L534.0 906.1 L536.0 904.2 L538.0 902.7 L540.0 901.0 L542.0 899.5 L544.0 896.6 L546.0 895.1 L548.0 892.9 L550.0 890.9 L552.0 889.4 L554.0 887.5 L556.0 885.2 L558.0 883.7 L560.0 882.3 L562.0 880.1 L564.0 879.3 L566.0 877.3 L568.0 875.7 L570.0 874.1 L572.0 872.9 L574.0 870.6 L576.0 868.8 L578.0 867.8 L580.0 865.3 L582.0 863.6 L584.0 861.4 L586.0 860.4 L588.0 858.1 L590.0 856.1 L592.0 853.7 L594.0 851.2 L596.0 848.5 L598.0 845.9 L600.0 843.7 L602.0 840.9 L604.0 838.8 L606.0 835.5 L608.0 832.9 L610.0 830.1 L612.0 828.1 L614.0 824.6 L616.0 822.4 L618.0 820.0 L620.0 816.9 L622.0 814.6 L624.0 811.3 L626.0 809.5 L628.0 806.9 L630.0 805.2 L632.0 803.0 L634.0 800.7 L636.0 799.1 L638.0 796.9 L640.0 794.6 L642.0 792.5 L644.0 790.2 L646.0 788.7 L648.0 787.4 L650.0 784.5 L652.0 782.9 L654.0 780.6 L656.0 779.0 L658.0 776.8 L660.0 774.5 L662.0 771.9 L664.0 770.2 L666.0 768.5 L668.0 765.7 L670.0 763.7 L672.0 761.0 L674.0 758.2 L676.0 756.5 L678.0 754.1 L680.0 751.5 L682.0 749.2 L684.0 747.1 L686.0 744.6 L688.0 742.7 L690.0 740.3 L692.0 737.6 L694.0 736.3 L696.0 734.2 L698.0 732.4 L700.0 731.1 L702.0 729.2 L704.0 728.1 L706.0 726.9 L708.0 725.2 L710.0 723.3 L712.0 722.3 L714.0 721.7 L716.0 720.0 L718.0 718.7 L720.0 717.8 L722.0 716.8 L724.0 715.6 L726.0 714.6 L728.0 712.8 L730.0 711.8 L732.0 710.5 L734.0 709.3 L736.0 707.2 L738.0 706.5 L740.0 704.6 L742.0 704.0 L744.0 702.4 L746.0 700.8 L748.0 698.8 L750.0 696.7 L752.0 695.6 L754.0 693.6 L756.0 692.4 L758.0 690.5 L760.0 689.4 L762.0 688.7 L764.0 688.2 L766.0 686.6 L768.0 686.7 L770.0 686.0 L772.0 683.6 L774.0 683.3 L776.0 682.2 L778.0 681.8 L780.0 680.9 L782.0 680.5 L784.0 680.3 L786.0 679.6 L788.0 678.7 L790.0 678.0 L792.0 677.5 L794.0 676.9 L796.0 676.5 L798.0 675.7 L800.0 675.4 L802.0 674.1 L804.0 674.4 L806.0 674.3 L808.0 673.1 L810.0 671.8 L812.0 672.5 L814.0 671.2 L816.0 669.5 L818.0 670.2 L820.0 670.0 L822.0 669.4 L824.0 669.3 L826.0 668.5 L828.0 667.7 L830.0 666.3 L832.0 666.2 L834.0 666.3 L836.0 666.0 L838.0 664.8 L840.0 664.5 L842.0 664.6 L844.0 663.1 L846.0 662.6 L848.0 663.0 L850.0 662.8 L852.0 662.0 L854.0 660.8 L856.0 661.5 L858.0 660.5 L860.0 661.1 L862.0 660.4 L864.0 660.2 L866.0 660.0 L868.0 659.2 L870.0 659.5 L872.0 659.4 L874.0 658.7 L876.0 658.8 L878.0 657.6 L880.0 658.0 L882.0 657.4 L884.0 656.6 L886.0 656.7 L888.0 656.2 L890.0 656.0 L892.0 656.0 L894.0 656.2 L896.0 655.3 L898.0 655.3 L900.0 654.3 L902.0 654.8 L904.0 655.0 L906.0 654.6 L908.0 654.3 L910.0 653.6 L912.0 653.1 L914.0 653.4 L916.0 652.6 L918.0 652.4 L920.0 653.2 L922.0 652.2 L924.0 653.3 L926.0 651.6 L928.0 652.3 L930.0 651.3 L932.0 651.8 L934.0 651.0 L936.0 651.4 L938.0 651.1 L940.0 650.8 L942.0 651.1 L944.0 651.4 L946.0 650.3 L948.0 650.8 L950.0 650.3 L952.0 650.1 L954.0 651.0 L956.0 648.8 L958.0 649.3 L960.0 648.6 L962.0 649.2 L964.0 649.1 L966.0 650.8 L968.0 649.0 L970.0 649.6 L972.0 649.2 L974.0 648.2 L976.0 648.5 L978.0 648.8 L980.0 648.0 L982.0 647.8 L984.0 647.8 L986.0 646.7 L988.0 646.8 L990.0 647.2 L992.0 647.1 L994.0 646.2 L996.0 646.3 L998.0 646.3 L1000.0 646.1 L1002.0 646.3 L1004.0 645.9 L1006.0 645.7 L1008.0 644.8 L1010.0 644.8 L1012.0 645.3 L1014.0 644.2 L1016.0 645.0 L1018.0 644.4 L1020.0 644.2 L1022.0 644.7 L1024.0 644.0 L1026.0 643.8 L1028.0 643.7 L1030.0 644.0 L1032.0 645.1 L1034.0 642.7 L1036.0 643.6 L1038.0 643.4 L1040.0 643.9 L1042.0 643.2 L1044.0 642.1 L1046.0 643.9 L1048.0 642.6 L1050.0 643.0 L1052.0 642.3 L1054.0 642.4 L1056.0 642.6 L1058.0 643.2 L1060.0 643.2 L1062.0 642.4 L1064.0 642.9 L1066.0 642.4 L1068.0 642.6 L1070.0 642.5 L1072.0 642.7 L1074.0 642.1 L1076.0 642.2 L1078.0 642.4 L1080.0 642.3 L1082.0 641.8 L1084.0 643.0 L1086.0 641.9 L1088.0 642.4 L1090.0 642.1 L1092.0 642.5 L1094.0 640.8 L1096.0 642.9 L1098.0 641.7 L1100.0 641.2 L1102.0 641.8 L1104.0 642.8 L1106.0 641.9 L1108.0 641.0 L1110.0 641.4 L1112.0 642.2 L1114.0 640.8 L1116.0 641.4 L1118.0 641.3 L1120.0 642.5 L1122.0 641.2 L1124.0 642.0 L1126.0 641.0 L1128.0 640.9 L1130.0 641.8 L1132.0 641.5 L1134.0 640.4 L1136.0 641.5 L1138.0 641.5 L1140.0 640.8 L1142.0 641.2 L1144.0 641.2 L1146.0 640.8 L1148.0 640.8 L1150.0 640.7 L1152.0 640.9 L1154.0 640.3 L1156.0 640.9 L1158.0 640.2 L1160.0 640.9 L1162.0 640.8 L1164.0 640.3 L1166.0 641.2 L1168.0 641.7 L1170.0 641.4 L1172.0 640.0 L1174.0 641.3 L1176.0 640.8 L1178.0 640.6 L1180.0 640.3 L1182.0 640.5 L1184.0 641.2 L1186.0 640.7 L1188.0 640.2 L1190.0 640.0 L1192.0 640.1 L1194.0 640.5 L1196.0 641.1 L1198.0 639.6 L1200.0 640.0 L1202.0 639.7 L1204.0 639.4 L1206.0 639.9 L1208.0 639.9 L1210.0 638.8 L1212.0 638.9 L1214.0 639.8 L1216.0 639.3 L1218.0 639.3 L1220.0 638.7 L1222.0 638.6 L1224.0 638.9 L1226.0 638.3 L1228.0 637.9 L1230.0 638.3 L1232.0 638.7 L1234.0 637.6 L1236.0 638.5 L1238.0 638.3 L1240.0 637.4 L1242.0 637.8 L1244.0 637.7 L1246.0 637.9 L1248.0 637.9 L1250.0 636.8 L1252.0 636.7 L1254.0 637.8 L1256.0 637.2 L1258.0 637.3 L1260.0 637.2 L1262.0 637.7 L1264.0 636.3 L1266.0 637.3 L1268.0 636.3 L1270.0 636.9 L1272.0 637.2 L1274.0 635.8 L1276.0 636.5 L1278.0 636.1 L1280.0 636.0 L1282.0 636.1 L1284.0 635.5 L1286.0 635.5 L1288.0 636.2 L1290.0 636.2 L1292.0 635.5 L1294.0 635.0 L1296.0 636.7 L1298.0 636.1 L1300.0 635.6 L1302.0 634.9 L1304.0 635.1 L1306.0 635.4 L1308.0 634.8 L1310.0 636.0 L1312.0 635.2 L1314.0 635.3 L1316.0 634.6 L1318.0 634.6 L1320.0 634.7 L1322.0 635.2 L1324.0 634.9 L1326.0 634.9 L1328.0 635.1 L1330.0 635.1 L1332.0 635.7 L1334.0 634.9 L1336.0 634.5 L1338.0 635.0 L1340.0 635.7 L1342.0 634.7 L1344.0 635.0 L1346.0 634.8 L1348.0 635.2 L1350.0 635.1 L1352.0 634.6 L1354.0 634.9 L1356.0 635.4 L1358.0 635.5 L1360.0 635.4 L1362.0 635.4 L1364.0 634.8 L1366.0 634.8 L1368.0 635.4 L1370.0 634.4 L1372.0 635.0 L1374.0 634.1 L1376.0 634.8 L1378.0 634.6 L1380.0 634.4 L1382.0 635.3 L1384.0 634.6 L1386.0 634.8 L1388.0 634.9" stroke="#4b4b4b"/>
<path d="M424.0 994.7 L426.0 993.4 L428.0 990.6 L430.0 988.3 L432.0 985.1 L434.0 982.2 L436.0 978.8 L438.0 975.3 L440.0 971.8 L442.0 968.7 L444.0 965.9 L446.0 962.3 L448.0 959.1 L450.0 955.8 L452.0 953.2 L454.0 949.6 L456.0 945.9 L458.0 942.5 L460.0 938.6 L462.0 935.4 L464.0 932.1 L466.0 928.6 L468.0 925.0 L470.0 921.6 L472.0 918.6 L474.0 915.3 L476.0 911.4 L478.0 908.9 L480.0 906.2 L482.0 902.8 L484.0 900.2 L486.0 896.8 L488.0 894.6 L490.0 891.1 L492.0 888.0 L494.0 885.0 L496.0 882.3 L498.0 878.1 L500.0 874.7 L502.0 872.2 L504.0 869.3 L506.0 866.9 L508.0 863.3 L510.0 860.5 L512.0 858.3 L514.0 855.8 L516.0 853.2 L518.0 850.9 L520.0 847.6 L522.0 845.3 L524.0 843.0 L526.0 840.9 L528.0 838.4 L530.0 835.8 L532.0 833.3 L534.0 831.7 L536.0 829.5 L538.0 827.8 L540.0 824.7 L542.0 823.1 L544.0 820.1 L546.0 818.3 L548.0 816.3 L550.0 814.5 L552.0 812.5 L554.0 811.0 L556.0 809.6 L558.0 808.0 L560.0 807.1 L562.0 805.5 L564.0 804.3 L566.0 803.6 L568.0 801.9 L570.0 800.5 L572.0 799.1 L574.0 797.6 L576.0 796.3 L578.0 794.1 L580.0 792.8 L582.0 790.8 L584.0 788.5 L586.0 785.6 L588.0 782.9 L590.0 781.0 L592.0 779.0 L594.0 777.1 L596.0 774.9 L598.0 773.0 L600.0 771.9 L602.0 769.4 L604.0 768.3 L606.0 766.6 L608.0 764.3 L610.0 763.4 L612.0 761.6 L614.0 760.1 L616.0 758.4 L618.0 757.3 L620.0 756.8 L622.0 755.3 L624.0 754.4 L626.0 752.8 L628.0 752.0 L630.0 750.9 L632.0 749.4 L634.0 748.3 L636.0 748.1 L638.0 747.1 L640.0 745.7 L642.0 745.1 L644.0 744.5 L646.0 744.0 L648.0 742.1 L650.0 741.8 L652.0 741.5 L654.0 739.8 L656.0 739.5 L658.0 737.0 L660.0 737.7 L662.0 736.2 L664.0 734.5 L666.0 734.7 L668.0 733.9 L670.0 733.0 L672.0 732.1 L674.0 730.7 L676.0 729.4 L678.0 728.6 L680.0 727.9 L682.0 727.1 L684.0 725.9 L686.0 725.2 L688.0 724.6 L690.0 723.5 L692.0 723.5 L694.0 722.6 L696.0 720.4 L698.0 719.8 L700.0 718.7 L702.0 718.0 L704.0 717.9 L706.0 716.6 L708.0 715.8 L710.0 715.5 L712.0 715.2 L714.0 714.0 L716.0 713.3 L718.0 713.1 L720.0 712.2 L722.0 711.4 L724.0 710.8 L726.0 709.2 L728.0 708.8 L730.0 707.7 L732.0 707.5 L734.0 706.6 L736.0 705.0 L738.0 705.1 L740.0 703.3 L742.0 703.5 L744.0 702.3 L746.0 701.1 L748.0 700.2 L750.0 699.7 L752.0 699.0 L754.0 698.0 L756.0 697.7 L758.0 696.1 L760.0 696.0 L762.0 695.2 L764.0 693.7 L766.0 694.0 L768.0 692.6 L770.0 691.5 L772.0 691.7 L774.0 691.3 L776.0 691.2 L778.0 690.0 L780.0 690.3 L782.0 689.8 L784.0 689.1 L786.0 688.7 L788.0 687.8 L790.0 686.9 L792.0 687.0 L794.0 686.7 L796.0 685.9 L798.0 685.2 L800.0 684.2 L802.0 684.7 L804.0 684.2 L806.0 683.0 L808.0 683.2 L810.0 683.0 L812.0 682.2 L814.0 682.2 L816.0 681.7 L818.0 680.3 L820.0 680.4 L822.0 680.3 L824.0 680.1 L826.0 679.8 L828.0 677.9 L830.0 678.3 L832.0 678.2 L834.0 677.9 L836.0 677.7 L838.0 676.1 L840.0 675.9 L842.0 675.1 L844.0 675.5 L846.0 674.1 L848.0 674.8 L850.0 674.3 L852.0 673.6 L854.0 672.0 L856.0 672.2 L858.0 672.5 L860.0 671.1 L862.0 671.2 L864.0 670.8 L866.0 670.8 L868.0 670.1 L870.0 669.7 L872.0 669.0 L874.0 668.8 L876.0 668.3 L878.0 668.3 L880.0 667.5 L882.0 667.6 L884.0 666.0 L886.0 666.9 L888.0 665.9 L890.0 666.0 L892.0 665.2 L894.0 665.1 L896.0 665.0 L898.0 663.6 L900.0 663.5 L902.0 663.0 L904.0 662.8 L906.0 661.6 L908.0 661.8 L910.0 661.4 L912.0 660.8 L914.0 660.7 L916.0 659.7 L918.0 660.7 L920.0 659.9 L922.0 660.3 L924.0 658.7 L926.0 658.2 L928.0 658.6 L930.0 657.4 L932.0 658.1 L934.0 657.4 L936.0 657.3 L938.0 657.3 L940.0 657.0 L942.0 657.6 L944.0 656.9 L946.0 655.7 L948.0 656.6 L950.0 655.3 L952.0 655.8 L954.0 654.9 L956.0 654.9 L958.0 655.7 L960.0 654.7 L962.0 654.4 L964.0 654.3 L966.0 654.2 L968.0 654.9 L970.0 653.5 L972.0 653.3 L974.0 654.0 L976.0 652.8 L978.0 653.2 L980.0 653.8 L982.0 653.1 L984.0 652.7 L986.0 652.4 L988.0 652.2 L990.0 652.2 L992.0 652.4 L994.0 652.8 L996.0 652.5 L998.0 651.7 L1000.0 651.5 L1002.0 652.0 L1004.0 650.7 L1006.0 651.2 L1008.0 651.1 L1010.0 650.6 L1012.0 650.6 L1014.0 651.1 L1016.0 650.0 L1018.0 650.2 L1020.0 650.2 L1022.0 650.5 L1024.0 649.7 L1026.0 650.7 L1028.0 649.9 L1030.0 649.8 L1032.0 649.7 L1034.0 649.4 L1036.0 649.2 L1038.0 650.1 L1040.0 649.6 L1042.0 649.3 L1044.0 649.8 L1046.0 648.8 L1048.0 649.4 L1050.0 649.0 L1052.0 648.5 L1054.0 649.3 L1056.0 648.1 L1058.0 649.1 L1060.0 648.3 L1062.0 648.9 L1064.0 649.3 L1066.0 648.9 L1068.0 648.3 L1070.0 648.5 L1072.0 648.3 L1074.0 647.8 L1076.0 647.8 L1078.0 648.4 L1080.0 648.6 L1082.0 647.4 L1084.0 648.2 L1086.0 648.4 L1088.0 648.2 L1090.0 647.6 L1092.0 648.6 L1094.0 647.5 L1096.0 648.4 L1098.0 648.8 L1100.0 647.0 L1102.0 648.1 L1104.0 648.1 L1106.0 648.1 L1108.0 647.6 L1110.0 647.8 L1112.0 647.3 L1114.0 648.0 L1116.0 648.3 L1118.0 647.7 L1120.0 647.7 L1122.0 648.0 L1124.0 648.2 L1126.0 648.4 L1128.0 648.4 L1130.0 648.6 L1132.0 648.0 L1134.0 647.5 L1136.0 649.2 L1138.0 649.7 L1140.0 648.5 L1142.0 648.9 L1144.0 649.5 L1146.0 650.0 L1148.0 650.0 L1150.0 650.4 L1152.0 649.9 L1154.0 650.3 L1156.0 650.5 L1158.0 650.2 L1160.0 651.1 L1162.0 651.0 L1164.0 651.3 L1166.0 650.8 L1168.0 651.6 L1170.0 650.7 L1172.0 651.5 L1174.0 650.2 L1176.0 651.0 L1178.0 652.0 L1180.0 651.5 L1182.0 651.9 L1184.0 651.1 L1186.0 652.6 L1188.0 652.2 L1190.0 652.0 L1192.0 652.2 L1194.0 652.2 L1196.0 652.8 L1198.0 652.2 L1200.0 651.4 L1202.0 652.0 L1204.0 652.8 L1206.0 652.5 L1208.0 652.0 L1210.0 652.5 L1212.0 652.3 L1214.0 652.5 L1216.0 651.5 L1218.0 651.8 L1220.0 652.6 L1222.0 652.2 L1224.0 652.5 L1226.0 653.3 L1228.0 652.2 L1230.0 652.5 L1232.0 652.1 L1234.0 652.1 L1236.0 652.4 L1238.0 651.7 L1240.0 651.4 L1242.0 653.1 L1244.0 652.4 L1246.0 653.1 L1248.0 652.6 L1250.0 652.6 L1252.0 652.9 L1254.0 653.0 L1256.0 652.1 L1258.0 653.3 L1260.0 652.3 L1262.0 652.9 L1264.0 654.2 L1266.0 653.2 L1268.0 654.1 L1270.0 653.4 L1272.0 654.1 L1274.0 654.1 L1276.0 654.5 L1278.0 654.2 L1280.0 654.4 L1282.0 655.3 L1284.0 654.6 L1286.0 655.2 L1288.0 656.1 L1290.0 655.7 L1292.0 655.8 L1294.0 655.8 L1296.0 656.5 L1298.0 656.3 L1300.0 656.6 L1302.0 656.6 L1304.0 657.6 L1306.0 656.6 L1308.0 655.9 L1310.0 657.0 L1312.0 657.0 L1314.0 657.1 L1316.0 656.3 L1318.0 657.6 L1320.0 657.1 L1322.0 657.2 L1324.0 656.5 L1326.0 657.5 L1328.0 657.3 L1330.0 658.0 L1332.0 657.2 L1334.0 656.9 L1336.0 657.6 L1338.0 657.1 L1340.0 657.8 L1342.0 657.2 L1344.0 657.7 L1346.0 657.8 L1348.0 657.9 L1350.0 657.8 L1352.0 657.8 L1354.0 658.3 L1356.0 658.2 L1358.0 658.6 L1360.0 658.6 L1362.0 657.8 L1364.0 659.0 L1366.0 659.9 L1368.0 659.6 L1370.0 659.9 L1372.0 660.1 L1374.0 659.8 L1376.0 659.7 L1378.0 660.9 L1380.0 661.2 L1382.0 661.2 L1384.0 661.4 L1386.0 661.6 L1388.0 661.6" stroke="#f4384e"/>
<path d="M424.0 1089.0 L426.0 1085.0 L428.0 1081.9 L430.0 1078.9 L432.0 1076.5 L434.0 1074.1 L436.0 1070.7 L438.0 1066.4 L440.0 1062.7 L442.0 1057.5 L444.0 1053.7 L446.0 1048.7 L448.0 1043.9 L450.0 1038.8 L452.0 1033.8 L454.0 1029.1 L456.0 1024.6 L458.0 1019.9 L460.0 1015.8 L462.0 1011.6 L464.0 1007.4 L466.0 1002.9 L468.0 998.7 L470.0 995.4 L472.0 991.5 L474.0 988.0 L476.0 984.5 L478.0 980.4 L480.0 975.6 L482.0 971.0 L484.0 966.3 L486.0 961.2 L488.0 956.7 L490.0 952.6 L492.0 948.4 L494.0 944.4 L496.0 940.6 L498.0 937.2 L500.0 933.5 L502.0 930.5 L504.0 927.0 L506.0 924.3 L508.0 921.3 L510.0 917.8 L512.0 915.9 L514.0 912.9 L516.0 910.9 L518.0 908.1 L520.0 905.2 L522.0 902.5 L524.0 899.3 L526.0 896.8 L528.0 894.4 L530.0 892.0 L532.0 890.0 L534.0 887.5 L536.0 886.0 L538.0 883.4 L540.0 881.8 L542.0 879.6 L544.0 877.3 L546.0 874.5 L548.0 873.2 L550.0 869.9 L552.0 867.8 L554.0 865.3 L556.0 863.9 L558.0 861.3 L560.0 859.8 L562.0 857.4 L564.0 856.1 L566.0 854.2 L568.0 853.0 L570.0 851.1 L572.0 849.3 L574.0 848.1 L576.0 845.9 L578.0 844.3 L580.0 843.0 L582.0 840.3 L584.0 839.3 L586.0 837.1 L588.0 835.2 L590.0 834.1 L592.0 832.7 L594.0 830.9 L596.0 829.6 L598.0 828.6 L600.0 827.4 L602.0 825.9 L604.0 824.6 L606.0 823.6 L608.0 822.9 L610.0 822.6 L612.0 821.8 L614.0 821.0 L616.0 820.8 L618.0 819.6 L620.0 819.0 L622.0 818.6 L624.0 819.3 L626.0 817.3 L628.0 818.0 L630.0 817.9 L632.0 817.5 L634.0 818.3 L636.0 817.6 L638.0 817.2 L640.0 816.3 L642.0 816.8 L644.0 816.3 L646.0 816.3 L648.0 816.2 L650.0 815.8 L652.0 816.2 L654.0 816.5 L656.0 816.1 L658.0 815.6 L660.0 814.4 L662.0 815.6 L664.0 815.5 L666.0 814.7 L668.0 814.4 L670.0 814.7 L672.0 813.8 L674.0 814.4 L676.0 813.3 L678.0 813.2 L680.0 813.4 L682.0 812.6 L684.0 813.1 L686.0 813.1 L688.0 812.1 L690.0 813.0 L692.0 812.2 L694.0 812.7 L696.0 812.4 L698.0 812.1 L700.0 812.0 L702.0 811.5 L704.0 812.0 L706.0 812.0 L708.0 813.2 L710.0 813.0 L712.0 812.0 L714.0 813.1 L716.0 812.9 L718.0 812.7 L720.0 813.2 L722.0 813.4 L724.0 812.9 L726.0 813.1 L728.0 813.4 L730.0 812.9 L732.0 813.5 L734.0 813.4 L736.0 813.2 L738.0 813.1 L740.0 813.6 L742.0 813.9 L744.0 813.6 L746.0 813.0 L748.0 813.7 L750.0 813.4 L752.0 813.5 L754.0 813.7 L756.0 812.6 L758.0 812.9 L760.0 812.6 L762.0 812.4 L764.0 813.6 L766.0 813.0 L768.0 811.6 L770.0 812.5 L772.0 811.9 L774.0 812.6 L776.0 812.0 L778.0 811.8 L780.0 811.8 L782.0 811.8 L784.0 811.5 L786.0 811.3 L788.0 811.2 L790.0 811.4 L792.0 810.6 L794.0 811.0 L796.0 810.8 L798.0 810.6 L800.0 811.0 L802.0 810.0 L804.0 810.3 L806.0 810.0 L808.0 810.5 L810.0 809.9 L812.0 810.1 L814.0 810.1 L816.0 809.1 L818.0 809.9 L820.0 809.3 L822.0 809.4 L824.0 809.3 L826.0 809.7 L828.0 809.5 L830.0 809.9 L832.0 809.0 L834.0 808.6 L836.0 808.5 L838.0 808.9 L840.0 809.2 L842.0 808.5 L844.0 808.0 L846.0 808.2 L848.0 808.1 L850.0 807.9 L852.0 807.4 L854.0 806.4 L856.0 807.2 L858.0 807.8 L860.0 807.3 L862.0 806.1 L864.0 806.9 L866.0 806.0 L868.0 807.5 L870.0 806.6 L872.0 805.8 L874.0 806.6 L876.0 805.7 L878.0 806.2 L880.0 805.8 L882.0 805.1 L884.0 805.7 L886.0 804.7 L888.0 805.7 L890.0 804.9 L892.0 804.3 L894.0 803.7 L896.0 805.0 L898.0 804.8 L900.0 803.4 L902.0 804.4 L904.0 803.6 L906.0 803.2 L908.0 803.0 L910.0 802.7 L912.0 803.3 L914.0 802.5 L916.0 801.4 L918.0 802.9 L920.0 802.2 L922.0 801.1 L924.0 801.2 L926.0 800.8 L928.0 801.0 L930.0 800.9 L932.0 800.6 L934.0 800.1 L936.0 799.8 L938.0 800.3 L940.0 799.7 L942.0 800.5 L944.0 799.0 L946.0 799.5 L948.0 799.0 L950.0 798.4 L952.0 799.2 L954.0 798.4 L956.0 797.8 L958.0 797.9 L960.0 798.3 L962.0 797.1 L964.0 798.0 L966.0 797.5 L968.0 796.9 L970.0 797.4 L972.0 797.4 L974.0 796.7 L976.0 796.3 L978.0 796.8 L980.0 796.4 L982.0 795.2 L984.0 795.3 L986.0 795.0 L988.0 794.7 L990.0 794.0 L992.0 794.8 L994.0 794.2 L996.0 794.0 L998.0 794.3 L1000.0 793.2 L1002.0 793.2 L1004.0 793.1 L1006.0 792.5 L1008.0 792.4 L1010.0 792.5 L1012.0 791.9 L1014.0 792.2 L1016.0 791.1 L1018.0 791.2 L1020.0 790.2 L1022.0 790.5 L1024.0 790.0 L1026.0 790.6 L1028.0 790.1 L1030.0 789.7 L1032.0 790.0 L1034.0 789.5 L1036.0 788.9 L1038.0 788.0 L1040.0 787.4 L1042.0 787.7 L1044.0 787.3 L1046.0 786.9 L1048.0 786.8 L1050.0 785.9 L1052.0 786.9 L1054.0 785.5 L1056.0 785.4 L1058.0 785.6 L1060.0 784.4 L1062.0 785.2 L1064.0 784.9 L1066.0 784.0 L1068.0 783.4 L1070.0 783.3 L1072.0 782.4 L1074.0 783.5 L1076.0 782.6 L1078.0 782.0 L1080.0 781.6 L1082.0 781.9 L1084.0 782.0 L1086.0 780.4 L1088.0 780.4 L1090.0 779.6 L1092.0 780.3 L1094.0 779.7 L1096.0 780.3 L1098.0 779.0 L1100.0 778.5 L1102.0 778.0 L1104.0 778.4 L1106.0 777.0 L1108.0 777.7 L1110.0 777.1 L1112.0 776.4 L1114.0 775.9 L1116.0 776.4 L1118.0 776.4 L1120.0 775.1 L1122.0 775.2 L1124.0 775.4 L1126.0 774.0 L1128.0 773.8 L1130.0 773.0 L1132.0 773.1 L1134.0 772.8 L1136.0 772.3 L1138.0 771.8 L1140.0 771.1 L1142.0 770.8 L1144.0 770.6 L1146.0 770.9 L1148.0 770.1 L1150.0 769.6 L1152.0 769.9 L1154.0 769.4 L1156.0 768.5 L1158.0 768.2 L1160.0 768.4 L1162.0 767.9 L1164.0 767.0 L1166.0 767.1 L1168.0 766.6 L1170.0 766.7 L1172.0 765.5 L1174.0 765.9 L1176.0 765.3 L1178.0 764.3 L1180.0 764.8 L1182.0 764.4 L1184.0 763.0 L1186.0 764.1 L1188.0 762.3 L1190.0 762.0 L1192.0 761.9 L1194.0 762.0 L1196.0 761.5 L1198.0 760.8 L1200.0 761.1 L1202.0 760.3 L1204.0 760.3 L1206.0 760.5 L1208.0 759.0 L1210.0 757.3 L1212.0 757.9 L1214.0 757.2 L1216.0 757.3 L1218.0 756.9 L1220.0 755.9 L1222.0 755.5 L1224.0 755.5 L1226.0 755.1 L1228.0 753.6 L1230.0 754.8 L1232.0 753.9 L1234.0 753.5 L1236.0 753.2 L1238.0 752.2 L1240.0 752.3 L1242.0 752.3 L1244.0 751.9 L1246.0 751.2 L1248.0 750.5 L1250.0 749.9 L1252.0 750.4 L1254.0 749.7 L1256.0 748.8 L1258.0 747.7 L1260.0 747.8 L1262.0 747.0 L1264.0 748.0 L1266.0 747.1 L1268.0 746.4 L1270.0 746.2 L1272.0 747.1 L1274.0 746.1 L1276.0 744.6 L1278.0 744.8 L1280.0 743.9 L1282.0 743.3 L1284.0 743.8 L1286.0 744.4 L1288.0 743.7 L1290.0 742.6 L1292.0 742.1 L1294.0 742.0 L1296.0 742.0 L1298.0 740.5 L1300.0 740.0 L1302.0 741.3 L1304.0 740.3 L1306.0 740.5 L1308.0 739.6 L1310.0 739.8 L1312.0 738.5 L1314.0 738.7 L1316.0 738.8 L1318.0 738.3 L1320.0 737.3 L1322.0 737.6 L1324.0 736.6 L1326.0 735.9 L1328.0 736.5 L1330.0 736.6 L1332.0 736.1 L1334.0 734.9 L1336.0 735.6 L1338.0 735.2 L1340.0 734.4 L1342.0 733.2 L1344.0 734.5 L1346.0 734.2 L1348.0 733.8 L1350.0 732.5 L1352.0 732.3 L1354.0 733.3 L1356.0 732.9 L1358.0 732.5 L1360.0 731.9 L1362.0 732.0 L1364.0 731.3 L1366.0 731.2 L1368.0 730.7 L1370.0 731.0 L1372.0 730.5 L1374.0 730.9 L1376.0 730.6 L1378.0 729.6 L1380.0 730.7 L1382.0 729.1 L1384.0 729.6 L1386.0 729.7 L1388.0 729.6" stroke="#2966d2"/>
<path d="M424.0 893.1 L426.0 893.4 L428.0 892.2 L430.0 890.9 L432.0 888.0 L434.0 886.4 L436.0 884.1 L438.0 881.4 L440.0 879.4 L442.0 876.3 L444.0 874.4 L446.0 871.8 L448.0 868.7 L450.0 866.7 L452.0 864.8 L454.0 863.2 L456.0 861.7 L458.0 859.4 L460.0 857.9 L462.0 855.2 L464.0 852.7 L466.0 851.7 L468.0 850.1 L470.0 847.9 L472.0 845.7 L474.0 844.3 L476.0 842.9 L478.0 840.3 L480.0 838.2 L482.0 836.3 L484.0 835.3 L486.0 832.7 L488.0 831.1 L490.0 829.4 L492.0 827.5 L494.0 824.9 L496.0 823.7 L498.0 821.7 L500.0 819.7 L502.0 818.0 L504.0 815.6 L506.0 813.9 L508.0 811.8 L510.0 810.4 L512.0 808.0 L514.0 806.5 L516.0 804.1 L518.0 802.6 L520.0 800.6 L522.0 798.8 L524.0 797.0 L526.0 794.9 L528.0 792.9 L530.0 790.3 L532.0 789.3 L534.0 786.6 L536.0 784.6 L538.0 782.2 L540.0 780.6 L542.0 777.8 L544.0 776.1 L546.0 774.1 L548.0 772.0 L550.0 769.7 L552.0 767.4 L554.0 764.7 L556.0 763.4 L558.0 761.2 L560.0 758.9 L562.0 756.8 L564.0 754.4 L566.0 752.2 L568.0 750.7 L570.0 748.8 L572.0 746.2 L574.0 745.0 L576.0 743.0 L578.0 741.5 L580.0 739.6 L582.0 738.2 L584.0 736.6 L586.0 735.1 L588.0 732.8 L590.0 732.3 L592.0 730.8 L594.0 729.1 L596.0 728.7 L598.0 726.8 L600.0 726.7 L602.0 726.1 L604.0 724.4 L606.0 724.3 L608.0 723.4 L610.0 722.8 L612.0 721.4 L614.0 721.8 L616.0 721.2 L618.0 721.1 L620.0 720.5 L622.0 720.7 L624.0 720.0 L626.0 719.8 L628.0 719.7 L630.0 718.7 L632.0 718.5 L634.0 717.6 L636.0 717.2 L638.0 716.1 L640.0 716.1 L642.0 715.7 L644.0 714.6 L646.0 714.4 L648.0 713.7 L650.0 712.5 L652.0 712.7 L654.0 712.6 L656.0 711.4 L658.0 710.4 L660.0 710.8 L662.0 710.0 L664.0 710.7 L666.0 709.4 L668.0 709.0 L670.0 708.3 L672.0 708.2 L674.0 707.5 L676.0 707.0 L678.0 707.0 L680.0 706.3 L682.0 706.9 L684.0 705.4 L686.0 705.5 L688.0 704.9 L690.0 704.3 L692.0 705.3 L694.0 703.3 L696.0 704.7 L698.0 703.1 L700.0 703.6 L702.0 704.4 L704.0 702.1 L706.0 702.3 L708.0 703.4 L710.0 702.7 L712.0 702.2 L714.0 702.3 L716.0 701.7 L718.0 702.1 L720.0 702.6 L722.0 701.6 L724.0 701.7 L726.0 702.1 L728.0 702.3 L730.0 701.0 L732.0 701.3 L734.0 700.8 L736.0 700.6 L738.0 700.6 L740.0 700.4 L742.0 699.7 L744.0 699.5 L746.0 700.0 L748.0 700.3 L750.0 700.7 L752.0 699.8 L754.0 699.8 L756.0 700.1 L758.0 700.1 L760.0 699.6 L762.0 699.5 L764.0 700.3 L766.0 699.2 L768.0 699.0 L770.0 698.4 L772.0 699.3 L774.0 698.8 L776.0 699.8 L778.0 698.6 L780.0 699.1 L782.0 699.0 L784.0 699.3 L786.0 697.8 L788.0 699.0 L790.0 698.2 L792.0 698.1 L794.0 697.9 L796.0 697.7 L798.0 697.7 L800.0 696.6 L802.0 697.9 L804.0 697.6 L806.0 697.0 L808.0 697.3 L810.0 698.4 L812.0 697.3 L814.0 696.9 L816.0 697.8 L818.0 696.5 L820.0 696.7 L822.0 696.4 L824.0 696.5 L826.0 696.8 L828.0 696.7 L830.0 695.9 L832.0 696.1 L834.0 696.1 L836.0 695.8 L838.0 695.8 L840.0 695.4 L842.0 695.3 L844.0 695.5 L846.0 694.9 L848.0 695.4 L850.0 695.0 L852.0 694.5 L854.0 694.4 L856.0 694.3 L858.0 694.3 L860.0 694.2 L862.0 693.9 L864.0 693.4 L866.0 694.3 L868.0 693.9 L870.0 693.3 L872.0 693.5 L874.0 693.0 L876.0 692.5 L878.0 692.5 L880.0 693.5 L882.0 692.6 L884.0 692.4 L886.0 691.6 L888.0 691.9 L890.0 692.5 L892.0 691.5 L894.0 691.7 L896.0 691.7 L898.0 691.3 L900.0 691.6 L902.0 690.9 L904.0 690.9 L906.0 690.3 L908.0 691.7 L910.0 690.5 L912.0 690.3 L914.0 690.8 L916.0 689.8 L918.0 689.9 L920.0 689.4 L922.0 689.7 L924.0 689.4 L926.0 689.8 L928.0 689.4 L930.0 689.0 L932.0 689.1 L934.0 689.1 L936.0 688.8 L938.0 689.4 L940.0 689.2 L942.0 688.9 L944.0 688.2 L946.0 689.0 L948.0 688.0 L950.0 688.7 L952.0 688.6 L954.0 688.2 L956.0 688.0 L958.0 688.1 L960.0 689.4 L962.0 688.2 L964.0 688.2 L966.0 688.8 L968.0 688.5 L970.0 688.8 L972.0 687.7 L974.0 687.8 L976.0 689.9 L978.0 688.3 L980.0 688.2 L982.0 688.4 L984.0 688.8 L986.0 687.7 L988.0 688.5 L990.0 688.3 L992.0 688.6 L994.0 688.4 L996.0 688.1 L998.0 687.9 L1000.0 687.1 L1002.0 688.8 L1004.0 687.6 L1006.0 688.1 L1008.0 689.1 L1010.0 688.1 L1012.0 688.6 L1014.0 688.2 L1016.0 688.6 L1018.0 688.3 L1020.0 688.1 L1022.0 689.0 L1024.0 688.2 L1026.0 687.7 L1028.0 688.2 L1030.0 688.6 L1032.0 687.8 L1034.0 688.7 L1036.0 688.7 L1038.0 689.3 L1040.0 688.0 L1042.0 688.6 L1044.0 687.5 L1046.0 688.1 L1048.0 688.4 L1050.0 688.5 L1052.0 688.3 L1054.0 688.3 L1056.0 688.0 L1058.0 688.1 L1060.0 688.5 L1062.0 688.6 L1064.0 688.6 L1066.0 688.8 L1068.0 688.9 L1070.0 687.4 L1072.0 688.1 L1074.0 688.2 L1076.0 688.0 L1078.0 688.8 L1080.0 688.7 L1082.0 688.3 L1084.0 688.4 L1086.0 688.9 L1088.0 688.1 L1090.0 688.2 L1092.0 688.7 L1094.0 688.5 L1096.0 689.0 L1098.0 688.5 L1100.0 688.7 L1102.0 688.1 L1104.0 687.9 L1106.0 688.3 L1108.0 687.0 L1110.0 688.5 L1112.0 688.8 L1114.0 688.4 L1116.0 688.2 L1118.0 688.8 L1120.0 688.3 L1122.0 688.8 L1124.0 689.4 L1126.0 688.7 L1128.0 688.8 L1130.0 688.6 L1132.0 688.5 L1134.0 688.5 L1136.0 688.4 L1138.0 688.9 L1140.0 687.6 L1142.0 688.3 L1144.0 688.7 L1146.0 688.0 L1148.0 688.4 L1150.0 688.1 L1152.0 688.7 L1154.0 688.9 L1156.0 689.2 L1158.0 688.8 L1160.0 688.2 L1162.0 688.7 L1164.0 688.8 L1166.0 689.3 L1168.0 687.6 L1170.0 688.8 L1172.0 687.8 L1174.0 689.0 L1176.0 688.9 L1178.0 688.9 L1180.0 689.1 L1182.0 688.9 L1184.0 688.4 L1186.0 688.9 L1188.0 689.4 L1190.0 688.8 L1192.0 688.9 L1194.0 688.3 L1196.0 689.4 L1198.0 688.7 L1200.0 688.6 L1202.0 688.7 L1204.0 688.6 L1206.0 688.9 L1208.0 689.6 L1210.0 689.4 L1212.0 689.7 L1214.0 689.8 L1216.0 688.7 L1218.0 689.4 L1220.0 689.9 L1222.0 690.3 L1224.0 688.5 L1226.0 688.6 L1228.0 689.5 L1230.0 689.1 L1232.0 688.8 L1234.0 689.5 L1236.0 689.0 L1238.0 688.3 L1240.0 689.4 L1242.0 689.5 L1244.0 689.7 L1246.0 689.9 L1248.0 689.6 L1250.0 689.4 L1252.0 689.2 L1254.0 688.8 L1256.0 689.4 L1258.0 690.1 L1260.0 689.9 L1262.0 690.6 L1264.0 689.6 L1266.0 688.9 L1268.0 690.1 L1270.0 690.2 L1272.0 689.2 L1274.0 689.0 L1276.0 689.9 L1278.0 690.2 L1280.0 689.4 L1282.0 689.8 L1284.0 689.6 L1286.0 689.4 L1288.0 689.4 L1290.0 690.1 L1292.0 689.9 L1294.0 689.8 L1296.0 688.9 L1298.0 691.0 L1300.0 689.7 L1302.0 690.2 L1304.0 689.7 L1306.0 690.5 L1308.0 689.6 L1310.0 690.4 L1312.0 690.3 L1314.0 690.8 L1316.0 689.9 L1318.0 690.2 L1320.0 690.4 L1322.0 691.5 L1324.0 689.9 L1326.0 690.8 L1328.0 690.3 L1330.0 690.8 L1332.0 691.0 L1334.0 690.8 L1336.0 690.9 L1338.0 691.0 L1340.0 690.6 L1342.0 690.8 L1344.0 690.2 L1346.0 690.8 L1348.0 690.7 L1350.0 690.9 L1352.0 691.4 L1354.0 691.3 L1356.0 691.4 L1358.0 691.7 L1360.0 690.1 L1362.0 691.5 L1364.0 691.3 L1366.0 691.3 L1368.0 690.8 L1370.0 691.7 L1372.0 692.0 L1374.0 692.0 L1376.0 691.5 L1378.0 691.9 L1380.0 692.1 L1382.0 692.5 L1384.0 692.3 L1386.0 691.8 L1388.0 691.8" stroke="#3ca57b"/>
<path d="M424.0 882.1 L426.0 881.1 L428.0 879.5 L430.0 878.4 L432.0 876.2 L434.0 874.4 L436.0 873.0 L438.0 870.9 L440.0 869.2 L442.0 866.7 L444.0 865.6 L446.0 863.5 L448.0 861.5 L450.0 859.8 L452.0 857.8 L454.0 855.7 L456.0 854.8 L458.0 852.3 L460.0 851.1 L462.0 849.8 L464.0 847.3 L466.0 845.9 L468.0 843.9 L470.0 842.8 L472.0 840.6 L474.0 838.6 L476.0 837.7 L478.0 835.8 L480.0 833.4 L482.0 832.2 L484.0 830.1 L486.0 829.0 L488.0 826.8 L490.0 824.2 L492.0 822.4 L494.0 820.3 L496.0 818.8 L498.0 816.9 L500.0 815.2 L502.0 813.2 L504.0 810.8 L506.0 809.2 L508.0 808.2 L510.0 806.4 L512.0 804.2 L514.0 802.5 L516.0 800.8 L518.0 799.1 L520.0 796.8 L522.0 795.9 L524.0 793.6 L526.0 792.0 L528.0 789.2 L530.0 788.1 L532.0 786.4 L534.0 783.2 L536.0 782.3 L538.0 779.8 L540.0 777.2 L542.0 774.8 L544.0 773.5 L546.0 771.0 L548.0 769.0 L550.0 766.6 L552.0 764.3 L554.0 762.7 L556.0 760.0 L558.0 758.4 L560.0 755.5 L562.0 753.6 L564.0 751.3 L566.0 750.1 L568.0 747.1 L570.0 745.2 L572.0 743.8 L574.0 741.6 L576.0 740.3 L578.0 738.2 L580.0 735.8 L582.0 734.0 L584.0 731.4 L586.0 730.1 L588.0 728.7 L590.0 727.3 L592.0 725.4 L594.0 724.2 L596.0 723.0 L598.0 722.5 L600.0 721.2 L602.0 719.8 L604.0 718.8 L606.0 718.1 L608.0 716.8 L610.0 716.1 L612.0 714.8 L614.0 715.3 L616.0 715.0 L618.0 714.3 L620.0 714.1 L622.0 713.7 L624.0 714.2 L626.0 713.1 L628.0 712.2 L630.0 712.0 L632.0 712.5 L634.0 712.4 L636.0 712.0 L638.0 711.8 L640.0 711.3 L642.0 710.3 L644.0 710.6 L646.0 710.0 L648.0 710.6 L650.0 710.0 L652.0 710.6 L654.0 710.4 L656.0 709.5 L658.0 710.7 L660.0 710.6 L662.0 709.5 L664.0 710.2 L666.0 710.4 L668.0 709.8 L670.0 710.3 L672.0 710.0 L674.0 710.3 L676.0 709.9 L678.0 709.6 L680.0 709.9 L682.0 710.0 L684.0 709.7 L686.0 709.4 L688.0 709.2 L690.0 709.4 L692.0 709.3 L694.0 709.6 L696.0 709.6 L698.0 709.5 L700.0 709.5 L702.0 709.6 L704.0 710.3 L706.0 710.2 L708.0 709.5 L710.0 710.0 L712.0 709.8 L714.0 710.1 L716.0 710.1 L718.0 710.1 L720.0 709.9 L722.0 709.6 L724.0 711.0 L726.0 711.6 L728.0 710.8 L730.0 711.6 L732.0 711.3 L734.0 711.7 L736.0 711.3 L738.0 711.7 L740.0 711.8 L742.0 710.9 L744.0 712.2 L746.0 712.1 L748.0 711.0 L750.0 712.6 L752.0 712.3 L754.0 712.5 L756.0 712.7 L758.0 712.4 L760.0 712.1 L762.0 712.5 L764.0 712.6 L766.0 713.9 L768.0 713.8 L770.0 712.7 L772.0 712.8 L774.0 713.2 L776.0 713.4 L778.0 712.8 L780.0 712.7 L782.0 714.2 L784.0 713.8 L786.0 712.6 L788.0 712.5 L790.0 713.0 L792.0 713.5 L794.0 713.7 L796.0 713.3 L798.0 712.7 L800.0 713.7 L802.0 713.9 L804.0 713.6 L806.0 713.4 L808.0 713.9 L810.0 713.7 L812.0 713.2 L814.0 713.8 L816.0 713.2 L818.0 714.3 L820.0 714.1 L822.0 713.4 L824.0 714.0 L826.0 714.5 L828.0 712.9 L830.0 713.9 L832.0 714.8 L834.0 713.3 L836.0 713.9 L838.0 713.4 L840.0 714.0 L842.0 712.9 L844.0 713.3 L846.0 713.9 L848.0 714.2 L850.0 714.3 L852.0 714.4 L854.0 714.8 L856.0 714.5 L858.0 714.6 L860.0 713.8 L862.0 714.2 L864.0 715.8 L866.0 715.4 L868.0 714.7 L870.0 714.6 L872.0 714.8 L874.0 714.1 L876.0 715.2 L878.0 714.1 L880.0 714.2 L882.0 715.4 L884.0 713.3 L886.0 714.5 L888.0 713.4 L890.0 714.0 L892.0 714.2 L894.0 714.1 L896.0 714.4 L898.0 713.9 L900.0 714.2 L902.0 713.7 L904.0 714.1 L906.0 713.6 L908.0 714.6 L910.0 713.6 L912.0 714.6 L914.0 714.1 L916.0 714.1 L918.0 714.9 L920.0 714.3 L922.0 713.4 L924.0 714.5 L926.0 712.9 L928.0 714.4 L930.0 714.1 L932.0 713.6 L934.0 714.3 L936.0 714.1 L938.0 715.3 L940.0 714.1 L942.0 715.2 L944.0 715.0 L946.0 714.0 L948.0 713.9 L950.0 714.9 L952.0 714.2 L954.0 714.4 L956.0 714.2 L958.0 713.7 L960.0 714.1 L962.0 713.8 L964.0 713.5 L966.0 714.1 L968.0 715.2 L970.0 715.1 L972.0 714.3 L974.0 714.4 L976.0 714.5 L978.0 715.0 L980.0 714.4 L982.0 714.0 L984.0 714.1 L986.0 714.8 L988.0 715.6 L990.0 714.0 L992.0 713.3 L994.0 714.7 L996.0 714.2 L998.0 714.4 L1000.0 714.9 L1002.0 714.3 L1004.0 713.6 L1006.0 713.3 L1008.0 714.3 L1010.0 713.7 L1012.0 714.4 L1014.0 713.7 L1016.0 714.1 L1018.0 713.6 L1020.0 714.1 L1022.0 714.1 L1024.0 714.6 L1026.0 715.0 L1028.0 714.2 L1030.0 713.9 L1032.0 715.3 L1034.0 714.5 L1036.0 714.6 L1038.0 714.6 L1040.0 715.0 L1042.0 714.8 L1044.0 714.6 L1046.0 714.7 L1048.0 713.9 L1050.0 714.0 L1052.0 714.2 L1054.0 714.3 L1056.0 714.3 L1058.0 714.4 L1060.0 714.3 L1062.0 714.1 L1064.0 713.5 L1066.0 714.7 L1068.0 714.6 L1070.0 713.8 L1072.0 714.5 L1074.0 714.5 L1076.0 714.3 L1078.0 713.4 L1080.0 713.7 L1082.0 714.0 L1084.0 715.1 L1086.0 713.9 L1088.0 714.1 L1090.0 713.7 L1092.0 714.0 L1094.0 714.5 L1096.0 713.3 L1098.0 712.9 L1100.0 714.6 L1102.0 714.3 L1104.0 714.0 L1106.0 714.8 L1108.0 714.8 L1110.0 713.2 L1112.0 714.2 L1114.0 714.8 L1116.0 714.0 L1118.0 714.1 L1120.0 714.8 L1122.0 714.1 L1124.0 713.7 L1126.0 713.9 L1128.0 713.6 L1130.0 714.5 L1132.0 713.4 L1134.0 714.8 L1136.0 713.4 L1138.0 714.3 L1140.0 713.5 L1142.0 714.1 L1144.0 714.7 L1146.0 714.8 L1148.0 714.9 L1150.0 714.2 L1152.0 714.2 L1154.0 714.3 L1156.0 714.5 L1158.0 714.0 L1160.0 714.7 L1162.0 714.3 L1164.0 714.7 L1166.0 714.4 L1168.0 714.4 L1170.0 713.7 L1172.0 713.9 L1174.0 713.4 L1176.0 713.9 L1178.0 714.0 L1180.0 714.4 L1182.0 713.4 L1184.0 715.6 L1186.0 713.9 L1188.0 714.6 L1190.0 714.5 L1192.0 712.7 L1194.0 713.8 L1196.0 714.6 L1198.0 712.7 L1200.0 714.3 L1202.0 713.4 L1204.0 713.6 L1206.0 713.9 L1208.0 712.9 L1210.0 713.9 L1212.0 713.4 L1214.0 713.4 L1216.0 714.1 L1218.0 715.5 L1220.0 713.9 L1222.0 713.9 L1224.0 713.6 L1226.0 713.3 L1228.0 713.7 L1230.0 714.3 L1232.0 713.7 L1234.0 714.0 L1236.0 713.4 L1238.0 714.7 L1240.0 712.7 L1242.0 713.7 L1244.0 713.7 L1246.0 713.5 L1248.0 712.8 L1250.0 712.8 L1252.0 713.2 L1254.0 713.4 L1256.0 712.7 L1258.0 712.7 L1260.0 713.5 L1262.0 713.7 L1264.0 712.9 L1266.0 712.8 L1268.0 712.8 L1270.0 714.3 L1272.0 713.3 L1274.0 713.0 L1276.0 713.5 L1278.0 714.1 L1280.0 713.5 L1282.0 712.2 L1284.0 712.9 L1286.0 712.7 L1288.0 712.7 L1290.0 712.2 L1292.0 712.6 L1294.0 712.2 L1296.0 712.9 L1298.0 712.7 L1300.0 712.0 L1302.0 711.8 L1304.0 712.4 L1306.0 712.9 L1308.0 712.8 L1310.0 712.5 L1312.0 710.9 L1314.0 712.2 L1316.0 712.1 L1318.0 712.2 L1320.0 711.8 L1322.0 712.1 L1324.0 712.0 L1326.0 713.6 L1328.0 712.6 L1330.0 712.1 L1332.0 712.2 L1334.0 712.1 L1336.0 712.2 L1338.0 711.9 L1340.0 712.1 L1342.0 712.5 L1344.0 712.4 L1346.0 712.1 L1348.0 712.6 L1350.0 712.0 L1352.0 711.4 L1354.0 711.0 L1356.0 711.5 L1358.0 711.7 L1360.0 711.9 L1362.0 712.2 L1364.0 711.4 L1366.0 711.2 L1368.0 712.0 L1370.0 712.2 L1372.0 711.3 L1374.0 711.7 L1376.0 712.2 L1378.0 711.6 L1380.0 711.4 L1382.0 710.3 L1384.0 712.0 L1386.0 711.6 L1388.0 711.3" stroke="#aa7cc8"/>
</g>
<line x1="742.3" y1="696.4" x2="742.3" y2="1194" stroke="#000" stroke-width="5" stroke-dasharray="27.6 22.1"/>
<rect x="423.4" y="551.3" width="964.5" height="646" fill="none" stroke="#000" stroke-width="7.5"/>
<path d="M423.4 1197.3 H436 M423.4 1116.5 H429.5 M423.4 1035.8 H436 M423.4 955.0 H429.5 M423.4 874.3 H436 M423.4 793.5 H429.5 M423.4 712.8 H436 M423.4 632.0 H429.5 M423.4 551.3 H436 M519.8 1197.3 V1191 M616.3 1197.3 V1184.5 M712.8 1197.3 V1191 M809.2 1197.3 V1184.5 M905.6 1197.3 V1191 M1002.1 1197.3 V1184.5 M1098.5 1197.3 V1191 M1195.0 1197.3 V1184.5 M1291.4 1197.3 V1191" stroke="#000" stroke-width="6.5" fill="none"/>
<text x="408.5" y="1212.4" font-family="'Liberation Serif', serif" font-weight="bold" font-size="45.5" text-anchor="end">20</text>
<text x="408.5" y="1050.9" font-family="'Liberation Serif', serif" font-weight="bold" font-size="45.5" text-anchor="end">40</text>
<text x="408.5" y="889.4" font-family="'Liberation Serif', serif" font-weight="bold" font-size="45.5" text-anchor="end">60</text>
<text x="408.5" y="727.9" font-family="'Liberation Serif', serif" font-weight="bold" font-size="45.5" text-anchor="end">80</text>
<text x="408.5" y="566.4" font-family="'Liberation Serif', serif" font-weight="bold" font-size="45.5" text-anchor="end">100</text>
<text x="423.4" y="1247.6" font-family="'Liberation Serif', serif" font-weight="bold" font-size="45.5" text-anchor="middle">200</text>
<text x="616.3" y="1247.6" font-family="'Liberation Serif', serif" font-weight="bold" font-size="45.5" text-anchor="middle">220</text>
<text x="809.2" y="1247.6" font-family="'Liberation Serif', serif" font-weight="bold" font-size="45.5" text-anchor="middle">240</text>
<text x="1002.1" y="1247.6" font-family="'Liberation Serif', serif" font-weight="bold" font-size="45.5" text-anchor="middle">260</text>
<text x="1195.0" y="1247.6" font-family="'Liberation Serif', serif" font-weight="bold" font-size="45.5" text-anchor="middle">280</text>
<text x="1387.9" y="1247.6" font-family="'Liberation Serif', serif" font-weight="bold" font-size="45.5" text-anchor="middle">300</text>
<line x1="1596" y1="444.8" x2="1765" y2="444.8" stroke="#aa7cc8" stroke-width="10" stroke-linecap="round"/>
<text x="1781.5" y="471.8" font-family="'Liberation Serif', serif" font-weight="bold" font-size="76">700°C</text>
<line x1="1596" y1="540.2" x2="1765" y2="540.2" stroke="#3ca57b" stroke-width="10" stroke-linecap="round"/>
<text x="1781.5" y="566.8" font-family="'Liberation Serif', serif" font-weight="bold" font-size="76">600°C</text>
<line x1="1596" y1="635.0" x2="1765" y2="635.0" stroke="#2966d2" stroke-width="10" stroke-linecap="round"/>
<text x="1781.5" y="661.8" font-family="'Liberation Serif', serif" font-weight="bold" font-size="76">500°C</text>
<line x1="1596" y1="730.0" x2="1765" y2="730.0" stroke="#f4384e" stroke-width="10" stroke-linecap="round"/>
<text x="1781.5" y="756.8" font-family="'Liberation Serif', serif" font-weight="bold" font-size="76">400°C</text>
<line x1="1596" y1="824.8" x2="1765" y2="824.8" stroke="#4b4b4b" stroke-width="10" stroke-linecap="round"/>
<text x="1781.5" y="851.8" font-family="'Liberation Serif', serif" font-weight="bold" font-size="76">as-deposited</text>
<line x1="1596" y1="919.7" x2="1765" y2="919.7" stroke="#de8a44" stroke-width="10" stroke-linecap="round"/>
<text x="1781.5" y="946.8" font-family="'Liberation Serif', serif" font-weight="bold" font-size="76">quartz</text>
</svg>
</body></html>
